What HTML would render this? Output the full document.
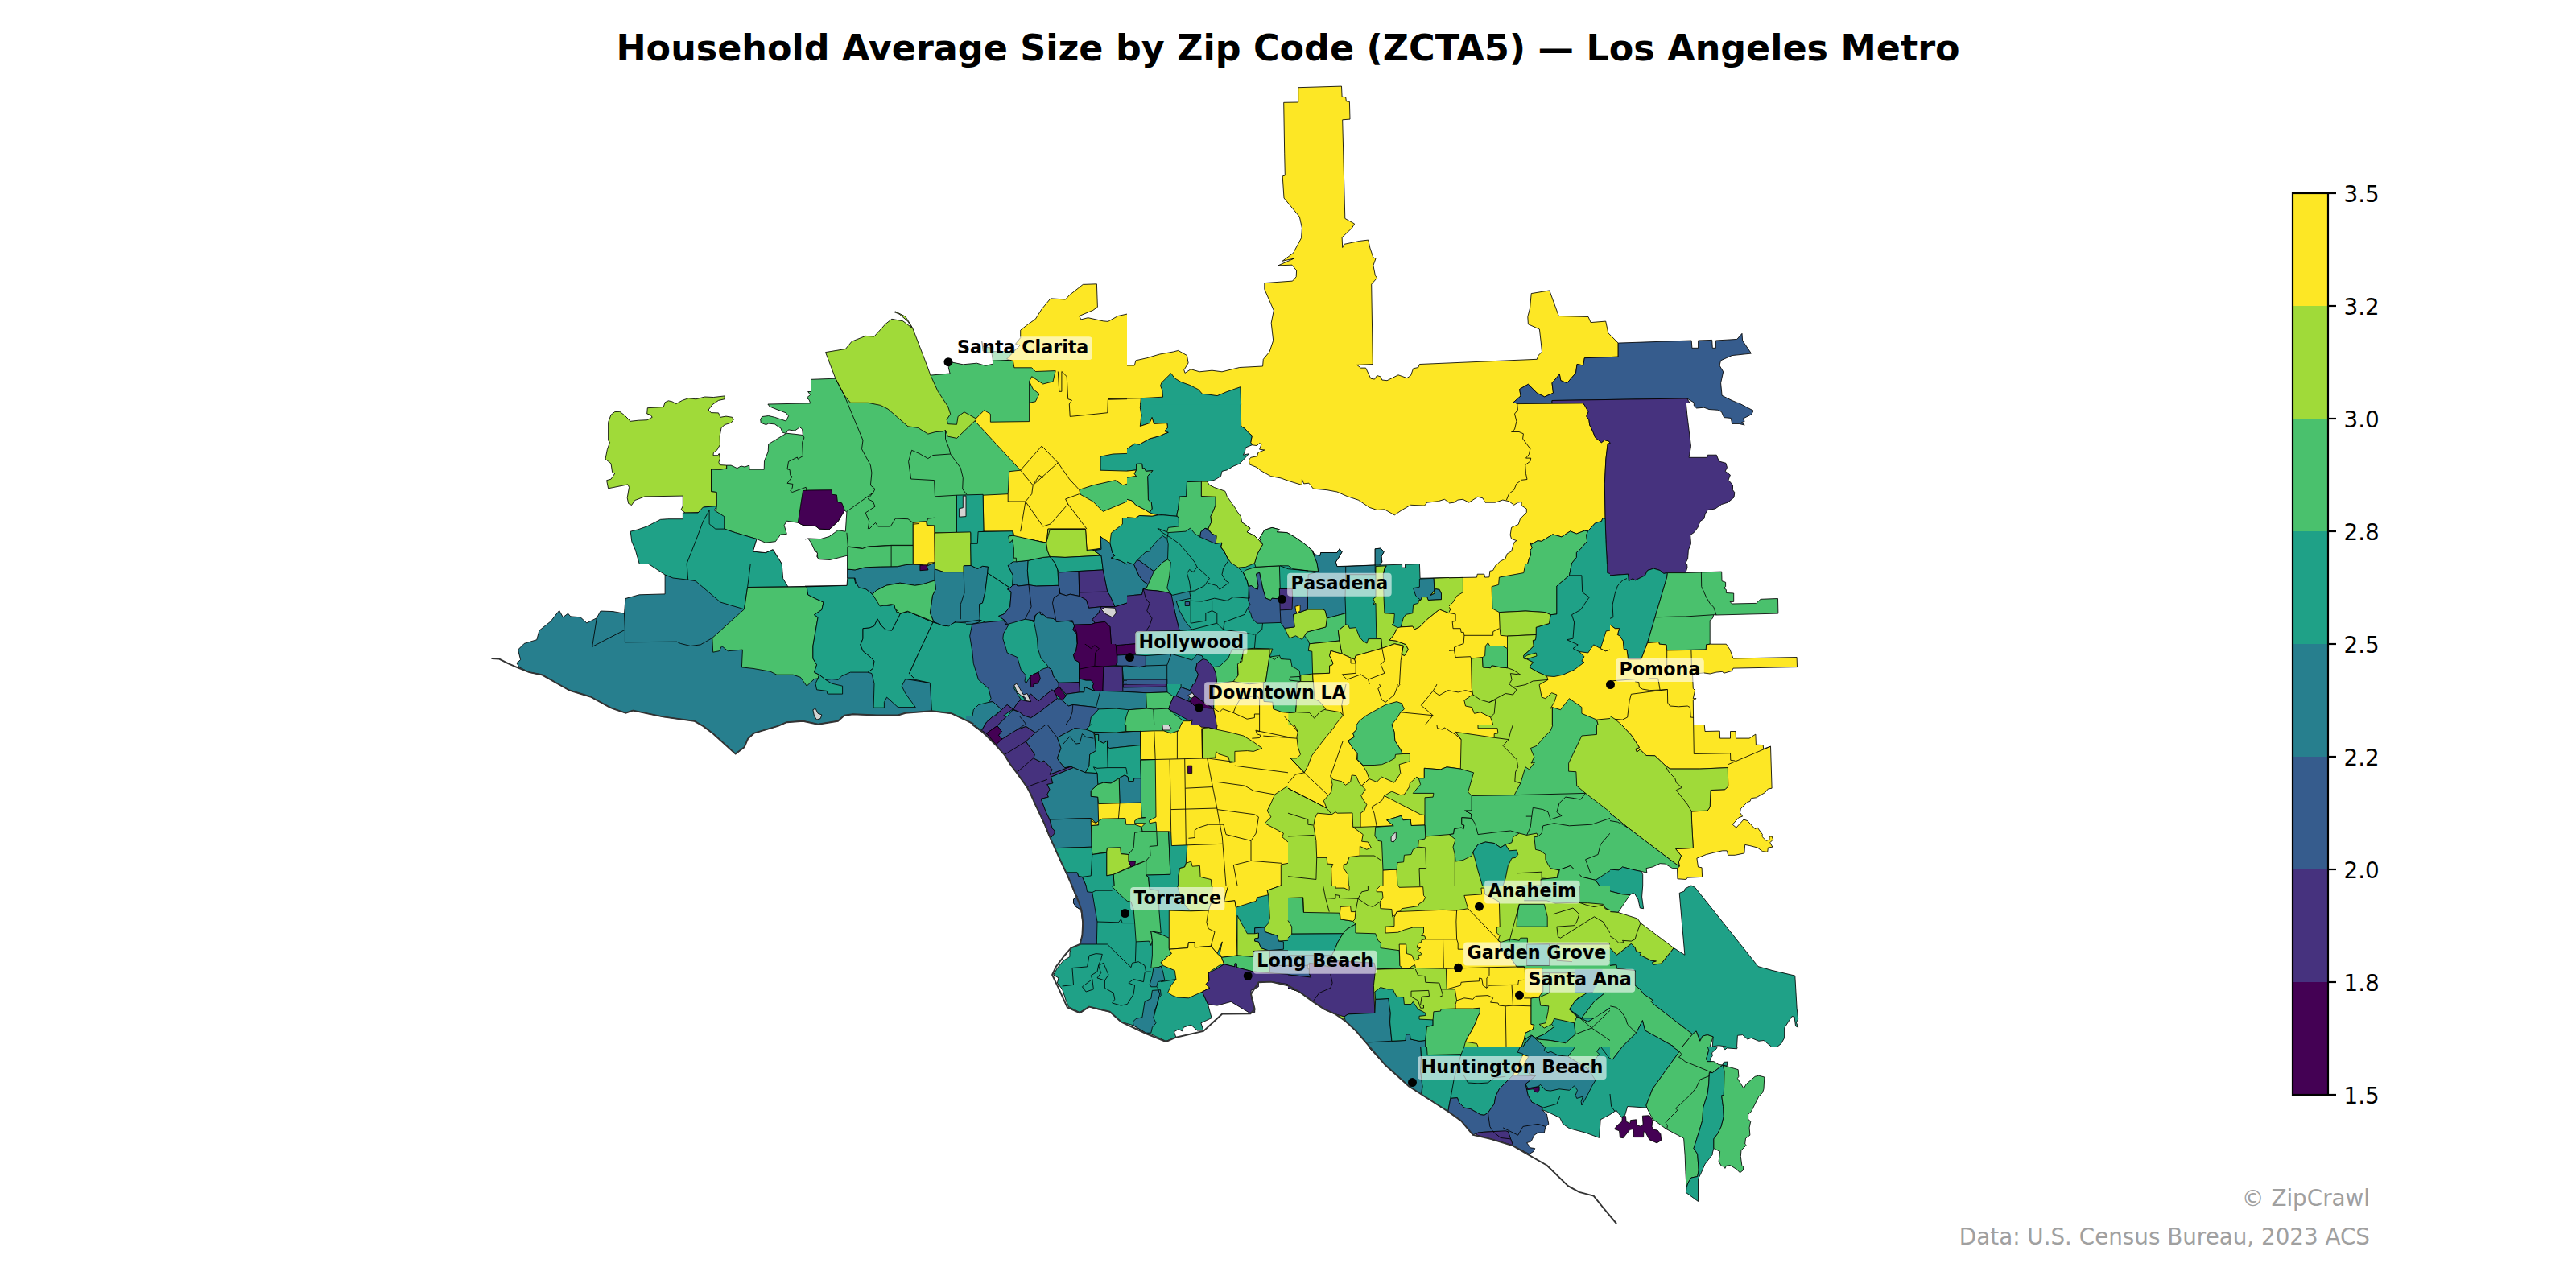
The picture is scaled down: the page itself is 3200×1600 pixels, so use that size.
<!DOCTYPE html>
<html lang="en">
<head>
<meta charset="utf-8">
<title>Household Average Size by Zip Code (ZCTA5) — Los Angeles Metro</title>
<style>
html,body{margin:0;padding:0;background:#fff;}
body{width:3200px;height:1600px;overflow:hidden;position:relative;font-family:"DejaVu Sans","Liberation Sans",sans-serif;}
svg{position:absolute;left:0;top:0;display:block;}
#map path{stroke:#000;stroke-width:0.85;stroke-linejoin:round;}
#map path.f{stroke:none;}
#map path.k{stroke:#333;stroke-width:1.95;stroke-linecap:round;}
.title{font-weight:bold;font-size:44.44px;fill:#000;}
.tick{font-size:27.78px;fill:#000;}
.foot{font-size:27.78px;fill:#a0a0a0;}
.city{font-weight:bold;font-size:22.22px;fill:#000;}
.lbox{fill:#fff;fill-opacity:0.6;}
</style>
</head>
<body>
<svg xmlns="http://www.w3.org/2000/svg" width="3200" height="1600" viewBox="0 0 3200 1600">
<rect x="0" y="0" width="3200" height="1600" fill="#ffffff"/>
<g id="map">
<path class="f" d="M1612.7,108.7L1666.5,107.1L1667.1,120.2L1671.7,120.8L1672.4,125.8L1676.4,126.4L1677.0,148.1L1667.7,148.8L1669.6,224.2L1670.8,271.4L1682.6,278.0L1679.5,283.2L1667.1,295.0L1667.7,307.5L1669.6,303.4L1688.8,299.4L1699.7,298.1L1701.9,308.1L1705.9,319.9L1709.0,321.1L1705.9,329.8L1708.4,342.2L1710.6,345.3L1703.7,353.1L1705.3,452.5L1685.7,453.4L1690.4,457.1L1696.6,457.1L1702.8,470.2L1707.5,471.1L1710.6,466.5L1715.2,468.0L1716.8,472.0L1723.0,472.7L1737.0,465.8L1747.8,469.6L1752.5,466.5L1755.6,457.8L1761.8,456.5L1763.4,452.5L1909.3,446.3L1910.9,441.6L1915.5,437.0L1914.0,423.0L1912.4,409.0L1898.4,402.8L1897.8,393.5L1900.6,382.6L1902.2,364.6L1924.8,360.9L1936.3,392.5L1973.0,393.5L1976.1,400.6L1994.7,399.1L1997.8,413.7L2010.2,426.1L2010.2,443.2L1968.3,444.7L1966.8,454.0L1959.0,452.5L1957.5,463.4L1946.6,475.8L1938.8,472.7L1937.3,464.9L1928.0,475.8L1929.5,488.2L1918.6,492.9L1909.3,488.2L1898.4,477.3L1887.6,483.5L1889.1,491.9L1879.8,500.0L1879.8,534.8L1400.0,534.8L1400.0,454.0L1409.3,454.0L1410.9,447.8L1424.8,444.7L1440.4,440.1L1457.5,437.0L1463.7,435.4L1474.5,441.6L1476.1,450.9L1470.8,459.6L1472.0,463.4L1479.2,458.7L1490.1,461.8L1505.6,460.2L1518.0,461.8L1539.8,456.5L1568.6,455.0L1569.3,446.3L1577.0,437.0L1581.7,423.0L1579.2,401.2L1582.3,385.7L1570.8,359.3L1570.8,351.6L1605.6,349.1L1610.2,343.8L1610.6,336.0L1605.0,329.2L1587.9,329.8L1607.5,321.1L1593.2,324.2L1606.5,314.3L1616.5,295.7L1617.4,283.2L1614.3,269.3L1595.0,246.0L1593.2,218.9L1596.3,218.0L1595.7,190.1L1594.7,127.3L1612.7,127.0Z" fill="#fde725"/>
<path d="M1612.7,108.7L1666.5,107.1L1667.1,120.2L1671.7,120.8L1672.4,125.8L1676.4,126.4L1677.0,148.1L1667.7,148.8L1669.6,224.2L1670.8,271.4L1682.6,278.0L1679.5,283.2L1667.1,295.0L1667.7,307.5L1669.6,303.4L1688.8,299.4L1699.7,298.1L1701.9,308.1L1705.9,319.9L1709.0,321.1L1705.9,329.8L1708.4,342.2L1710.6,345.3L1703.7,353.1L1705.3,452.5L1685.7,453.4L1690.4,457.1L1696.6,457.1L1702.8,470.2L1707.5,471.1L1710.6,466.5L1715.2,468.0L1716.8,472.0L1723.0,472.7L1737.0,465.8L1747.8,469.6L1752.5,466.5L1755.6,457.8L1761.8,456.5L1763.4,452.5L1909.3,446.3L1910.9,441.6L1915.5,437.0L1914.0,423.0L1912.4,409.0L1898.4,402.8L1897.8,393.5L1900.6,382.6L1902.2,364.6L1924.8,360.9L1936.3,392.5L1973.0,393.5L1976.1,400.6L1994.7,399.1L1997.8,413.7L2010.2,426.1L2010.2,443.2L1968.3,444.7L1966.8,454.0L1959.0,452.5L1957.5,463.4L1946.6,475.8L1938.8,472.7L1937.3,464.9L1928.0,475.8L1929.5,488.2L1918.6,492.9L1909.3,488.2L1898.4,477.3L1887.6,483.5L1889.1,491.9L1879.8,500.0M1400.0,454.0L1409.3,454.0L1410.9,447.8L1424.8,444.7L1440.4,440.1L1457.5,437.0L1463.7,435.4L1474.5,441.6L1476.1,450.9L1470.8,459.6L1472.0,463.4L1479.2,458.7L1490.1,461.8L1505.6,460.2L1518.0,461.8L1539.8,456.5L1568.6,455.0L1569.3,446.3L1577.0,437.0L1581.7,423.0L1579.2,401.2L1582.3,385.7L1570.8,359.3L1570.8,351.6L1605.6,349.1L1610.2,343.8L1610.6,336.0L1605.0,329.2L1587.9,329.8L1607.5,321.1L1593.2,324.2L1606.5,314.3L1616.5,295.7L1617.4,283.2L1614.3,269.3L1595.0,246.0L1593.2,218.9L1596.3,218.0L1595.7,190.1L1594.7,127.3L1612.7,127.0L1612.7,108.7" fill="none"/>
<path class="f" d="M2010.2,426.1L2101.2,423.0L2101.9,432.3L2109.6,432.3L2109.6,423.0L2126.7,422.4L2127.3,432.3L2131.4,432.3L2131.4,423.0L2157.8,421.4L2164.0,414.3L2164.6,423.0L2175.5,439.1L2151.6,441.6L2137.6,447.8L2136.0,454.0L2140.7,461.8L2137.6,475.8L2139.1,491.3L2151.6,497.5L2157.8,500.0L2104.3,500.0L2095.7,495.0L1928.0,497.5L1928.0,500.0L1879.8,500.0L1889.1,491.9L1887.6,483.5L1898.4,477.3L1909.3,488.2L1918.6,492.9L1929.5,488.2L1928.0,475.8L1937.3,464.9L1938.8,472.7L1946.6,475.8L1957.5,463.4L1959.0,452.5L1966.8,454.0L1968.3,444.7L2010.2,443.2Z" fill="#365c8d"/>
<path d="M2010.2,426.1L2101.2,423.0L2101.9,432.3L2109.6,432.3L2109.6,423.0L2126.7,422.4L2127.3,432.3L2131.4,432.3L2131.4,423.0L2157.8,421.4L2164.0,414.3L2164.6,423.0L2175.5,439.1L2151.6,441.6L2137.6,447.8L2136.0,454.0L2140.7,461.8L2137.6,475.8L2139.1,491.3L2151.6,497.5L2157.8,500.0M2104.3,500.0L2095.7,495.0L1928.0,497.5L1928.0,500.0M1879.8,500.0L1889.1,491.9L1887.6,483.5L1898.4,477.3L1909.3,488.2L1918.6,492.9L1929.5,488.2L1928.0,475.8L1937.3,464.9L1938.8,472.7L1946.6,475.8L1957.5,463.4L1959.0,452.5L1966.8,454.0L1968.3,444.7L2010.2,443.2L2010.2,426.1" fill="none"/>
<path class="f" d="M1928.0,500.0L1928.0,497.5L2095.7,495.0L2098.8,500.0Z" fill="#46327e"/>
<path d="M1928.0,500.0L1928.0,497.5L2095.7,495.0L2098.8,500.0" fill="none"/>
<path class="f" d="M883.5,582.8L894.1,583.2L902.6,582.0L902.6,578.1L908.1,578.1L915.8,581.7L920.5,578.9L925.2,580.1L930.6,578.1L931.1,583.2L949.2,583.2L949.5,572.7L954.2,561.0L954.7,551.7L976.4,538.5L971.7,537.0L970.2,532.3L962.4,526.9L954.7,526.1L951.6,527.6L945.3,525.3L944.6,520.7L946.9,517.5L954.7,516.5L962.4,518.3L976.4,523.0L979.5,516.8L976.4,512.9L964.0,508.2L956.2,505.1L953.9,502.0L1006.7,500.9L1005.1,496.6L1002.0,494.3L1006.7,490.4L1003.6,486.5L1007.5,486.5L1007.5,471.3L1038.5,470.2L1096.9,473.9L1155.9,466.1L1180.1,464.0L1178.3,456.8L1180.7,449.7L1196.3,452.8L1213.4,451.2L1224.2,454.3L1233.5,452.2L1233.5,447.5L1259.9,447.5L1314.3,455.3L1400.0,548.4L1400.0,700.0L971.1,700.0L960.2,682.6L950.9,686.6L935.4,685.1L940.1,669.6L913.7,661.8L899.7,657.1L888.8,641.6L890.2,628.6L890.2,611.5L883.5,610.7Z" fill="#4ac16d"/>
<path d="M883.5,582.8L894.1,583.2L902.6,582.0L902.6,578.1L908.1,578.1L915.8,581.7L920.5,578.9L925.2,580.1L930.6,578.1L931.1,583.2L949.2,583.2L949.5,572.7L954.2,561.0L954.7,551.7L976.4,538.5L971.7,537.0L970.2,532.3L962.4,526.9L954.7,526.1L951.6,527.6L945.3,525.3L944.6,520.7L946.9,517.5L954.7,516.5L962.4,518.3L976.4,523.0L979.5,516.8L976.4,512.9L964.0,508.2L956.2,505.1L953.9,502.0L1006.7,500.9L1005.1,496.6L1002.0,494.3L1006.7,490.4L1003.6,486.5L1007.5,486.5L1007.5,471.3L1038.5,470.2L1096.9,473.9L1155.9,466.1L1180.1,464.0L1178.3,456.8L1180.7,449.7L1196.3,452.8L1213.4,451.2L1224.2,454.3L1233.5,452.2L1233.5,447.5L1259.9,447.5L1314.3,455.3L1400.0,548.4M971.1,700.0L960.2,682.6L950.9,686.6L935.4,685.1L940.1,669.6L913.7,661.8L899.7,657.1L888.8,641.6L890.2,628.6L890.2,611.5L883.5,610.7L883.5,582.8" fill="none"/>
<path d="M1219.6,423.6L1221.1,436.0L1232.0,438.8L1233.5,448.4L1252.2,447.5L1267.1,434.5L1263.0,432.9L1258.4,436.6L1233.5,436.6L1230.4,432.0L1221.1,430.4Z" fill="#4ac16d"/>
<path class="f" d="M1400.0,390.1L1388.8,392.5L1376.4,399.4L1370.2,398.8L1351.6,394.7L1342.9,396.9L1340.7,392.5L1357.8,385.4L1363.4,381.4L1362.4,352.8L1345.3,353.4L1328.3,366.8L1323.6,372.0L1305.0,370.8L1294.1,383.9L1286.3,396.3L1275.5,404.0L1267.7,410.2L1267.7,419.6L1261.5,427.3L1267.1,428.9L1250.6,446.0L1258.4,448.4L1259.9,456.8L1281.7,456.8L1286.3,461.5L1311.2,460.6L1308.1,473.9L1295.7,477.0L1281.7,467.7L1278.6,473.9L1283.2,483.2L1291.0,489.4L1286.3,498.8L1278.6,500.3L1278.6,523.6L1230.4,524.2L1230.4,514.3L1222.7,509.6L1210.2,522.0L1267.7,584.2L1253.7,585.7L1252.2,613.7L1221.1,615.2L1222.0,660.2L1258.4,660.2L1259.9,666.5L1300.3,674.2L1301.9,657.1L1348.4,657.1L1350.0,683.5L1367.1,681.4L1367.1,666.5L1379.5,677.3L1400.0,657.1Z" fill="#fde725"/>
<path d="M1400.0,390.1L1388.8,392.5L1376.4,399.4L1370.2,398.8L1351.6,394.7L1342.9,396.9L1340.7,392.5L1357.8,385.4L1363.4,381.4L1362.4,352.8L1345.3,353.4L1328.3,366.8L1323.6,372.0L1305.0,370.8L1294.1,383.9L1286.3,396.3L1275.5,404.0L1267.7,410.2L1267.7,419.6L1261.5,427.3L1267.1,428.9L1250.6,446.0L1258.4,448.4L1259.9,456.8L1281.7,456.8L1286.3,461.5L1311.2,460.6L1308.1,473.9L1295.7,477.0L1281.7,467.7L1278.6,473.9L1283.2,483.2L1291.0,489.4L1286.3,498.8L1278.6,500.3L1278.6,523.6L1230.4,524.2L1230.4,514.3L1222.7,509.6L1210.2,522.0L1267.7,584.2L1253.7,585.7L1252.2,613.7L1221.1,615.2L1222.0,660.2L1258.4,660.2L1259.9,666.5L1300.3,674.2L1301.9,657.1L1348.4,657.1L1350.0,683.5L1367.1,681.4L1367.1,666.5L1379.5,677.3L1400.0,657.1" fill="none"/>
<path d="M1025.5,437.6L1050.3,433.5L1058.1,424.2L1075.2,417.4L1086.0,418.0L1100.0,402.5L1107.8,396.3L1121.7,398.8L1132.6,407.1L1128.0,399.4L1117.1,390.1L1110.9,387.6L1112.4,387.0L1124.8,393.2L1133.5,407.1L1149.7,449.1L1155.9,466.1L1165.2,486.3L1177.6,505.0L1180.7,514.3L1176.1,521.1L1177.6,526.7L1188.5,527.3L1190.1,517.4L1197.8,511.8L1213.4,520.5L1188.5,544.4L1177.6,542.2L1174.5,534.5L1171.4,536.0L1162.1,536.6L1152.8,539.1L1140.4,531.4L1128.0,529.8L1115.5,518.9L1103.1,508.1L1093.8,503.4L1078.3,500.3L1056.5,500.3L1048.8,491.0L1037.9,470.2Z" fill="#a0da39"/>
<path d="M755.6,524.5L759.0,515.2L763.7,511.6L769.9,511.3L776.1,516.0L783.1,523.3L793.2,522.2L804.0,521.7L810.2,518.3L807.9,515.2L803.7,514.0L804.3,506.7L824.2,505.6L826.1,499.7L830.4,497.8L835.1,498.9L839.8,501.6L847.5,497.4L855.3,494.7L864.6,495.8L875.5,493.0L886.3,493.5L900.3,491.9L900.0,495.8L892.5,497.4L884.8,502.8L880.1,509.0L883.2,512.6L892.5,512.9L894.9,518.3L901.9,517.1L909.6,518.3L911.2,521.7L908.1,525.3L900.3,527.6L896.0,531.5L894.1,541.6L894.4,552.5L891.0,558.7L886.3,562.6L886.0,565.7L891.8,565.7L893.3,563.4L894.4,569.6L892.9,574.2L894.1,577.6L902.6,578.1L902.6,582.0L894.1,583.2L883.5,582.8L883.5,610.7L890.2,611.5L890.2,628.6L875.2,629.8L873.9,636.3L851.4,637.1L846.0,633.2L848.3,628.6L848.3,616.1L800.9,616.9L788.5,621.6L784.6,627.5L780.7,625.5L779.2,618.5L781.5,605.3L780.0,601.9L755.6,606.8L753.6,596.7L759.0,595.2L763.7,588.2L760.6,586.6L759.0,575.8L752.0,570.3L754.3,558.7L757.5,549.4L755.6,547.0Z" fill="#a0da39"/>
<path class="f" d="M783.2,660.2L792.5,657.8L803.4,654.0L820.5,645.3L829.8,644.7L848.4,644.7L848.4,637.0L867.1,637.0L873.3,630.1L890.4,628.6L887.3,633.9L899.7,641.6L899.7,657.1L913.7,661.8L940.1,669.6L935.4,685.1L950.9,686.6L960.2,682.6L971.1,700.0L794.1,700.0L789.4,683.5L784.8,672.7Z" fill="#1fa187"/>
<path d="M783.2,660.2L792.5,657.8L803.4,654.0L820.5,645.3L829.8,644.7L848.4,644.7L848.4,637.0L867.1,637.0L873.3,630.1L890.4,628.6L887.3,633.9L899.7,641.6L899.7,657.1L913.7,661.8L940.1,669.6L935.4,685.1L950.9,686.6L960.2,682.6L971.1,700.0M794.1,700.0L789.4,683.5L784.8,672.7L783.2,660.2" fill="none"/>
<path d="M881.1,633.9L873.3,647.8L864.0,672.7L853.1,700.0" fill="none"/>
<path d="M881.1,633.9L881.1,650.9L888.8,657.1L899.7,657.1" fill="none"/>
<path class="f" d="M977.3,647.2L991.9,649.4L997.5,652.5L1013.0,653.4L1017.7,657.1L1030.1,657.8L1041.0,647.8L1048.8,633.9L1051.9,636.0L1050.3,660.2L1041.0,658.7L1030.1,666.5L1019.3,669.6L1003.7,668.9L1009.9,682.0L1014.6,685.1L1016.1,694.4L1019.3,700.0L971.1,700.0L960.2,682.6L950.9,686.6L935.4,685.1L940.1,669.6L950.9,674.2L963.4,672.7L969.6,664.0L977.3,663.4L974.2,652.5Z" fill="#ffffff"/>
<path d="M977.3,647.2L991.9,649.4L997.5,652.5L1013.0,653.4L1017.7,657.1L1030.1,657.8L1041.0,647.8L1048.8,633.9L1051.9,636.0L1050.3,660.2L1041.0,658.7L1030.1,666.5L1019.3,669.6L1003.7,668.9L1009.9,682.0L1014.6,685.1L1016.1,694.4L1019.3,700.0M971.1,700.0L960.2,682.6L950.9,686.6L935.4,685.1L940.1,669.6L950.9,674.2L963.4,672.7L969.6,664.0L977.3,663.4L974.2,652.5L977.3,647.2" fill="none"/>
<path d="M976.4,538.2L979.5,533.9L987.3,535.1L993.5,530.7L996.6,533.1L997.4,540.5L987.3,539.3Z" fill="#ffffff"/>
<path d="M997.5,609.6L1003.7,609.0L1033.2,608.7L1033.5,614.3L1039.4,614.9L1040.4,623.6L1045.7,624.8L1049.4,633.9L1041.0,647.8L1030.1,657.8L1017.7,657.1L1013.0,653.4L997.5,652.5L991.3,649.4L994.4,629.2Z" fill="#440154"/>
<path class="f" d="M1188.5,615.2L1221.1,614.3L1222.0,660.2L1258.4,660.2L1259.9,683.5L1256.8,700.0L1205.6,700.0L1205.6,661.8L1188.5,661.8Z" fill="#1fa187"/>
<path d="M1188.5,615.2L1221.1,614.3L1222.0,660.2L1258.4,660.2L1259.9,683.5L1256.8,700.0M1205.6,700.0L1205.6,661.8L1188.5,661.8L1188.5,615.2" fill="none"/>
<path d="M1196.3,616.1L1200.0,616.1L1200.0,641.6L1191.6,642.2L1191.6,631.7L1196.3,630.7Z" fill="#d3d3d3"/>
<path d="M1205.6,661.8L1205.6,675.2L1216.5,674.2L1216.5,660.9L1222.0,660.2" fill="none"/>
<path class="f" d="M1134.2,649.4L1151.2,647.8L1152.2,652.5L1160.6,653.4L1161.5,700.0L1134.2,700.0Z" fill="#fde725"/>
<path d="M1134.2,649.4L1151.2,647.8L1152.2,652.5L1160.6,653.4L1161.5,700.0M1134.2,700.0L1134.2,649.4" fill="none"/>
<path class="f" d="M1161.5,661.8L1205.6,661.8L1205.6,700.0L1161.5,700.0Z" fill="#a0da39"/>
<path d="M1161.5,661.8L1205.6,661.8L1205.6,700.0M1161.5,700.0L1161.5,661.8" fill="none"/>
<path class="f" d="M1252.2,666.5L1259.9,666.5L1300.3,674.2L1301.9,683.5L1308.1,700.0L1256.8,700.0L1259.9,683.5L1258.4,668.0Z" fill="#4ac16d"/>
<path d="M1252.2,666.5L1259.9,666.5L1300.3,674.2L1301.9,683.5L1308.1,700.0M1256.8,700.0L1259.9,683.5L1258.4,668.0L1252.2,666.5" fill="none"/>
<path class="f" d="M1301.9,657.1L1348.4,657.1L1350.0,683.5L1357.8,691.3L1345.3,691.3L1314.3,689.8L1308.1,700.0L1301.9,683.5L1300.3,674.2Z" fill="#a0da39"/>
<path d="M1301.9,657.1L1348.4,657.1L1350.0,683.5L1357.8,691.3L1345.3,691.3L1314.3,689.8L1308.1,700.0L1301.9,683.5L1300.3,674.2L1301.9,657.1" fill="none"/>
<path class="f" d="M1367.1,666.5L1379.5,677.3L1385.7,672.7L1400.0,700.0L1359.3,700.0L1357.8,691.3L1357.8,683.5L1367.1,681.4Z" fill="#277f8e"/>
<path d="M1367.1,666.5L1379.5,677.3L1385.7,672.7L1400.0,700.0M1359.3,700.0L1357.8,691.3L1357.8,683.5L1367.1,681.4L1367.1,666.5" fill="none"/>
<path class="f" d="M1400.0,657.1L1379.5,677.3L1385.7,672.7L1400.0,700.0Z" fill="#1fa187"/>
<path d="M1400.0,657.1L1379.5,677.3L1385.7,672.7L1400.0,700.0" fill="none"/>
<path class="f" d="M1367.1,567.1L1382.6,564.0L1400.0,563.4L1400.0,585.1L1367.1,584.2Z" fill="#1fa187"/>
<path d="M1367.1,567.1L1382.6,564.0L1400.0,563.4M1400.0,585.1L1367.1,584.2L1367.1,567.1" fill="none"/>
<path class="f" d="M1340.7,608.4L1357.8,602.8L1385.7,596.6L1395.0,602.8L1400.0,601.2L1400.0,623.0L1370.2,635.4L1357.8,623.0L1342.2,614.3Z" fill="#4ac16d"/>
<path d="M1340.7,608.4L1357.8,602.8L1385.7,596.6L1395.0,602.8L1400.0,601.2M1400.0,623.0L1370.2,635.4L1357.8,623.0L1342.2,614.3L1340.7,608.4" fill="none"/>
<path d="M1037.9,470.2L1048.8,491.0L1072.0,546.9L1070.5,557.8L1081.4,578.0L1082.9,587.3L1081.4,602.8L1087.0,607.5L1084.5,612.1L1051.9,635.4" fill="none"/>
<path d="M1174.5,534.5L1174.5,545.3L1179.2,557.8L1180.7,564.0L1193.2,581.1L1196.3,593.5L1195.7,607.5L1200.9,614.3" fill="none"/>
<path d="M1180.7,564.0L1159.0,565.5L1152.8,569.6L1141.9,563.4L1132.6,559.3L1128.6,573.3L1131.7,595.0L1160.6,596.6L1161.5,616.8L1188.5,615.2" fill="none"/>
<path d="M1161.5,616.8L1161.5,643.2L1152.8,644.1L1151.2,647.8" fill="none"/>
<path d="M1078.3,657.1L1079.8,647.8L1075.2,637.0L1087.0,629.2L1084.5,623.0L1078.3,619.9L1084.5,612.1" fill="none"/>
<path d="M1051.9,661.8L1053.4,678.9L1072.0,681.4L1079.8,678.9L1107.8,677.3L1134.2,677.3" fill="none"/>
<path d="M1079.8,657.1L1087.6,649.4L1090.7,654.0L1106.2,654.0L1112.4,644.1L1128.0,644.7L1134.2,649.4" fill="none"/>
<path d="M1107.8,677.3L1107.8,700.0" fill="none"/>
<path d="M997.4,540.1L998.9,543.9L996.6,549.4L997.4,566.5L991.1,570.3L990.4,568.0L979.5,573.4L978.0,582.8L981.1,583.5L981.8,590.5L984.2,592.1L978.0,600.3L984.9,601.4L984.2,606.1L981.8,609.9L984.2,611.5L1001.2,605.3L1002.0,609.9" fill="none"/>
<path d="M1267.7,584.2L1294.1,554.0L1314.3,574.8L1328.3,595.0L1340.7,608.4" fill="none"/>
<path d="M1314.3,574.8L1283.2,602.8L1267.7,584.2" fill="none"/>
<path d="M1283.2,602.8L1281.7,613.7L1273.9,623.0L1252.2,623.0L1252.2,613.7" fill="none"/>
<path d="M1273.9,623.0L1267.7,660.2" fill="none"/>
<path d="M1283.2,602.8L1291.0,590.4L1295.7,593.5" fill="none"/>
<path d="M1273.9,623.0L1295.7,654.0L1305.0,650.9L1326.7,626.1L1323.6,619.9L1340.7,613.7" fill="none"/>
<path d="M1326.7,626.1L1350.0,657.1" fill="none"/>
<path d="M1278.6,500.3L1278.6,473.9" fill="none"/>
<path d="M1314.3,461.5L1315.8,486.3L1318.9,486.3L1318.9,461.5L1325.2,467.7L1326.7,495.7L1331.4,497.2L1328.3,501.9L1329.2,517.4L1360.9,514.3L1375.8,512.7L1376.4,496.3L1400.0,495.7" fill="none"/>
<path class="f" d="M826.1,714.0L826.1,737.9L794.1,738.8L777.0,743.5L775.5,762.1L761.5,759.6L746.0,759.0L741.3,767.7L728.9,773.9L721.1,766.8L708.7,765.8L705.6,762.1L699.4,766.8L694.7,758.4L683.9,772.0L669.9,783.2L666.8,794.7L651.2,799.4L643.5,807.1L646.6,819.6L641.9,823.6L645.0,828.9L657.5,835.1L673.0,838.2L707.1,857.5L733.5,865.5L758.4,879.2L777.0,885.7L786.3,882.6L823.6,890.4L862.4,895.7L873.3,901.9L885.7,911.2L913.7,936.6L924.5,928.3L929.2,917.4L937.0,910.6L966.5,901.9L977.3,897.2L997.5,895.7L1016.1,899.7L1041.0,895.7L1048.8,888.8L1059.6,887.3L1089.1,888.5L1115.5,888.5L1124.8,885.7L1157.5,883.2L1182.3,886.3L1208.7,898.8L1227.3,898.8L1227.3,700.0L1051.9,700.0L1051.9,727.3L978.9,728.9L910.6,731.1L848.4,715.5Z" fill="#277f8e"/>
<path d="M826.1,714.0L826.1,737.9L794.1,738.8L777.0,743.5L775.5,762.1L761.5,759.6L746.0,759.0L741.3,767.7L728.9,773.9L721.1,766.8L708.7,765.8L705.6,762.1L699.4,766.8L694.7,758.4L683.9,772.0L669.9,783.2L666.8,794.7L651.2,799.4L643.5,807.1L646.6,819.6L641.9,823.6L645.0,828.9L657.5,835.1L673.0,838.2L707.1,857.5L733.5,865.5L758.4,879.2L777.0,885.7L786.3,882.6L823.6,890.4L862.4,895.7L873.3,901.9L885.7,911.2L913.7,936.6L924.5,928.3L929.2,917.4L937.0,910.6L966.5,901.9L977.3,897.2L997.5,895.7L1016.1,899.7L1041.0,895.7L1048.8,888.8L1059.6,887.3L1089.1,888.5L1115.5,888.5L1124.8,885.7L1157.5,883.2L1182.3,886.3L1208.7,898.8L1227.3,898.8L1227.3,700.0M1051.9,700.0L1051.9,727.3L978.9,728.9L910.6,731.1L848.4,715.5L826.1,714.0" fill="none"/>
<path class="f" d="M805.0,700.0L814.3,706.2L826.1,714.0L836.0,718.0L854.7,720.2L864.0,721.7L895.0,748.1L924.5,756.8L928.6,729.5L978.9,728.9L972.7,718.6L971.1,700.0Z" fill="#1fa187"/>
<path d="M805.0,700.0L814.3,706.2L826.1,714.0L836.0,718.0L854.7,720.2L864.0,721.7L895.0,748.1L924.5,756.8L928.6,729.5L978.9,728.9L972.7,718.6L971.1,700.0" fill="none"/>
<path d="M853.1,700.0L854.7,720.2" fill="none"/>
<path d="M932.3,700.0L928.6,729.5" fill="none"/>
<path d="M928.6,729.5L1002.2,728.9L1003.7,738.8L1013.0,743.5L1023.0,748.1L1020.8,757.5L1011.5,763.7L1016.1,766.8L1009.9,802.5L1009.9,818.0L1014.6,825.8L1011.5,835.1L1017.7,838.2L1016.1,842.9L1011.5,843.5L1002.2,852.2L994.4,841.3L985.1,838.2L964.9,838.2L957.1,834.2L935.4,830.4L921.4,828.9L922.4,807.1L904.3,808.7L896.6,802.5L893.5,808.7L885.7,810.2L884.8,792.5L924.5,756.8Z" fill="#4ac16d"/>
<path d="M1002.2,728.9L1051.9,727.3L1052.8,717.7L1061.2,717.7L1062.7,724.8L1068.9,729.5L1075.2,731.1L1084.5,738.8L1093.8,751.2L1103.1,752.2L1110.9,751.2L1114.0,760.6L1118.6,762.1L1112.4,774.5L1107.8,783.2L1100.0,782.3L1093.8,776.1L1090.1,768.9L1086.0,777.6L1079.8,780.1L1072.0,780.7L1072.0,793.2L1068.9,800.9L1072.0,808.7L1079.8,814.9L1086.0,821.1L1084.5,830.4L1078.3,835.1L1056.5,835.1L1045.7,839.8L1041.0,844.4L1033.2,843.5L1025.5,844.4L1017.7,838.2L1011.5,835.1L1014.6,825.8L1009.9,818.0L1009.9,802.5L1016.1,766.8L1011.5,763.7L1020.8,757.5L1023.0,748.1L1013.0,743.5L1003.7,738.8Z" fill="#1fa187"/>
<path d="M1017.7,838.2L1025.5,844.4L1033.2,849.1L1046.6,852.2L1046.6,862.1L1028.0,862.1L1027.0,858.4L1014.6,856.8L1013.0,849.1L1016.1,842.9Z" fill="#1fa187"/>
<path d="M1072.0,780.7L1079.8,780.1L1086.0,777.6L1090.1,768.9L1093.8,776.1L1100.0,782.3L1107.8,783.2L1112.4,774.5L1118.6,762.1L1128.0,759.6L1159.0,773.0L1129.5,836.6L1137.3,844.4L1124.8,843.5L1120.2,852.2L1124.8,861.5L1137.3,878.6L1115.5,878.6L1101.6,866.1L1098.4,872.4L1098.4,879.2L1085.1,879.2L1086.0,849.1L1082.9,836.6L1078.3,835.1L1084.5,830.4L1086.0,821.1L1079.8,814.9L1072.0,808.7L1068.9,800.9L1072.0,793.2Z" fill="#1fa187"/>
<path d="M1084.5,738.8L1096.9,731.1L1115.5,725.5L1134.2,727.3L1161.5,720.2L1160.6,755.9L1155.9,759.0L1159.0,773.0L1128.0,759.6L1118.6,762.1L1114.0,760.6L1110.9,751.2L1103.1,752.2L1093.8,751.2Z" fill="#4ac16d"/>
<path d="M1159.0,773.0L1174.5,777.6L1187.0,773.0L1208.7,774.5L1204.0,790.1L1207.1,818.0L1216.5,844.4L1227.3,861.5L1235.1,872.4L1219.6,883.2L1214.9,877.0L1210.2,883.2L1208.7,898.8L1182.3,886.3L1157.5,883.2L1155.3,848.4L1137.3,844.4L1129.5,836.6Z" fill="#1fa187"/>
<path d="M1009.9,881.7L1013.0,880.1L1016.1,886.3L1020.8,887.9L1019.3,892.5L1014.6,894.1L1011.5,889.4Z" fill="#d3d3d3"/>
<path d="M735.7,803.4L741.3,767.7" fill="none"/>
<path d="M735.7,803.4L776.4,782.3L776.4,797.8L840.7,797.2L845.3,799.4L857.8,802.5L870.2,800.9L884.8,792.5" fill="none"/>
<path d="M775.5,762.1L776.4,782.3" fill="none"/>
<path d="M1155.3,848.4L1124.8,843.5" fill="none"/>
<path class="f" d="M1200.0,700.0L1600.0,700.0L1600.0,900.0L1200.0,900.0Z" fill="#1fa187"/>
<path class="f" d="M1200.0,700.0L1227.2,700.0L1228.0,706.2L1225.6,711.6L1224.8,737.3L1221.0,751.2L1217.1,753.6L1216.3,773.0L1207.8,775.3L1200.0,775.3Z" fill="#277f8e"/>
<path d="M1227.2,700.0L1228.0,706.2L1225.6,711.6L1224.8,737.3L1221.0,751.2L1217.1,753.6L1216.3,773.0L1207.8,775.3L1200.0,775.3" fill="none"/>
<path class="f" d="M1252.8,700.0L1277.6,700.0L1276.9,727.2L1263.7,726.4L1259.8,728.7L1257.5,715.5L1253.6,706.2Z" fill="#277f8e"/>
<path d="M1277.6,700.0L1276.9,727.2L1263.7,726.4L1259.8,728.7L1257.5,715.5L1253.6,706.2L1252.8,700.0" fill="none"/>
<path d="M1314.9,711.6L1340.5,710.1L1340.5,745.0L1350.6,745.8L1351.4,755.1L1369.3,754.3L1367.7,759.0L1363.0,762.1L1364.6,766.0L1361.5,769.1L1356.8,765.2L1355.3,768.3L1358.4,771.4L1356.1,776.1L1346.0,775.3L1335.1,776.9L1332.8,773.0L1324.2,770.7L1313.4,772.2L1308.7,768.3L1302.5,766.8L1299.4,763.7L1293.2,763.7L1290.1,759.8L1286.2,765.2L1284.6,773.0L1274.5,767.5L1262.1,769.9L1254.3,773.8L1249.7,776.1L1246.6,769.9L1240.4,764.4L1251.2,746.6L1254.3,735.7L1252.8,731.1L1257.5,728.7L1263.7,726.4L1276.9,727.2L1280.7,728.7L1288.5,727.2L1299.4,728.0L1314.9,727.2L1317.2,735.7L1315.7,720.2Z" fill="#365c8d"/>
<path d="M1204.7,790.1L1207.8,775.3L1223.3,773.0L1246.6,769.9L1249.7,776.1L1254.3,773.8L1246.6,787.0L1245.8,793.2L1249.7,805.6L1251.2,811.0L1263.7,816.5L1268.3,832.0L1274.5,839.0L1273.0,846.0L1274.5,849.1L1280.0,839.8L1284.6,837.4L1290.1,835.1L1293.2,832.0L1297.0,830.4L1302.5,828.9L1306.4,832.0L1308.7,839.8L1314.9,848.3L1315.7,853.0L1308.7,858.4L1307.1,856.8L1299.4,863.0L1290.1,870.8L1280.7,862.3L1277.6,864.6L1280.7,871.6L1274.5,870.8L1269.9,864.6L1265.2,855.3L1260.6,850.6L1259.8,855.3L1268.3,869.3L1264.4,872.4L1259.0,880.9L1251.2,875.5L1244.3,881.7L1233.4,871.6L1228.0,872.4L1231.1,867.7L1228.0,855.3L1215.5,844.4L1209.3,824.2L1207.8,808.7Z" fill="#365c8d"/>
<path class="f" d="M1228.0,872.4L1233.4,871.6L1244.3,881.7L1231.1,892.5L1218.6,900.0L1200.0,900.0L1200.0,894.1L1207.8,891.0L1209.3,881.7L1215.5,875.5Z" fill="#277f8e"/>
<path d="M1228.0,872.4L1233.4,871.6L1244.3,881.7L1231.1,892.5L1218.6,900.0M1200.0,894.1L1207.8,891.0L1209.3,881.7L1215.5,875.5L1228.0,872.4" fill="none"/>
<path d="M1286.2,765.2L1290.1,759.8L1293.2,763.7L1299.4,763.7L1302.5,766.8L1308.7,768.3L1313.4,772.2L1324.2,770.7L1332.8,773.0L1335.1,776.9L1332.8,782.3L1337.4,787.0L1338.2,799.4L1336.6,808.7L1333.5,813.4L1335.1,819.6L1340.5,822.7L1340.5,847.5L1330.4,848.3L1315.7,848.3L1314.9,848.3L1308.7,839.8L1306.4,832.0L1302.5,828.9L1299.4,824.2L1293.2,818.0L1289.3,805.6L1288.5,793.2L1286.2,780.7L1284.6,773.0Z" fill="#277f8e"/>
<path d="M1332.8,782.3L1335.1,776.9L1346.0,775.3L1356.1,776.1L1358.4,771.4L1369.3,774.5L1378.6,777.6L1380.1,787.0L1386.3,800.9L1387.9,822.7L1386.3,826.6L1370.8,828.1L1370.0,858.4L1359.9,858.4L1356.8,853.7L1358.4,849.1L1355.3,845.2L1349.1,845.2L1340.5,842.9L1340.5,822.7L1335.1,819.6L1333.5,813.4L1336.6,808.7L1338.2,799.4L1337.4,787.0Z" fill="#440154"/>
<path d="M1386.3,801.7L1410.4,799.4L1410.4,812.6L1387.9,814.1Z" fill="#440154"/>
<path d="M1340.5,799.4L1346.0,798.6L1355.3,805.6L1359.9,801.7L1365.4,805.6L1360.7,811.0L1359.9,827.3" fill="none"/>
<path d="M1340.5,831.2L1359.9,827.3L1370.8,828.1" fill="none"/>
<path d="M1340.5,710.1L1370.0,709.3L1373.1,726.4L1377.0,734.9L1380.1,745.0L1385.6,753.6L1369.3,754.3L1351.4,755.1L1350.6,745.8L1340.5,745.0Z" fill="#46327e"/>
<path d="M1340.5,735.7L1377.0,734.9" fill="none"/>
<path d="M1361.5,769.1L1364.6,766.0L1363.0,762.1L1367.7,759.0L1370.8,762.1L1381.7,767.5L1387.1,761.3L1385.6,753.6L1401.9,745.0L1408.1,739.6L1417.4,738.0L1420.5,737.3L1419.7,731.1L1423.6,731.1L1432.9,735.7L1448.4,736.0L1454.7,739.6L1456.2,751.2L1460.9,768.3L1465.5,783.9L1454.7,784.6L1411.2,784.6L1410.4,799.4L1386.3,801.7L1380.1,787.0L1378.6,777.6L1369.3,774.5L1358.4,771.4Z" fill="#46327e"/>
<path d="M1420.5,737.3L1425.2,746.6L1423.6,754.3L1428.3,762.1L1425.9,773.0L1431.4,777.6L1423.6,784.6" fill="none"/>
<path d="M1368.5,757.5L1370.8,754.0L1385.6,754.3L1387.1,761.3L1381.7,767.5L1370.8,762.1Z" fill="#d3d3d3"/>
<path class="f" d="M1370.0,700.0L1442.2,700.0L1432.9,715.5L1434.5,717.1L1425.2,726.4L1420.5,731.1L1419.7,731.1L1420.5,737.3L1408.1,739.6L1401.9,745.0L1385.6,753.6L1380.1,745.0L1377.0,734.9L1373.1,726.4L1370.0,709.3Z" fill="#277f8e"/>
<path d="M1442.2,700.0L1432.9,715.5L1434.5,717.1L1425.2,726.4L1420.5,731.1L1419.7,731.1L1420.5,737.3L1408.1,739.6L1401.9,745.0L1385.6,753.6L1380.1,745.0L1377.0,734.9L1373.1,726.4L1370.0,709.3L1370.0,700.0" fill="none"/>
<path d="M1391.8,700.0L1395.7,715.5L1403.4,731.1L1408.1,739.6" fill="none"/>
<path class="f" d="M1409.6,700.0L1417.4,700.0L1432.9,715.5L1434.5,717.1L1425.2,726.4L1416.6,715.5L1412.7,706.2Z" fill="#365c8d"/>
<path d="M1417.4,700.0L1432.9,715.5L1434.5,717.1L1425.2,726.4L1416.6,715.5L1412.7,706.2L1409.6,700.0" fill="none"/>
<path class="f" d="M1442.2,700.0L1454.7,700.0L1452.3,720.2L1449.2,729.5L1456.2,738.0L1454.7,739.6L1448.4,736.0L1432.9,735.7L1423.6,731.1L1420.5,731.1L1425.2,726.4L1434.5,717.1L1432.9,715.5Z" fill="#4ac16d"/>
<path d="M1454.7,700.0L1452.3,720.2L1449.2,729.5L1456.2,738.0L1454.7,739.6L1448.4,736.0L1432.9,735.7L1423.6,731.1L1420.5,731.1L1425.2,726.4L1434.5,717.1L1432.9,715.5L1442.2,700.0" fill="none"/>
<path d="M1456.2,738.0L1478.0,732.6L1479.5,745.8L1461.6,746.6L1467.1,762.1L1473.3,773.0L1481.1,780.7L1478.0,783.9L1465.5,783.9L1460.9,768.3L1456.2,751.2L1454.7,739.6Z" fill="#277f8e"/>
<path d="M1472.5,747.4L1478.0,747.4L1478.0,752.0L1472.5,752.0Z" fill="#365c8d"/>
<path d="M1543.9,712.4L1549.4,709.3L1563.4,706.2L1572.7,707.0L1589.8,707.8L1589.8,731.8L1589.8,745.0L1578.9,745.8L1571.9,743.5L1568.0,731.1L1564.1,711.6L1560.2,714.0L1563.4,733.4L1555.6,728.0L1550.2,728.7L1547.8,720.2Z" fill="#4ac16d"/>
<path class="f" d="M1550.2,728.7L1555.6,728.0L1563.4,733.4L1560.2,714.0L1564.1,711.6L1568.0,731.1L1571.9,743.5L1578.9,745.8L1589.8,745.0L1589.8,757.5L1600.0,758.2L1600.0,780.7L1594.4,777.6L1589.8,773.0L1572.7,773.0L1568.0,771.4L1561.8,774.5L1557.1,768.3L1552.5,763.7L1550.2,754.3L1552.5,748.1L1550.2,738.8Z" fill="#365c8d"/>
<path d="M1550.2,728.7L1555.6,728.0L1563.4,733.4L1560.2,714.0L1564.1,711.6L1568.0,731.1L1571.9,743.5L1578.9,745.8L1589.8,745.0L1589.8,757.5L1600.0,758.2M1600.0,780.7L1594.4,777.6L1589.8,773.0L1572.7,773.0L1568.0,771.4L1561.8,774.5L1557.1,768.3L1552.5,763.7L1550.2,754.3L1552.5,748.1L1550.2,738.8L1550.2,728.7" fill="none"/>
<path class="f" d="M1589.8,731.8L1600.0,731.1L1600.0,758.2L1589.8,757.5Z" fill="#46327e"/>
<path d="M1589.8,731.8L1600.0,731.1M1600.0,758.2L1589.8,757.5L1589.8,731.8" fill="none"/>
<path class="f" d="M1530.7,700.0L1560.2,700.0L1557.1,703.1L1546.3,704.7L1538.5,703.9Z" fill="#a0da39"/>
<path d="M1560.2,700.0L1557.1,703.1L1546.3,704.7L1538.5,703.9L1530.7,700.0" fill="none"/>
<path d="M1387.9,814.1L1410.4,812.6L1423.6,813.4L1423.6,826.6L1394.1,827.3L1386.3,826.6L1387.9,822.7Z" fill="#365c8d"/>
<path d="M1423.6,813.4L1456.2,812.6L1454.7,818.0L1450.0,826.6L1449.2,844.4L1395.7,845.2L1394.1,827.3L1423.6,826.6Z" fill="#277f8e"/>
<path d="M1395.7,845.2L1449.2,844.4L1450.0,859.9L1423.6,860.7L1394.1,859.2L1394.9,851.4Z" fill="#365c8d"/>
<path d="M1395.3,850.3L1448.4,849.4L1448.4,853.0L1395.3,854.0Z" fill="#46327e"/>
<path d="M1370.8,828.1L1394.1,827.3L1394.9,859.2L1370.0,858.4Z" fill="#46327e"/>
<path d="M1340.5,842.9L1349.1,845.2L1355.3,845.2L1358.4,849.1L1356.8,853.7L1359.9,858.4L1347.5,853.7L1346.7,859.9L1341.3,859.9Z" fill="#277f8e"/>
<path d="M1315.7,848.3L1340.5,847.5L1341.3,859.9L1324.2,862.3L1318.0,855.3L1314.9,853.0Z" fill="#46327e"/>
<path d="M1308.7,858.4L1315.7,853.0L1324.2,864.6L1319.6,870.0L1311.8,863.0Z" fill="#440154"/>
<path d="M1280.0,839.8L1284.6,837.4L1290.1,835.1L1292.4,842.9L1289.3,849.1L1283.9,849.8L1283.9,853.0L1280.7,853.7Z" fill="#440154"/>
<path d="M1259.8,851.4L1262.9,849.1L1266.8,855.3L1271.4,863.0L1276.1,861.5L1280.7,871.6L1275.3,870.8L1273.0,866.1L1269.1,864.6L1263.7,859.9Z" fill="#d3d3d3"/>
<path d="M1324.2,862.3L1341.3,859.9L1346.7,859.9L1347.5,853.7L1359.9,858.4L1370.0,858.4L1394.9,859.2L1423.6,860.7L1424.4,880.1L1401.9,881.7L1386.3,880.1L1364.6,880.9L1361.5,878.6L1332.8,875.5L1327.3,877.0L1319.6,870.0L1324.2,864.6Z" fill="#277f8e"/>
<path d="M1366.9,858.4L1361.5,878.6" fill="none"/>
<path d="M1259.0,880.9L1264.4,872.4L1268.3,869.3L1274.5,870.8L1280.7,871.6L1277.6,864.6L1280.7,862.3L1290.1,870.8L1299.4,863.0L1307.1,856.8L1308.7,858.4L1311.8,863.0L1313.4,867.7L1293.2,883.2L1280.7,891.8L1271.4,888.7L1266.8,884.8L1258.2,880.9Z" fill="#46327e"/>
<path class="f" d="M1251.2,875.5L1258.2,880.9L1231.1,900.0L1224.8,900.0L1244.3,881.7Z" fill="#46327e"/>
<path d="M1251.2,875.5L1258.2,880.9L1231.1,900.0M1224.8,900.0L1244.3,881.7L1251.2,875.5" fill="none"/>
<path class="f" d="M1313.4,867.7L1319.6,870.0L1327.3,877.0L1332.8,875.5L1361.5,878.6L1364.6,880.9L1361.5,884.8L1355.3,891.0L1353.7,900.0L1243.5,900.0L1258.2,881.7L1266.8,884.8L1271.4,888.7L1280.7,891.8L1293.2,883.2Z" fill="#365c8d"/>
<path d="M1313.4,867.7L1319.6,870.0L1327.3,877.0L1332.8,875.5L1361.5,878.6L1364.6,880.9L1361.5,884.8L1355.3,891.0L1353.7,900.0M1243.5,900.0L1258.2,881.7L1266.8,884.8L1271.4,888.7L1280.7,891.8L1293.2,883.2L1313.4,867.7" fill="none"/>
<path d="M1332.8,875.5L1332.0,884.8L1328.9,893.3L1324.2,900.0" fill="none"/>
<path class="f" d="M1401.9,881.7L1424.4,880.1L1423.6,860.7L1450.0,859.9L1457.8,865.4L1454.7,872.4L1451.6,880.9L1464.0,891.0L1470.2,895.7L1467.1,900.0L1397.2,900.0L1398.8,891.0Z" fill="#4ac16d"/>
<path d="M1401.9,881.7L1424.4,880.1L1423.6,860.7L1450.0,859.9L1457.8,865.4L1454.7,872.4L1451.6,880.9L1464.0,891.0L1470.2,895.7L1467.1,900.0M1397.2,900.0L1398.8,891.0L1401.9,881.7" fill="none"/>
<path d="M1424.4,880.1L1432.9,880.9L1451.6,880.1" fill="none"/>
<path d="M1432.9,880.9L1433.7,900.0" fill="none"/>
<path d="M1456.2,812.6L1479.5,819.6L1484.2,814.9L1494.3,813.4L1491.9,821.1L1487.3,824.2L1485.7,828.9L1488.8,836.6L1485.7,842.9L1482.6,849.1L1479.5,855.3L1478.0,857.6L1467.1,853.7L1467.1,849.1L1454.7,842.9L1449.2,840.5L1450.0,826.6L1454.7,818.0Z" fill="#277f8e"/>
<path d="M1467.1,853.7L1478.0,857.6L1484.2,861.5L1476.4,867.7L1479.5,872.4L1460.9,864.6L1464.0,858.4Z" fill="#365c8d"/>
<path class="f" d="M1460.9,864.6L1479.5,872.4L1485.7,878.6L1507.5,880.1L1512.1,900.0L1479.5,900.0L1481.1,894.1L1478.0,895.7L1451.6,880.9L1454.7,872.4L1457.8,865.4Z" fill="#46327e"/>
<path d="M1460.9,864.6L1479.5,872.4L1485.7,878.6L1507.5,880.1L1512.1,900.0M1479.5,900.0L1481.1,894.1L1478.0,895.7L1451.6,880.9L1454.7,872.4L1457.8,865.4L1460.9,864.6" fill="none"/>
<path d="M1494.3,813.4L1504.3,822.7L1509.0,828.9L1511.3,839.8L1509.0,849.1L1508.2,855.3L1507.5,880.1L1495.8,872.4L1484.2,864.6L1481.1,860.7L1478.0,857.6L1479.5,855.3L1485.7,842.9L1488.8,836.6L1485.7,828.9L1487.3,824.2L1491.9,821.1Z" fill="#46327e"/>
<path d="M1479.5,867.7L1484.2,864.6L1495.0,872.4L1507.5,880.1L1485.7,878.6L1478.0,870.8Z" fill="#440154"/>
<path d="M1475.6,863.8L1481.1,860.7L1484.2,864.6L1479.5,867.7Z" fill="#d3d3d3"/>
<path class="f" d="M1507.5,880.1L1526.1,881.7L1541.6,878.6L1564.9,875.5L1569.6,869.3L1582.0,880.1L1600.0,886.3L1600.0,900.0L1512.1,900.0Z" fill="#fde725"/>
<path d="M1507.5,880.1L1526.1,881.7L1541.6,878.6L1564.9,875.5L1569.6,869.3L1582.0,880.1L1600.0,886.3M1512.1,900.0L1507.5,880.1" fill="none"/>
<path class="f" d="M1467.1,900.0L1470.2,895.7L1478.0,895.7L1481.1,894.1L1479.5,900.0Z" fill="#fde725"/>
<path d="M1467.1,900.0L1470.2,895.7L1478.0,895.7L1481.1,894.1L1479.5,900.0" fill="none"/>
<path d="M1494.3,813.4L1507.5,814.9L1510.6,827.3L1523.0,821.1L1538.5,822.7L1541.6,830.4L1535.4,842.9L1535.4,847.5L1509.0,849.1L1511.3,839.8L1509.0,828.9L1504.3,822.7Z" fill="#4ac16d"/>
<path d="M1557.1,807.1L1581.2,805.6L1577.3,814.9L1575.8,836.6L1572.7,847.5L1535.4,847.5L1535.4,842.9L1541.6,830.4L1538.5,822.7L1546.3,814.9Z" fill="#a0da39"/>
<path class="f" d="M1581.2,805.6L1600.0,807.1L1600.0,886.3L1582.0,880.1L1569.6,869.3L1564.9,875.5L1541.6,878.6L1526.1,881.7L1507.5,880.1L1508.2,855.3L1509.0,849.1L1535.4,847.5L1572.7,847.5L1575.8,836.6L1577.3,814.9Z" fill="#4ac16d"/>
<path d="M1581.2,805.6L1600.0,807.1M1600.0,886.3L1582.0,880.1L1569.6,869.3L1564.9,875.5L1541.6,878.6L1526.1,881.7L1507.5,880.1L1508.2,855.3L1509.0,849.1L1535.4,847.5L1572.7,847.5L1575.8,836.6L1577.3,814.9L1581.2,805.6" fill="none"/>
<path class="f" d="M1200.0,893.3L1209.3,900.0L1200.0,900.0Z" fill="#ffffff"/>
<path class="f" d="M1207.8,900.0L1218.9,908.1L1225.2,913.7L1237.3,925.9L1247.7,937.6L1255.4,950.0L1263.7,960.9L1271.4,971.7L1276.1,978.4L1280.7,987.0L1285.6,998.4L1291.9,1011.6L1297.8,1024.2L1302.8,1036.6L1304.3,1040.1L1311.8,1056.8L1318.9,1072.4L1325.5,1086.3L1327.2,1090.1L1331.5,1100.0L1600.0,1100.0L1600.0,900.0Z" fill="#fde725"/>
<path d="M1207.8,900.0L1218.9,908.1L1225.2,913.7L1237.3,925.9L1247.7,937.6L1255.4,950.0L1263.7,960.9L1271.4,971.7L1276.1,978.4L1280.7,987.0L1285.6,998.4L1291.9,1011.6L1297.8,1024.2L1302.8,1036.6L1304.3,1040.1L1311.8,1056.8L1318.9,1072.4L1325.5,1086.3L1327.2,1090.1L1331.5,1100.0" fill="none"/>
<path class="f" d="M1207.8,900.0L1223.3,900.0L1219.4,907.0L1225.2,913.7L1218.9,908.1Z" fill="#277f8e"/>
<path d="M1223.3,900.0L1219.4,907.0L1225.2,913.7L1218.9,908.1L1207.8,900.0" fill="none"/>
<path class="f" d="M1223.3,900.0L1240.4,900.0L1237.3,902.3L1241.9,903.1L1245.0,917.1L1262.1,907.0L1274.5,902.3L1286.2,910.1L1274.5,921.0L1285.4,937.3L1283.9,941.9L1293.2,946.6L1297.0,945.0L1307.1,955.9L1304.0,962.1L1330.4,952.0L1333.5,953.6L1305.6,965.2L1307.9,973.0L1300.9,974.5L1304.0,980.7L1300.9,987.0L1302.5,990.1L1293.2,992.4L1299.4,1008.7L1304.0,1018.0L1307.1,1028.9L1310.2,1032.0L1310.2,1035.1L1305.6,1040.5L1304.3,1040.1L1302.8,1036.6L1297.8,1024.2L1291.9,1011.6L1285.6,998.4L1280.7,987.0L1276.1,978.4L1271.4,971.7L1263.7,960.9L1255.4,950.0L1247.7,937.6L1237.3,925.9L1225.2,913.7L1219.4,907.0Z" fill="#46327e"/>
<path d="M1240.4,900.0L1237.3,902.3L1241.9,903.1L1245.0,917.1L1262.1,907.0L1274.5,902.3L1286.2,910.1L1274.5,921.0L1285.4,937.3L1283.9,941.9L1293.2,946.6L1297.0,945.0L1307.1,955.9L1304.0,962.1L1330.4,952.0L1333.5,953.6L1305.6,965.2L1307.9,973.0L1300.9,974.5L1304.0,980.7L1300.9,987.0L1302.5,990.1L1293.2,992.4L1299.4,1008.7L1304.0,1018.0L1307.1,1028.9L1310.2,1032.0L1310.2,1035.1L1305.6,1040.5L1304.3,1040.1L1302.8,1036.6L1297.8,1024.2L1291.9,1011.6L1285.6,998.4L1280.7,987.0L1276.1,978.4L1271.4,971.7L1263.7,960.9L1255.4,950.0L1247.7,937.6L1237.3,925.9L1225.2,913.7L1219.4,907.0L1223.3,900.0" fill="none"/>
<path d="M1225.6,910.9L1237.3,902.3L1241.9,903.1L1245.0,917.1L1237.3,924.8Z" fill="#440154"/>
<path d="M1247.7,937.6L1274.5,921.0" fill="none"/>
<path d="M1262.9,959.8L1285.4,940.4" fill="none"/>
<path d="M1275.6,977.6L1300.9,968.3" fill="none"/>
<path class="f" d="M1240.4,900.0L1355.3,900.0L1349.1,906.2L1335.1,904.7L1313.4,916.3L1318.0,929.5L1313.4,941.9L1316.5,946.6L1322.7,953.6L1330.4,952.0L1304.0,962.1L1307.1,955.9L1297.0,945.0L1293.2,946.6L1283.9,941.9L1285.4,937.3L1274.5,921.0L1286.2,910.1L1274.5,902.3L1262.1,907.0L1245.0,917.1L1241.9,903.1L1237.3,902.3Z" fill="#365c8d"/>
<path d="M1355.3,900.0L1349.1,906.2L1335.1,904.7L1313.4,916.3L1318.0,929.5L1313.4,941.9L1316.5,946.6L1322.7,953.6L1330.4,952.0L1304.0,962.1L1307.1,955.9L1297.0,945.0L1293.2,946.6L1283.9,941.9L1285.4,937.3L1274.5,921.0L1286.2,910.1L1274.5,902.3L1262.1,907.0L1245.0,917.1L1241.9,903.1L1237.3,902.3L1240.4,900.0" fill="none"/>
<path d="M1300.9,900.0L1313.4,916.3" fill="none"/>
<path d="M1286.2,910.1L1299.4,900.0" fill="none"/>
<path d="M1313.4,916.3L1335.1,904.7L1349.1,906.2L1358.4,909.3L1359.9,915.5L1361.5,932.6L1353.7,937.3L1353.0,951.2L1348.3,959.8L1333.5,953.6L1330.4,952.0L1322.7,953.6L1316.5,946.6L1313.4,941.9L1318.0,929.5Z" fill="#277f8e"/>
<path d="M1319.6,925.6L1328.9,914.8L1336.6,924.1L1341.3,923.3L1344.4,911.6L1349.1,915.5L1358.4,917.1" fill="none"/>
<path d="M1358.4,909.3L1386.3,910.1L1416.6,907.8L1416.6,925.6L1378.6,929.5L1375.5,928.0L1375.5,920.2L1370.8,923.3L1364.6,920.2L1364.6,912.4L1359.9,912.4Z" fill="#277f8e"/>
<path class="f" d="M1349.1,906.2L1355.3,900.0L1398.8,900.0L1398.8,908.5L1386.3,910.1L1358.4,909.3Z" fill="#1fa187"/>
<path d="M1349.1,906.2L1355.3,900.0M1398.8,900.0L1398.8,908.5L1386.3,910.1L1358.4,909.3L1349.1,906.2" fill="none"/>
<path d="M1359.9,912.4L1364.6,912.4L1364.6,920.2L1370.8,923.3L1375.5,920.2L1375.5,928.0L1378.6,929.5L1416.6,925.6L1417.4,966.8L1408.9,966.8L1408.1,970.7L1401.9,970.7L1401.1,965.2L1397.2,962.9L1390.2,966.8L1380.1,973.0L1370.8,972.2L1363.8,974.5L1363.0,960.6L1348.3,959.8L1353.0,951.2L1353.7,937.3L1361.5,932.6Z" fill="#1fa187"/>
<path d="M1375.5,928.0L1376.2,953.6L1363.0,954.3L1358.4,952.8L1363.0,960.6" fill="none"/>
<path d="M1376.2,953.6L1398.8,953.6L1400.3,962.1" fill="none"/>
<path d="M1305.6,965.2L1333.5,953.6L1348.3,959.8L1363.0,960.6L1363.8,974.5L1355.3,982.3L1355.3,989.3L1363.8,990.1L1364.6,1019.6L1361.5,1022.7L1355.3,1016.5L1304.0,1018.0L1299.4,1008.7L1293.2,992.4L1302.5,990.1L1300.9,987.0L1304.0,980.7L1300.9,974.5L1307.9,973.0Z" fill="#277f8e"/>
<path d="M1304.0,1018.0L1355.3,1016.5L1356.1,1052.2L1310.6,1053.7L1304.3,1040.1L1305.6,1040.5L1310.2,1035.1L1310.2,1032.0L1307.1,1028.9Z" fill="#277f8e"/>
<path d="M1390.2,966.8L1397.2,962.9L1401.1,965.2L1401.9,970.7L1408.1,970.7L1408.9,966.8L1417.4,966.8L1417.4,997.0L1391.0,997.8Z" fill="#277f8e"/>
<path d="M1363.8,974.5L1370.8,972.2L1380.1,973.0L1390.2,966.8L1391.0,997.8L1364.6,998.6L1363.8,990.1L1355.3,989.3L1355.3,982.3Z" fill="#4ac16d"/>
<path d="M1416.6,944.3L1435.2,943.5L1436.0,1014.9L1427.5,1019.6L1428.3,1022.7L1436.0,1021.1L1436.8,1032.8L1418.9,1032.8L1418.2,1027.3L1422.8,1022.7L1409.6,1022.7L1409.6,1019.6L1414.3,1016.5L1422.8,1015.7L1418.2,1015.7L1417.4,997.0L1417.4,966.8Z" fill="#4ac16d"/>
<path d="M1391.0,997.8L1389.4,1017.2" fill="none"/>
<path d="M1355.3,1019.6L1361.5,1022.7L1364.6,1025.0L1355.3,1025.5Z" fill="#fde725"/>
<path d="M1356.1,1025.5L1364.6,1025.0L1364.6,1019.6L1369.3,1017.2L1398.0,1016.5L1398.8,1024.2L1409.6,1024.2L1418.2,1027.3L1418.9,1032.8L1436.8,1032.8L1451.6,1032.8L1453.9,1086.3L1423.6,1087.1L1423.6,1069.3L1401.9,1077.0L1401.9,1061.5L1392.5,1060.7L1391.8,1053.0L1375.5,1053.4L1374.7,1059.2L1366.1,1059.9L1356.8,1061.5L1356.1,1052.2Z" fill="#4ac16d"/>
<path d="M1418.9,1032.8L1409.6,1034.3L1408.1,1053.7L1401.9,1061.5" fill="none"/>
<path d="M1436.8,1032.8L1437.6,1050.6L1428.3,1051.4L1429.0,1063.0L1423.6,1069.3" fill="none"/>
<path d="M1374.7,1059.2L1375.5,1053.4L1391.8,1053.0L1392.5,1060.7L1401.9,1061.5L1401.9,1069.3L1405.0,1076.2L1383.2,1086.3L1374.7,1087.9Z" fill="#a0da39"/>
<path d="M1401.9,1070.0L1410.4,1070.0L1409.6,1075.5L1405.0,1076.7Z" fill="#440154"/>
<path class="f" d="M1383.2,1086.3L1423.6,1069.3L1423.6,1087.1L1426.7,1089.4L1427.5,1100.0L1384.0,1100.0Z" fill="#4ac16d"/>
<path d="M1383.2,1086.3L1423.6,1069.3L1423.6,1087.1L1426.7,1089.4L1427.5,1100.0M1384.0,1100.0L1383.2,1086.3" fill="none"/>
<path class="f" d="M1310.6,1053.7L1356.1,1052.2L1356.8,1061.5L1374.7,1059.2L1374.7,1087.9L1383.2,1086.3L1384.0,1100.0L1349.1,1100.0L1344.4,1089.4L1339.8,1088.7L1338.2,1084.0L1324.5,1084.0L1318.9,1072.4L1311.8,1056.8Z" fill="#1fa187"/>
<path d="M1310.6,1053.7L1356.1,1052.2L1356.8,1061.5L1374.7,1059.2L1374.7,1087.9L1383.2,1086.3L1384.0,1100.0M1349.1,1100.0L1344.4,1089.4L1339.8,1088.7L1338.2,1084.0L1324.5,1084.0L1318.9,1072.4L1311.8,1056.8L1310.6,1053.7" fill="none"/>
<path d="M1356.8,1061.5L1355.3,1087.9L1344.4,1089.4" fill="none"/>
<path class="f" d="M1451.6,1032.8L1454.7,1033.5L1455.4,1050.6L1474.8,1049.8L1473.3,1072.4L1471.7,1077.0L1465.5,1078.6L1464.0,1087.9L1464.0,1100.0L1427.5,1100.0L1426.7,1089.4L1423.6,1087.1L1453.9,1086.3Z" fill="#1fa187"/>
<path d="M1451.6,1032.8L1454.7,1033.5L1455.4,1050.6L1474.8,1049.8L1473.3,1072.4L1471.7,1077.0L1465.5,1078.6L1464.0,1087.9L1464.0,1100.0M1427.5,1100.0L1426.7,1089.4L1423.6,1087.1L1453.9,1086.3L1451.6,1032.8" fill="none"/>
<path class="f" d="M1324.5,1084.0L1338.2,1084.0L1339.8,1088.7L1344.4,1089.4L1349.1,1100.0L1331.5,1100.0L1327.2,1090.1L1325.5,1086.3Z" fill="#365c8d"/>
<path d="M1324.5,1084.0L1338.2,1084.0L1339.8,1088.7L1344.4,1089.4L1349.1,1100.0M1331.5,1100.0L1327.2,1090.1L1325.5,1086.3L1324.5,1084.0" fill="none"/>
<path class="f" d="M1464.0,1100.0L1464.0,1087.9L1465.5,1078.6L1471.7,1077.0L1473.3,1072.4L1479.5,1070.0L1481.1,1076.2L1490.4,1075.5L1491.1,1089.4L1504.3,1092.5L1505.1,1100.0Z" fill="#a0da39"/>
<path d="M1464.0,1100.0L1464.0,1087.9L1465.5,1078.6L1471.7,1077.0L1473.3,1072.4L1479.5,1070.0L1481.1,1076.2L1490.4,1075.5L1491.1,1089.4L1504.3,1092.5L1505.1,1100.0" fill="none"/>
<path class="f" d="M1398.8,900.0L1467.1,900.0L1464.0,907.8L1454.7,910.9L1445.3,907.8L1434.5,907.8L1417.4,908.5L1398.8,908.5Z" fill="#4ac16d"/>
<path d="M1467.1,900.0L1464.0,907.8L1454.7,910.9L1445.3,907.8L1434.5,907.8L1417.4,908.5L1398.8,908.5L1398.8,900.0" fill="none"/>
<path class="f" d="M1443.8,900.0L1451.6,900.0L1454.7,904.7L1453.1,907.0L1444.6,907.0Z" fill="#d3d3d3"/>
<path d="M1451.6,900.0L1454.7,904.7L1453.1,907.0L1444.6,907.0L1443.8,900.0" fill="none"/>
<path class="f" d="M1488.8,900.0L1512.1,900.0L1511.3,906.2L1501.2,903.9L1491.9,903.1Z" fill="#46327e"/>
<path d="M1512.1,900.0L1511.3,906.2L1501.2,903.9L1491.9,903.1L1488.8,900.0" fill="none"/>
<path d="M1493.5,904.7L1501.2,903.9L1511.3,906.2L1526.1,909.3L1544.7,914.0L1557.1,921.7L1568.0,929.5L1557.1,933.4L1549.4,932.6L1533.9,933.4L1533.9,946.6L1527.6,947.4L1526.1,940.4L1513.7,936.5L1510.6,933.4L1509.8,941.1L1493.5,941.9Z" fill="#a0da39"/>
<path class="f" d="M1600.0,976.1L1583.5,987.0L1578.9,997.8L1574.2,1007.1L1578.9,1014.9L1571.1,1022.7L1594.4,1035.1L1592.9,1039.8L1600.0,1046.0Z" fill="#a0da39"/>
<path d="M1600.0,976.1L1583.5,987.0L1578.9,997.8L1574.2,1007.1L1578.9,1014.9L1571.1,1022.7L1594.4,1035.1L1592.9,1039.8L1600.0,1046.0" fill="none"/>
<path class="f" d="M1591.3,1073.9L1600.0,1072.4L1600.0,1100.0L1591.3,1100.0Z" fill="#a0da39"/>
<path d="M1591.3,1073.9L1600.0,1072.4M1591.3,1100.0L1591.3,1073.9" fill="none"/>
<path d="M1475.6,951.2L1480.7,951.2L1480.7,960.6L1475.6,960.6Z" fill="#440154"/>
<path d="M1417.4,943.5L1435.2,943.5L1499.7,941.9L1533.9,946.6" fill="none"/>
<path d="M1416.6,907.8L1417.4,943.5" fill="none"/>
<path d="M1433.7,907.8L1435.2,943.5" fill="none"/>
<path d="M1462.4,907.8L1462.4,942.7" fill="none"/>
<path d="M1492.7,904.7L1493.5,941.9" fill="none"/>
<path d="M1453.1,943.5L1454.7,1033.5" fill="none"/>
<path d="M1471.7,942.7L1473.3,1049.8" fill="none"/>
<path d="M1499.7,941.9L1505.9,974.5L1512.1,1005.6L1518.3,1039.8L1523.0,1100.0" fill="none"/>
<path d="M1454.7,1005.6L1512.1,1004.0" fill="none"/>
<path d="M1472.5,979.2L1505.1,977.6" fill="none"/>
<path d="M1512.1,1005.6L1558.7,1011.8L1563.4,1014.9L1560.2,1035.1L1554.0,1044.4" fill="none"/>
<path d="M1474.8,1049.8L1518.3,1048.3" fill="none"/>
<path d="M1476.4,1041.3L1484.2,1040.5L1484.2,1031.2L1488.8,1028.1L1501.2,1024.2L1519.9,1024.2L1523.0,1036.6L1554.0,1044.4L1554.0,1069.3L1592.9,1072.4" fill="none"/>
<path d="M1512.1,971.4L1546.3,976.1L1557.1,982.3L1583.5,987.0" fill="none"/>
<path d="M1533.9,951.2L1600.0,959.8" fill="none"/>
<path d="M1561.8,907.8L1600.0,915.5" fill="none"/>
<path d="M1554.0,1069.3L1532.3,1074.7L1537.0,1100.0" fill="none"/>
<path class="f" d="M1331.5,1100.0L1335.1,1109.3L1338.2,1114.0L1333.5,1117.1L1333.5,1121.7L1336.6,1126.4L1342.9,1130.3L1345.2,1146.6L1344.4,1162.1L1341.6,1173.0L1330.4,1177.6L1328.9,1183.9L1328.9,1188.5L1321.1,1193.2L1313.4,1202.5L1308.7,1211.0L1314.9,1214.9L1313.4,1221.1L1319.6,1228.9L1324.2,1242.9L1327.3,1250.6L1341.3,1257.6L1353.0,1250.6L1363.0,1253.7L1378.6,1256.8L1392.5,1269.3L1408.1,1273.9L1423.6,1283.2L1429.8,1284.8L1448.4,1293.3L1460.9,1288.7L1458.5,1281.7L1464.0,1278.6L1468.6,1280.9L1470.2,1276.2L1479.5,1273.1L1487.3,1280.1L1495.0,1280.1L1491.9,1270.8L1505.1,1264.6L1500.5,1247.5L1493.5,1232.0L1600.0,1208.7L1600.0,1100.0Z" fill="#1fa187"/>
<path d="M1331.5,1100.0L1335.1,1109.3L1338.2,1114.0L1333.5,1117.1L1333.5,1121.7L1336.6,1126.4L1342.9,1130.3L1345.2,1146.6L1344.4,1162.1L1341.6,1173.0L1330.4,1177.6L1328.9,1183.9L1328.9,1188.5L1321.1,1193.2L1313.4,1202.5L1308.7,1211.0L1314.9,1214.9L1313.4,1221.1L1319.6,1228.9L1324.2,1242.9L1327.3,1250.6L1341.3,1257.6L1353.0,1250.6L1363.0,1253.7L1378.6,1256.8L1392.5,1269.3L1408.1,1273.9L1423.6,1283.2L1429.8,1284.8L1448.4,1293.3L1460.9,1288.7L1458.5,1281.7L1464.0,1278.6L1468.6,1280.9L1470.2,1276.2L1479.5,1273.1L1487.3,1280.1L1495.0,1280.1L1491.9,1270.8L1505.1,1264.6L1500.5,1247.5L1493.5,1232.0L1600.0,1208.7" fill="none"/>
<path class="f" d="M1331.5,1100.0L1349.1,1100.0L1350.6,1107.8L1356.8,1108.5L1363.0,1145.0L1362.3,1173.0L1341.6,1173.0L1344.4,1162.1L1345.2,1146.6L1342.9,1130.3L1336.6,1126.4L1333.5,1121.7L1333.5,1117.1L1338.2,1114.0L1335.1,1109.3Z" fill="#365c8d"/>
<path d="M1349.1,1100.0L1350.6,1107.8L1356.8,1108.5L1363.0,1145.0L1362.3,1173.0L1341.6,1173.0L1344.4,1162.1L1345.2,1146.6L1342.9,1130.3L1336.6,1126.4L1333.5,1121.7L1333.5,1117.1L1338.2,1114.0L1335.1,1109.3L1331.5,1100.0" fill="none"/>
<path class="f" d="M1381.7,1101.6L1384.0,1100.0L1427.5,1100.0L1428.3,1104.7L1439.1,1106.2L1439.9,1131.1L1442.2,1159.0L1429.8,1156.7L1431.4,1168.3L1429.8,1174.5L1427.5,1169.1L1411.2,1169.9L1409.6,1146.6L1408.1,1129.5L1405.0,1120.2L1400.3,1119.4L1391.0,1110.9Z" fill="#4ac16d"/>
<path d="M1381.7,1101.6L1384.0,1100.0M1427.5,1100.0L1428.3,1104.7L1439.1,1106.2L1439.9,1131.1L1442.2,1159.0L1429.8,1156.7L1431.4,1168.3L1429.8,1174.5L1427.5,1169.1L1411.2,1169.9L1409.6,1146.6L1408.1,1129.5L1405.0,1120.2L1400.3,1119.4L1391.0,1110.9L1381.7,1101.6" fill="none"/>
<path d="M1429.8,1156.7L1442.2,1160.6L1452.3,1165.2L1452.3,1177.6L1455.4,1184.6L1450.0,1188.5L1442.2,1195.5L1444.6,1199.4L1439.1,1201.7L1429.8,1202.5L1431.4,1187.0L1431.4,1168.3Z" fill="#4ac16d"/>
<path class="f" d="M1462.4,1100.0L1505.9,1100.0L1505.1,1120.2L1501.2,1131.1L1479.5,1131.8L1473.3,1126.4L1467.1,1115.5Z" fill="#a0da39"/>
<path d="M1505.9,1100.0L1505.1,1120.2L1501.2,1131.1L1479.5,1131.8L1473.3,1126.4L1467.1,1115.5L1462.4,1100.0" fill="none"/>
<path class="f" d="M1452.3,1131.1L1479.5,1131.8L1501.2,1131.1L1505.1,1120.2L1505.9,1100.0L1526.1,1100.0L1523.0,1109.3L1520.7,1120.2L1533.9,1118.6L1535.4,1127.2L1537.0,1187.0L1517.5,1189.3L1515.2,1184.6L1518.3,1169.9L1512.1,1184.6L1504.3,1175.3L1484.2,1176.9L1484.2,1170.7L1476.4,1170.7L1475.6,1177.6L1452.3,1179.2L1452.3,1165.2Z" fill="#fde725"/>
<path d="M1452.3,1131.1L1479.5,1131.8L1501.2,1131.1L1505.1,1120.2L1505.9,1100.0M1526.1,1100.0L1523.0,1109.3L1520.7,1120.2L1533.9,1118.6L1535.4,1127.2L1537.0,1187.0L1517.5,1189.3L1515.2,1184.6L1518.3,1169.9L1512.1,1184.6L1504.3,1175.3L1484.2,1176.9L1484.2,1170.7L1476.4,1170.7L1475.6,1177.6L1452.3,1179.2L1452.3,1165.2L1452.3,1131.1" fill="none"/>
<path d="M1452.3,1179.2L1475.6,1177.6L1476.4,1170.7L1484.2,1170.7L1484.2,1176.9L1504.3,1175.3L1512.1,1184.6L1517.5,1189.3L1520.7,1197.8L1510.6,1204.0L1501.2,1208.7L1502.0,1218.0L1498.1,1222.7L1502.8,1227.3L1493.5,1232.0L1476.4,1239.8L1462.4,1239.0L1456.2,1236.6L1450.8,1232.8L1454.7,1224.2L1460.9,1216.5L1459.3,1205.6L1444.6,1199.4L1442.2,1195.5L1450.0,1188.5L1455.4,1184.6Z" fill="#fde725"/>
<path class="f" d="M1526.1,1100.0L1591.3,1100.0L1574.2,1106.2L1575.8,1111.6L1561.8,1114.8L1560.2,1119.4L1535.4,1127.2L1533.9,1118.6L1520.7,1120.2L1523.0,1109.3Z" fill="#fde725"/>
<path d="M1591.3,1100.0L1574.2,1106.2L1575.8,1111.6L1561.8,1114.8L1560.2,1119.4L1535.4,1127.2L1533.9,1118.6L1520.7,1120.2L1523.0,1109.3L1526.1,1100.0" fill="none"/>
<path d="M1501.2,1131.1L1498.9,1145.8L1501.2,1153.6L1509.0,1157.5L1504.3,1175.3" fill="none"/>
<path class="f" d="M1575.8,1111.6L1574.2,1106.2L1591.3,1100.0L1600.0,1100.0L1600.0,1134.2L1600.0,1168.3L1588.2,1169.1L1586.6,1162.1L1580.4,1160.6L1571.1,1157.5L1571.1,1152.0L1575.8,1146.6L1577.3,1140.4Z" fill="#a0da39"/>
<path d="M1575.8,1111.6L1574.2,1106.2L1591.3,1100.0M1600.0,1168.3L1588.2,1169.1L1586.6,1162.1L1580.4,1160.6L1571.1,1157.5L1571.1,1152.0L1575.8,1146.6L1577.3,1140.4L1575.8,1111.6" fill="none"/>
<path d="M1537.0,1137.3L1549.4,1159.8L1558.7,1159.8L1558.7,1152.8L1571.1,1152.0L1571.1,1157.5L1563.4,1159.0L1563.4,1165.2L1558.7,1166.0L1558.7,1169.1L1563.4,1169.9L1566.5,1177.6L1575.8,1180.7L1557.1,1181.5L1557.1,1188.5L1537.0,1187.0Z" fill="#a0da39"/>
<path d="M1558.7,1152.8L1571.1,1152.0L1571.1,1157.5L1580.4,1160.6L1586.6,1162.1L1588.2,1169.1L1594.4,1169.9L1594.4,1179.2L1575.8,1180.7L1566.5,1177.6L1563.4,1169.9L1558.7,1169.1L1558.7,1166.0L1563.4,1165.2L1563.4,1159.0L1558.7,1159.8Z" fill="#277f8e"/>
<path d="M1517.5,1189.3L1537.0,1187.0L1557.1,1188.5L1557.1,1181.5L1577.3,1180.7L1577.3,1208.7L1557.1,1207.1L1536.2,1201.7L1536.2,1197.0L1533.9,1197.0L1533.9,1200.9L1520.7,1197.8Z" fill="#4ac16d"/>
<path d="M1501.2,1208.7L1505.1,1205.6L1516.8,1197.8L1520.7,1197.8L1515.2,1200.9L1505.1,1208.7L1502.0,1218.0Z" fill="#4ac16d"/>
<path class="f" d="M1577.3,1180.7L1600.0,1180.7L1600.0,1199.4L1577.3,1199.4Z" fill="#277f8e"/>
<path d="M1577.3,1180.7L1600.0,1180.7M1600.0,1199.4L1577.3,1199.4L1577.3,1180.7" fill="none"/>
<path class="f" d="M1577.3,1199.4L1600.0,1199.4L1600.0,1211.8L1577.3,1208.7Z" fill="#365c8d"/>
<path d="M1577.3,1199.4L1600.0,1199.4M1600.0,1211.8L1577.3,1208.7L1577.3,1199.4" fill="none"/>
<path class="f" d="M1493.5,1232.0L1502.8,1227.3L1498.1,1222.7L1502.0,1218.0L1501.2,1208.7L1510.6,1204.0L1520.7,1197.8L1533.9,1200.9L1533.9,1197.0L1536.2,1197.0L1536.2,1201.7L1557.1,1207.1L1577.3,1208.7L1600.0,1210.2L1600.0,1222.7L1578.9,1219.6L1563.4,1220.3L1563.4,1225.8L1554.0,1230.4L1554.8,1239.8L1558.7,1253.7L1558.7,1257.6L1552.5,1258.4L1529.2,1244.4L1512.1,1249.1L1500.5,1247.5Z" fill="#46327e"/>
<path d="M1493.5,1232.0L1502.8,1227.3L1498.1,1222.7L1502.0,1218.0L1501.2,1208.7L1510.6,1204.0L1520.7,1197.8L1533.9,1200.9L1533.9,1197.0L1536.2,1197.0L1536.2,1201.7L1557.1,1207.1L1577.3,1208.7L1600.0,1210.2M1600.0,1222.7L1578.9,1219.6L1563.4,1220.3L1563.4,1225.8L1554.0,1230.4L1554.8,1239.8L1558.7,1253.7L1558.7,1257.6L1552.5,1258.4L1529.2,1244.4L1512.1,1249.1L1500.5,1247.5L1493.5,1232.0" fill="none"/>
<path d="M1432.9,1202.5L1439.1,1201.7L1442.2,1200.2L1444.6,1207.1L1446.9,1218.0L1438.4,1219.6L1436.8,1225.8L1429.8,1225.8L1428.3,1222.7L1431.4,1211.8Z" fill="#277f8e"/>
<path d="M1431.4,1230.4L1441.5,1229.7L1442.2,1236.6L1439.1,1239.8L1437.6,1247.5L1434.5,1255.3L1432.9,1264.6L1436.0,1270.8L1431.4,1276.2L1429.8,1283.2L1423.6,1283.2L1408.1,1273.9L1407.3,1269.3L1411.2,1265.4L1418.9,1263.8L1422.0,1244.4L1429.8,1240.5Z" fill="#277f8e"/>
<path d="M1356.8,1108.5L1361.5,1106.2L1381.7,1106.2" fill="none"/>
<path d="M1363.0,1145.0L1389.4,1145.8L1392.5,1141.9L1394.1,1146.6L1409.6,1146.6" fill="none"/>
<path d="M1362.3,1173.0L1375.5,1173.0L1405.0,1201.7L1406.5,1196.3L1414.3,1194.7L1422.0,1199.4L1423.6,1207.1L1429.8,1207.1" fill="none"/>
<path d="M1411.2,1169.9L1410.4,1194.7" fill="none"/>
<path d="M1319.6,1225.0L1333.5,1223.4L1332.0,1202.5L1350.6,1200.9L1353.0,1187.0L1361.5,1184.6L1369.3,1185.4L1367.7,1191.6L1364.6,1199.4L1363.0,1207.1L1355.3,1211.8L1356.8,1216.5L1344.4,1225.8L1349.1,1232.0L1358.4,1228.9L1356.8,1216.5" fill="none"/>
<path d="M1364.6,1199.4L1370.8,1196.3L1377.0,1211.0L1372.4,1218.0L1363.0,1214.9L1367.7,1208.7L1364.6,1199.4" fill="none"/>
<path d="M1372.4,1218.0L1372.4,1227.3L1383.2,1233.5L1384.8,1241.3L1381.7,1246.0L1392.5,1249.1L1400.3,1247.5L1408.1,1235.1L1409.6,1224.2L1401.9,1221.1L1408.1,1216.5L1420.5,1219.6L1422.0,1208.7L1423.6,1207.1" fill="none"/>
<path d="M1437.6,1225.8L1440.7,1235.1L1432.9,1264.6" fill="none"/>
<path d="M1460.9,1216.5L1442.2,1219.6" fill="none"/>
<path class="f" d="M1600.0,700.0L2000.0,700.0L2000.0,900.0L1600.0,900.0Z" fill="#fde725"/>
<path class="f" d="M1659.0,700.0L1660.6,703.1L1708.7,702.3L1714.9,702.3L1714.9,700.0Z" fill="#ffffff"/>
<path d="M1659.0,700.0L1660.6,703.1L1708.7,702.3L1714.9,702.3L1714.9,700.0" fill="none"/>
<path class="f" d="M1763.0,700.0L1763.8,718.6L1817.4,717.4L1834.5,717.1L1835.2,713.2L1843.8,713.2L1844.6,717.1L1850.0,716.8L1850.8,709.3L1854.7,708.5L1857.8,702.3L1860.9,700.0Z" fill="#ffffff"/>
<path d="M1763.0,700.0L1763.8,718.6L1817.4,717.4L1834.5,717.1L1835.2,713.2L1843.8,713.2L1844.6,717.1L1850.0,716.8L1850.8,709.3L1854.7,708.5L1857.8,702.3L1860.9,700.0" fill="none"/>
<path class="f" d="M1600.0,706.2L1624.8,706.2L1638.8,710.9L1624.8,714.0L1624.1,741.9L1600.0,741.1Z" fill="#1fa187"/>
<path d="M1600.0,706.2L1624.8,706.2L1638.8,710.9L1624.8,714.0L1624.1,741.9L1600.0,741.1" fill="none"/>
<path class="f" d="M1600.0,700.0L1637.3,700.0L1638.0,709.3L1624.8,706.2L1606.2,707.0L1600.0,706.2Z" fill="#4ac16d"/>
<path d="M1637.3,700.0L1638.0,709.3L1624.8,706.2L1606.2,707.0L1600.0,706.2" fill="none"/>
<path class="f" d="M1637.3,700.0L1659.0,700.0L1660.6,703.1L1708.7,702.3L1709.5,714.0L1671.4,714.0L1670.7,746.6L1671.4,762.1L1648.1,768.3L1645.0,757.5L1624.8,759.0L1624.1,741.9L1624.8,714.0L1638.8,710.9L1638.0,709.3Z" fill="#277f8e"/>
<path d="M1659.0,700.0L1660.6,703.1L1708.7,702.3L1709.5,714.0L1671.4,714.0L1670.7,746.6L1671.4,762.1L1648.1,768.3L1645.0,757.5L1624.8,759.0L1624.1,741.9L1624.8,714.0L1638.8,710.9L1638.0,709.3L1637.3,700.0" fill="none"/>
<path d="M1671.4,714.0L1708.7,714.0L1708.7,741.9L1705.6,744.3L1707.9,746.6L1705.6,751.2L1708.7,752.0L1709.5,793.2L1699.4,794.7L1697.8,799.4L1694.7,798.6L1693.2,794.7L1688.5,795.5L1684.6,787.0L1680.7,780.0L1676.1,780.7L1674.5,776.1L1671.4,777.6L1670.7,746.6Z" fill="#1fa187"/>
<path class="f" d="M1714.9,702.3L1722.7,702.3L1741.3,701.6L1742.1,706.2L1745.2,706.2L1745.2,700.8L1763.0,700.0L1763.8,718.6L1763.0,729.5L1756.8,728.7L1755.3,731.1L1758.4,740.4L1765.4,741.1L1764.6,745.8L1761.5,746.6L1761.5,750.5L1755.3,752.0L1755.3,762.1L1744.4,763.7L1739.8,780.7L1736.6,782.3L1737.4,779.2L1733.5,778.4L1728.9,776.1L1732.0,775.3L1732.8,763.7L1719.6,762.1L1719.6,741.1L1718.8,713.2L1719.6,707.8L1722.7,706.2L1721.1,703.1Z" fill="#1fa187"/>
<path d="M1714.9,702.3L1722.7,702.3L1741.3,701.6L1742.1,706.2L1745.2,706.2L1745.2,700.8L1763.0,700.0L1763.8,718.6L1763.0,729.5L1756.8,728.7L1755.3,731.1L1758.4,740.4L1765.4,741.1L1764.6,745.8L1761.5,746.6L1761.5,750.5L1755.3,752.0L1755.3,762.1L1744.4,763.7L1739.8,780.7L1736.6,782.3L1737.4,779.2L1733.5,778.4L1728.9,776.1L1732.0,775.3L1732.8,763.7L1719.6,762.1L1719.6,741.1L1718.8,713.2L1719.6,707.8L1722.7,706.2L1721.1,703.1L1714.9,702.3" fill="none"/>
<path d="M1708.7,709.3L1710.2,704.7L1718.0,703.1L1722.7,704.7L1722.7,706.2L1719.6,707.8L1718.8,713.2L1719.6,741.1L1719.6,762.1L1732.8,763.7L1732.0,775.3L1728.9,776.1L1733.5,778.4L1737.4,779.2L1736.6,782.3L1733.5,787.0L1725.8,794.7L1733.5,794.7L1746.0,800.9L1749.1,806.4L1742.9,814.9L1740.5,814.9L1743.6,803.3L1735.1,800.2L1721.1,804.0L1715.7,805.6L1716.5,794.7L1709.5,793.2L1708.7,752.0L1705.6,751.2L1707.9,746.6L1705.6,744.3L1708.7,741.9Z" fill="#a0da39"/>
<path d="M1725.8,794.7L1733.5,787.0L1736.6,782.3L1735.1,790.1L1728.9,795.5Z" fill="#1fa187"/>
<path d="M1755.3,731.1L1756.8,728.7L1763.0,729.5L1763.8,718.6L1781.7,718.3L1781.7,732.6L1777.0,738.8L1778.6,739.6L1784.0,732.6L1787.9,731.8L1788.7,736.5L1791.0,736.5L1790.7,745.0L1773.9,745.8L1773.1,741.1L1765.4,741.1L1758.4,740.4Z" fill="#277f8e"/>
<path d="M1781.7,718.3L1817.4,717.4L1817.4,735.7L1809.6,740.4L1805.0,748.1L1799.5,753.6L1801.9,756.7L1799.5,761.3L1785.6,757.5L1781.7,762.1L1773.9,771.4L1763.0,780.7L1756.1,782.3L1755.3,778.4L1744.4,777.6L1739.8,780.7L1744.4,763.7L1755.3,762.1L1755.3,752.0L1761.5,750.5L1761.5,746.6L1764.6,745.8L1773.9,745.8L1790.7,745.0L1791.0,736.5L1788.7,736.5L1787.9,731.8L1784.0,732.6L1778.6,739.6L1777.0,738.8L1781.7,732.6Z" fill="#a0da39"/>
<path class="f" d="M1895.0,700.0L1952.5,700.0L1949.4,714.8L1933.9,728.0L1933.9,762.9L1926.1,763.7L1919.9,760.6L1895.0,759.0L1879.5,759.8L1862.4,760.6L1853.9,755.9L1853.1,728.7L1861.6,726.4L1862.4,717.1L1892.7,711.6Z" fill="#4ac16d"/>
<path d="M1952.5,700.0L1949.4,714.8L1933.9,728.0L1933.9,762.9L1926.1,763.7L1919.9,760.6L1895.0,759.0L1879.5,759.8L1862.4,760.6L1853.9,755.9L1853.1,728.7L1861.6,726.4L1862.4,717.1L1892.7,711.6L1895.0,700.0" fill="none"/>
<path class="f" d="M1952.5,700.0L2000.0,700.0L2000.0,807.1L1994.4,808.7L1988.2,805.6L1979.7,800.9L1972.7,811.0L1961.8,809.5L1968.0,815.7L1964.9,821.1L1968.0,822.7L1955.6,832.0L1941.6,838.2L1930.7,840.5L1921.4,839.8L1910.6,835.1L1899.7,828.9L1904.3,822.7L1896.6,818.8L1892.7,818.0L1892.7,814.1L1900.5,807.1L1905.1,802.5L1904.3,795.5L1907.5,794.7L1908.2,779.2L1924.5,774.5L1926.1,763.7L1933.9,762.9L1933.9,728.0L1949.4,714.8Z" fill="#1fa187"/>
<path d="M2000.0,807.1L1994.4,808.7L1988.2,805.6L1979.7,800.9L1972.7,811.0L1961.8,809.5L1968.0,815.7L1964.9,821.1L1968.0,822.7L1955.6,832.0L1941.6,838.2L1930.7,840.5L1921.4,839.8L1910.6,835.1L1899.7,828.9L1904.3,822.7L1896.6,818.8L1892.7,818.0L1892.7,814.1L1900.5,807.1L1905.1,802.5L1904.3,795.5L1907.5,794.7L1908.2,779.2L1924.5,774.5L1926.1,763.7L1933.9,762.9L1933.9,728.0L1949.4,714.8L1952.5,700.0" fill="none"/>
<path d="M1964.9,714.8L1965.7,735.7L1974.2,741.9L1963.4,757.5L1952.5,763.7L1955.6,773.0L1954.0,793.2L1946.3,794.7L1960.2,800.9L1954.0,805.6L1961.8,809.5" fill="none"/>
<path d="M1949.4,714.8L1964.9,714.8" fill="none"/>
<path class="f" d="M1996.7,700.0L2000.0,700.0L2000.0,712.4L1996.7,711.6Z" fill="#46327e"/>
<path d="M2000.0,712.4L1996.7,711.6L1996.7,700.0" fill="none"/>
<path class="f" d="M1995.2,783.9L2000.0,783.1L2000.0,807.1L1994.4,808.7L1988.2,805.6Z" fill="#fde725"/>
<path d="M1995.2,783.9L2000.0,783.1M2000.0,807.1L1994.4,808.7L1988.2,805.6L1995.2,783.9" fill="none"/>
<path d="M1892.7,818.0L1896.6,814.1L1908.2,811.0L1909.0,814.9L1896.6,818.8Z" fill="#a0da39"/>
<path d="M1862.4,760.6L1879.5,759.8L1895.0,759.0L1919.9,760.6L1926.1,763.7L1924.5,774.5L1908.2,779.2L1908.2,788.5L1872.5,790.1L1864.0,789.3L1863.2,780.7Z" fill="#a0da39"/>
<path class="f" d="M1872.5,790.1L1908.2,788.5L1907.5,794.7L1904.3,795.5L1905.1,802.5L1900.5,807.1L1892.7,814.1L1892.7,818.0L1896.6,818.8L1904.3,822.7L1899.7,828.9L1910.6,835.1L1921.4,839.8L1923.0,844.4L1912.1,850.6L1915.2,866.1L1919.9,867.7L1927.6,860.7L1933.9,863.0L1930.7,872.4L1926.1,880.1L1928.4,878.6L1928.4,900.0L1854.7,900.0L1851.6,891.0L1839.1,884.8L1831.4,886.3L1828.3,878.6L1820.5,877.0L1818.9,870.0L1826.7,864.6L1829.8,863.0L1828.3,855.3L1827.5,818.0L1841.5,816.5L1842.2,828.9L1851.6,829.7L1853.1,826.6L1864.0,828.9L1872.5,829.7L1872.5,805.6Z" fill="#a0da39"/>
<path d="M1872.5,790.1L1908.2,788.5L1907.5,794.7L1904.3,795.5L1905.1,802.5L1900.5,807.1L1892.7,814.1L1892.7,818.0L1896.6,818.8L1904.3,822.7L1899.7,828.9L1910.6,835.1L1921.4,839.8L1923.0,844.4L1912.1,850.6L1915.2,866.1L1919.9,867.7L1927.6,860.7L1933.9,863.0L1930.7,872.4L1926.1,880.1L1928.4,878.6L1928.4,900.0M1854.7,900.0L1851.6,891.0L1839.1,884.8L1831.4,886.3L1828.3,878.6L1820.5,877.0L1818.9,870.0L1826.7,864.6L1829.8,863.0L1828.3,855.3L1827.5,818.0L1841.5,816.5L1842.2,828.9L1851.6,829.7L1853.1,826.6L1864.0,828.9L1872.5,829.7L1872.5,805.6L1872.5,790.1" fill="none"/>
<path d="M1872.5,829.7L1879.5,832.0L1888.8,838.2L1876.4,836.6L1878.0,844.4L1874.8,849.8L1879.5,853.7L1895.0,850.6L1904.3,846.0L1923.0,844.4" fill="none"/>
<path d="M1879.5,853.7L1884.2,856.8L1879.5,863.0L1870.2,861.5L1850.0,872.4L1839.1,869.3L1829.8,863.0" fill="none"/>
<path d="M1850.0,872.4L1857.8,869.3L1856.2,886.3L1851.6,891.0" fill="none"/>
<path d="M1845.3,802.5L1848.4,798.6L1850.8,802.5L1867.1,802.5L1872.5,805.6L1872.5,829.7L1864.0,828.9L1853.1,826.6L1851.6,829.7L1842.2,828.9L1841.5,816.5L1844.6,814.9Z" fill="#4ac16d"/>
<path class="f" d="M1928.4,878.6L1938.5,881.7L1949.4,867.7L1964.9,878.6L1964.9,886.3L1983.5,894.1L1985.1,900.0L1928.4,900.0Z" fill="#4ac16d"/>
<path d="M1928.4,878.6L1938.5,881.7L1949.4,867.7L1964.9,878.6L1964.9,886.3L1983.5,894.1L1985.1,900.0M1928.4,900.0L1928.4,878.6" fill="none"/>
<path class="f" d="M1983.5,894.1L2000.0,892.5L2000.0,900.0L1985.1,900.0Z" fill="#a0da39"/>
<path d="M1983.5,894.1L2000.0,892.5M1985.1,900.0L1983.5,894.1" fill="none"/>
<path class="f" d="M1600.0,741.1L1605.4,741.1L1604.7,757.5L1600.0,758.2Z" fill="#46327e"/>
<path d="M1600.0,741.1L1605.4,741.1L1604.7,757.5L1600.0,758.2" fill="none"/>
<path class="f" d="M1605.4,741.1L1624.1,741.9L1624.8,759.0L1606.2,766.8L1608.5,777.6L1600.0,780.0L1600.0,758.2L1604.7,757.5Z" fill="#365c8d"/>
<path d="M1605.4,741.1L1624.1,741.9L1624.8,759.0L1606.2,766.8L1608.5,777.6L1600.0,780.0M1600.0,758.2L1604.7,757.5L1605.4,741.1" fill="none"/>
<path d="M1609.3,753.6L1615.5,752.0L1614.8,759.8L1610.1,762.1Z" fill="#fde725"/>
<path class="f" d="M1606.2,766.8L1624.8,759.0L1643.5,756.7L1647.4,768.3L1646.6,779.2L1628.0,784.6L1618.6,791.6L1617.1,794.7L1610.9,790.1L1600.0,793.2L1600.0,780.0L1608.5,777.6Z" fill="#a0da39"/>
<path d="M1606.2,766.8L1624.8,759.0L1643.5,756.7L1647.4,768.3L1646.6,779.2L1628.0,784.6L1618.6,791.6L1617.1,794.7L1610.9,790.1L1600.0,793.2M1600.0,780.0L1608.5,777.6L1606.2,766.8" fill="none"/>
<path d="M1647.4,768.3L1671.4,762.1L1671.4,777.6L1674.5,776.1L1668.3,783.9L1662.1,784.6L1662.9,796.3L1651.2,797.8L1633.4,798.6L1625.6,799.4L1623.3,793.2L1618.6,791.6L1628.0,784.6L1646.6,779.2Z" fill="#4ac16d"/>
<path class="f" d="M1600.0,793.2L1610.9,790.1L1617.1,794.7L1623.3,793.2L1625.6,799.4L1624.8,807.1L1630.3,808.7L1630.3,837.4L1620.2,839.8L1615.5,838.2L1614.0,828.9L1604.7,828.1L1603.1,819.6L1600.0,818.0Z" fill="#1fa187"/>
<path d="M1600.0,793.2L1610.9,790.1L1617.1,794.7L1623.3,793.2L1625.6,799.4L1624.8,807.1L1630.3,808.7L1630.3,837.4L1620.2,839.8L1615.5,838.2L1614.0,828.9L1604.7,828.1L1603.1,819.6L1600.0,818.0" fill="none"/>
<path d="M1625.6,799.4L1633.4,798.6L1651.2,797.8L1662.9,796.3L1666.8,807.1L1666.0,812.6L1652.8,808.7L1652.0,819.6L1655.9,825.8L1652.8,827.3L1652.0,836.6L1631.1,837.4L1630.3,808.7L1624.8,807.1Z" fill="#a0da39"/>
<path d="M1662.1,784.6L1668.3,783.9L1674.5,776.1L1676.1,780.7L1680.7,780.0L1684.6,787.0L1688.5,795.5L1693.2,794.7L1694.7,798.6L1697.8,799.4L1699.4,794.7L1709.5,793.2L1716.5,794.7L1715.7,805.6L1708.7,807.9L1684.6,814.9L1683.9,819.6L1677.6,818.0L1666.0,812.6L1666.8,807.1L1662.9,796.3Z" fill="#a0da39"/>
<path class="f" d="M1600.0,818.0L1603.1,819.6L1604.7,828.1L1614.0,828.9L1615.5,838.2L1620.2,839.8L1615.5,841.3L1603.1,841.3L1602.3,847.5L1610.9,875.5L1609.3,884.8L1600.0,885.6Z" fill="#4ac16d"/>
<path d="M1600.0,818.0L1603.1,819.6L1604.7,828.1L1614.0,828.9L1615.5,838.2L1620.2,839.8L1615.5,841.3L1603.1,841.3L1602.3,847.5L1610.9,875.5L1609.3,884.8L1600.0,885.6" fill="none"/>
<path d="M1615.5,838.2L1631.1,837.4L1631.8,847.5L1615.5,847.5Z" fill="#a0da39"/>
<path class="f" d="M1609.3,884.8L1610.9,875.5L1635.7,875.5L1646.6,881.7L1665.2,884.8L1668.3,888.7L1659.0,900.0L1600.0,900.0L1600.0,885.6Z" fill="#a0da39"/>
<path d="M1609.3,884.8L1610.9,875.5L1635.7,875.5L1646.6,881.7L1665.2,884.8L1668.3,888.7L1659.0,900.0M1600.0,885.6L1609.3,884.8" fill="none"/>
<path class="f" d="M1688.5,895.7L1696.3,889.4L1721.1,875.5L1735.1,871.6L1741.3,873.9L1744.4,880.9L1739.8,884.8L1735.1,892.5L1728.9,900.0L1685.4,900.0Z" fill="#4ac16d"/>
<path d="M1688.5,895.7L1696.3,889.4L1721.1,875.5L1735.1,871.6L1741.3,873.9L1744.4,880.9L1739.8,884.8L1735.1,892.5L1728.9,900.0M1685.4,900.0L1688.5,895.7" fill="none"/>
<path d="M1799.5,761.3L1808.1,762.9L1808.1,771.4L1804.2,772.2L1805.0,780.7L1814.3,780.7L1815.1,785.4L1818.2,785.4L1818.9,789.3L1854.7,789.3L1854.7,784.6L1862.4,780.7" fill="none"/>
<path d="M1818.9,789.3L1818.2,799.4L1806.5,804.0L1806.5,807.9L1794.9,808.7L1794.9,811.0L1798.8,811.8L1798.8,819.6L1784.8,833.5L1777.0,842.9L1773.9,842.1L1740.5,848.3L1735.1,855.3" fill="none"/>
<path d="M1777.0,842.9L1784.8,850.6L1780.1,858.4L1787.9,863.8L1798.8,857.6L1811.2,859.9L1820.5,857.6L1828.3,859.9" fill="none"/>
<path d="M1780.1,858.4L1765.4,876.2L1780.1,888.7L1770.8,900.0" fill="none"/>
<path d="M1739.8,884.8L1780.1,888.7" fill="none"/>
<path d="M1743.6,803.3L1740.5,814.9L1739.0,835.1L1735.1,855.3L1732.0,863.0L1721.1,872.4" fill="none"/>
<path d="M1721.1,804.0L1716.5,821.1L1719.6,827.3L1721.9,836.6L1712.6,840.5L1711.8,846.0L1714.9,853.0L1711.8,855.3L1716.5,869.3L1721.1,872.4" fill="none"/>
<path d="M1684.6,814.9L1684.6,835.1L1667.5,836.6L1673.0,845.2L1690.1,837.4L1699.4,841.3L1700.9,846.0L1711.8,846.0" fill="none"/>
<path d="M1652.8,808.7L1677.6,818.0L1677.6,824.2L1683.9,822.7" fill="none"/>
<path d="M1631.1,837.4L1652.0,836.6" fill="none"/>
<path d="M1673.0,845.2L1666.8,875.5L1668.3,888.7" fill="none"/>
<path d="M1806.5,807.9L1808.1,816.5L1826.7,815.7L1827.5,818.0" fill="none"/>
<path class="f" d="M1600.0,900.0L2000.0,900.0L2000.0,1100.0L1600.0,1100.0Z" fill="#a0da39"/>
<path class="f" d="M1600.0,900.0L1607.8,900.0L1612.4,909.3L1610.9,915.5L1612.4,928.0L1615.5,937.3L1610.9,941.9L1603.1,941.9L1620.2,959.8L1624.8,951.2L1629.5,938.8L1643.5,920.2L1657.5,903.1L1659.0,900.0L1684.6,900.0L1685.4,906.2L1680.7,910.9L1682.3,915.5L1674.5,920.2L1680.7,929.5L1686.2,935.7L1685.4,943.5L1693.2,951.2L1697.8,959.0L1700.9,967.5L1691.6,976.1L1688.5,973.0L1684.6,963.7L1679.2,962.9L1677.6,971.4L1671.4,975.3L1666.8,970.7L1655.9,968.3L1652.8,963.7L1655.1,974.5L1653.6,983.9L1644.3,994.7L1648.1,1004.0L1600.0,979.2Z" fill="#fde725"/>
<path d="M1607.8,900.0L1612.4,909.3L1610.9,915.5L1612.4,928.0L1615.5,937.3L1610.9,941.9L1603.1,941.9L1620.2,959.8L1624.8,951.2L1629.5,938.8L1643.5,920.2L1657.5,903.1L1659.0,900.0M1684.6,900.0L1685.4,906.2L1680.7,910.9L1682.3,915.5L1674.5,920.2L1680.7,929.5L1686.2,935.7L1685.4,943.5L1693.2,951.2L1697.8,959.0L1700.9,967.5L1691.6,976.1L1688.5,973.0L1684.6,963.7L1679.2,962.9L1677.6,971.4L1671.4,975.3L1666.8,970.7L1655.9,968.3L1652.8,963.7L1655.1,974.5L1653.6,983.9L1644.3,994.7L1648.1,1004.0L1600.0,979.2" fill="none"/>
<path class="f" d="M1636.5,1010.2L1654.3,1011.8L1659.0,1008.7L1661.3,1010.2L1680.0,1009.9L1680.7,1027.3L1693.2,1036.6L1691.6,1045.2L1699.4,1046.0L1703.3,1053.0L1697.8,1055.3L1689.3,1051.4L1689.3,1063.0L1676.1,1064.6L1673.0,1073.1L1669.1,1073.9L1669.1,1078.6L1674.5,1086.3L1675.3,1100.0L1654.3,1100.0L1653.6,1078.6L1655.9,1073.6L1648.9,1073.1L1648.1,1065.4L1635.7,1065.4L1634.9,1044.4L1631.8,1025.8L1633.4,1016.5Z" fill="#fde725"/>
<path d="M1636.5,1010.2L1654.3,1011.8L1659.0,1008.7L1661.3,1010.2L1680.0,1009.9L1680.7,1027.3L1693.2,1036.6L1691.6,1045.2L1699.4,1046.0L1703.3,1053.0L1697.8,1055.3L1689.3,1051.4L1689.3,1063.0L1676.1,1064.6L1673.0,1073.1L1669.1,1073.9L1669.1,1078.6L1674.5,1086.3L1675.3,1100.0M1654.3,1100.0L1653.6,1078.6L1655.9,1073.6L1648.9,1073.1L1648.1,1065.4L1635.7,1065.4L1634.9,1044.4L1631.8,1025.8L1633.4,1016.5L1636.5,1010.2" fill="none"/>
<path class="f" d="M1691.6,976.1L1700.9,967.5L1710.2,971.4L1716.5,965.2L1732.0,972.2L1739.8,960.6L1738.2,949.7L1751.4,945.8L1751.4,936.5L1742.1,936.5L1739.8,931.1L1732.8,920.2L1732.0,909.3L1728.9,900.0L1784.8,900.0L1836.0,900.0L1836.0,904.7L1860.1,904.7L1860.9,910.9L1856.2,911.6L1856.2,916.3L1808.1,909.3L1815.1,918.6L1814.3,955.1L1797.2,952.8L1789.4,955.9L1769.3,954.3L1769.3,966.8L1762.3,966.8L1759.9,965.2L1751.4,973.0L1750.6,977.6L1744.4,987.0L1739.8,987.7L1728.9,983.1L1719.6,988.5L1764.6,1011.8L1770.0,1012.6L1770.0,1025.0L1753.0,1025.5L1752.2,1018.0L1742.9,1018.8L1740.5,1013.4L1722.7,1018.8L1731.2,1025.8L1710.2,1026.6L1690.1,1027.3L1690.1,1010.2L1694.7,1007.1L1697.8,999.4L1693.2,993.2L1690.8,988.5L1696.3,980.7Z" fill="#fde725"/>
<path d="M1691.6,976.1L1700.9,967.5L1710.2,971.4L1716.5,965.2L1732.0,972.2L1739.8,960.6L1738.2,949.7L1751.4,945.8L1751.4,936.5L1742.1,936.5L1739.8,931.1L1732.8,920.2L1732.0,909.3L1728.9,900.0M1836.0,900.0L1836.0,904.7L1860.1,904.7L1860.9,910.9L1856.2,911.6L1856.2,916.3L1808.1,909.3L1815.1,918.6L1814.3,955.1L1797.2,952.8L1789.4,955.9L1769.3,954.3L1769.3,966.8L1762.3,966.8L1759.9,965.2L1751.4,973.0L1750.6,977.6L1744.4,987.0L1739.8,987.7L1728.9,983.1L1719.6,988.5L1764.6,1011.8L1770.0,1012.6L1770.0,1025.0L1753.0,1025.5L1752.2,1018.0L1742.9,1018.8L1740.5,1013.4L1722.7,1018.8L1731.2,1025.8L1710.2,1026.6L1690.1,1027.3L1690.1,1010.2L1694.7,1007.1L1697.8,999.4L1693.2,993.2L1690.8,988.5L1696.3,980.7L1691.6,976.1" fill="none"/>
<path d="M1704.0,1002.5L1716.5,994.7L1719.6,988.5" fill="none"/>
<path d="M1704.0,1002.5L1707.1,1010.2L1710.2,1026.6" fill="none"/>
<path d="M1784.8,900.0L1785.6,904.7L1792.5,906.2L1794.1,903.9L1800.3,907.8L1808.1,912.4L1815.1,918.6" fill="none"/>
<path class="f" d="M1718.0,1080.9L1735.1,1080.1L1735.9,1100.0L1718.0,1100.0Z" fill="#fde725"/>
<path d="M1718.0,1080.9L1735.1,1080.1L1735.9,1100.0M1718.0,1100.0L1718.0,1080.9" fill="none"/>
<path class="f" d="M1684.6,900.0L1728.9,900.0L1732.0,909.3L1732.8,920.2L1739.8,931.1L1742.1,936.5L1733.5,937.3L1732.8,941.9L1724.2,946.6L1716.5,949.7L1707.1,950.5L1693.2,950.5L1686.2,943.5L1686.2,935.7L1680.7,929.5L1674.5,920.2L1682.3,915.5L1680.7,910.9L1685.4,906.2Z" fill="#4ac16d"/>
<path d="M1728.9,900.0L1732.0,909.3L1732.8,920.2L1739.8,931.1L1742.1,936.5L1733.5,937.3L1732.8,941.9L1724.2,946.6L1716.5,949.7L1707.1,950.5L1693.2,950.5L1686.2,943.5L1686.2,935.7L1680.7,929.5L1674.5,920.2L1682.3,915.5L1680.7,910.9L1685.4,906.2L1684.6,900.0" fill="none"/>
<path d="M1769.3,954.3L1789.4,955.9L1797.2,952.8L1814.3,955.1L1830.6,959.8L1823.6,983.9L1828.3,988.5L1828.3,1007.1L1819.7,1007.1L1827.5,1011.0L1828.3,1016.5L1815.8,1015.7L1815.8,1024.2L1818.9,1025.0L1818.2,1029.7L1815.1,1028.1L1806.5,1029.7L1805.7,1035.9L1800.3,1036.6L1770.8,1039.0L1770.0,1025.0L1770.0,990.8L1780.1,990.1L1780.9,985.4L1755.3,985.4L1764.6,974.5L1762.3,966.8L1769.3,966.8Z" fill="#4ac16d"/>
<path d="M1708.7,1027.3L1731.2,1025.8L1722.7,1018.8L1740.5,1013.4L1742.9,1018.8L1752.2,1018.0L1753.0,1025.5L1770.0,1025.0L1770.8,1039.0L1770.0,1042.1L1762.3,1043.6L1761.5,1052.2L1755.3,1055.3L1753.0,1061.5L1744.4,1062.3L1743.6,1070.8L1735.9,1071.6L1735.1,1080.1L1718.0,1080.9L1716.5,1045.2L1711.8,1044.4L1707.9,1038.2Z" fill="#4ac16d"/>
<path d="M1728.1,1039.8L1732.0,1035.1L1734.3,1033.5L1734.3,1041.3L1731.2,1046.0L1728.1,1045.2Z" fill="#d3d3d3"/>
<path class="f" d="M1828.3,988.5L1881.1,987.7L1888.8,973.0L1895.0,952.8L1899.7,955.9L1906.7,946.6L1902.0,948.1L1905.9,940.4L1901.2,929.5L1909.0,926.4L1918.3,915.5L1926.1,907.8L1929.2,900.0L1983.5,900.0L1983.5,912.4L1964.9,914.0L1948.6,948.1L1948.6,958.2L1957.9,958.7L1958.7,976.1L1969.6,985.4L2000.0,1008.7L2000.0,1086.3L1982.0,1093.3L1964.9,1089.4L1950.9,1075.5L1936.2,1080.9L1926.1,1078.6L1923.0,1073.9L1919.9,1067.7L1919.9,1061.5L1913.7,1056.8L1907.5,1055.3L1905.9,1039.8L1910.6,1039.0L1909.0,1035.1L1896.6,1037.4L1887.3,1035.1L1879.5,1039.8L1878.0,1046.7L1870.2,1049.1L1864.0,1053.0L1856.2,1047.5L1845.3,1046.0L1836.0,1049.1L1829.8,1058.4L1828.3,1063.0L1817.4,1068.5L1808.1,1070.0L1807.3,1061.5L1805.0,1052.2L1808.1,1042.9L1800.3,1036.6L1805.7,1035.9L1806.5,1029.7L1815.1,1028.1L1818.2,1029.7L1818.9,1025.0L1815.8,1024.2L1815.8,1015.7L1828.3,1016.5L1827.5,1011.0L1819.7,1007.1L1828.3,1007.1Z" fill="#4ac16d"/>
<path d="M1828.3,988.5L1881.1,987.7L1888.8,973.0L1895.0,952.8L1899.7,955.9L1906.7,946.6L1902.0,948.1L1905.9,940.4L1901.2,929.5L1909.0,926.4L1918.3,915.5L1926.1,907.8L1929.2,900.0M1983.5,900.0L1983.5,912.4L1964.9,914.0L1948.6,948.1L1948.6,958.2L1957.9,958.7L1958.7,976.1L1969.6,985.4L2000.0,1008.7M2000.0,1086.3L1982.0,1093.3L1964.9,1089.4L1950.9,1075.5L1936.2,1080.9L1926.1,1078.6L1923.0,1073.9L1919.9,1067.7L1919.9,1061.5L1913.7,1056.8L1907.5,1055.3L1905.9,1039.8L1910.6,1039.0L1909.0,1035.1L1896.6,1037.4L1887.3,1035.1L1879.5,1039.8L1878.0,1046.7L1870.2,1049.1L1864.0,1053.0L1856.2,1047.5L1845.3,1046.0L1836.0,1049.1L1829.8,1058.4L1828.3,1063.0L1817.4,1068.5L1808.1,1070.0L1807.3,1061.5L1805.0,1052.2L1808.1,1042.9L1800.3,1036.6L1805.7,1035.9L1806.5,1029.7L1815.1,1028.1L1818.2,1029.7L1818.9,1025.0L1815.8,1024.2L1815.8,1015.7L1828.3,1016.5L1827.5,1011.0L1819.7,1007.1L1828.3,1007.1L1828.3,988.5" fill="none"/>
<path class="f" d="M1829.8,1058.4L1836.0,1049.1L1845.3,1046.0L1856.2,1047.5L1864.0,1053.0L1870.2,1049.1L1874.8,1056.8L1884.2,1056.1L1885.7,1061.5L1882.6,1065.4L1878.0,1066.1L1873.3,1075.5L1870.2,1091.0L1867.1,1100.0L1841.5,1100.0L1836.0,1081.7L1832.9,1069.3Z" fill="#1fa187"/>
<path d="M1829.8,1058.4L1836.0,1049.1L1845.3,1046.0L1856.2,1047.5L1864.0,1053.0L1870.2,1049.1L1874.8,1056.8L1884.2,1056.1L1885.7,1061.5L1882.6,1065.4L1878.0,1066.1L1873.3,1075.5L1870.2,1091.0L1867.1,1100.0M1841.5,1100.0L1836.0,1081.7L1832.9,1069.3L1829.8,1058.4" fill="none"/>
<path class="f" d="M1982.0,1093.3L2000.0,1081.7L2000.0,1100.0L1986.6,1100.0Z" fill="#1fa187"/>
<path d="M1982.0,1093.3L2000.0,1081.7M1986.6,1100.0L1982.0,1093.3" fill="none"/>
<path d="M1881.1,987.7L1969.6,985.4" fill="none"/>
<path d="M1969.6,985.4L1963.4,993.2L1955.6,991.6L1944.7,990.1L1937.0,997.8L1933.9,1008.7L1940.1,1013.4L1926.1,1018.0L1923.0,1008.7L1916.8,1005.6L1904.3,1003.3L1902.8,1014.1L1895.8,1014.1" fill="none"/>
<path d="M1902.8,1014.1L1901.2,1027.3L1896.6,1037.4" fill="none"/>
<path d="M1916.8,1025.8L1930.7,1022.7L1949.4,1025.8L1977.3,1024.2L2000.0,1016.5" fill="none"/>
<path d="M1916.8,1025.8L1915.2,1035.1L1910.6,1039.0" fill="none"/>
<path d="M2000.0,1035.1L1988.2,1049.1L1985.1,1061.5L1969.6,1067.7L1975.8,1084.8" fill="none"/>
<path d="M1828.3,1016.5L1832.9,1024.2L1836.0,1036.6L1860.9,1033.5L1876.4,1032.0L1887.3,1035.1" fill="none"/>
<path d="M1603.1,941.9L1620.2,959.8L1648.1,986.2" fill="none"/>
<path d="M1600.0,979.2L1648.1,1004.0L1654.3,1011.8" fill="none"/>
<path d="M1620.2,959.8L1609.3,962.1L1600.0,973.0" fill="none"/>
<path d="M1600.0,1010.2L1624.8,1018.0L1624.8,1024.2L1631.1,1025.0" fill="none"/>
<path d="M1600.0,1039.0L1632.6,1037.4" fill="none"/>
<path d="M1635.7,1065.4L1634.9,1092.5L1600.0,1088.7" fill="none"/>
<path d="M1689.3,1063.0L1707.1,1063.0L1716.5,1069.3" fill="none"/>
<path d="M1761.5,1052.2L1770.8,1053.0L1771.6,1078.6L1763.0,1078.6L1763.8,1100.0" fill="none"/>
<path d="M1807.3,1061.5L1807.3,1100.0" fill="none"/>
<path d="M1874.1,918.6L1867.1,926.4L1878.0,937.3L1884.2,943.5L1885.7,952.8L1882.6,959.0L1881.8,970.7L1888.8,973.0" fill="none"/>
<path d="M1856.2,916.3L1874.1,918.6L1876.4,909.3L1879.5,900.0" fill="none"/>
<path d="M1668.3,920.2L1652.8,963.7" fill="none"/>
<path d="M1680.7,1027.3L1690.1,1027.3" fill="none"/>
<path d="M1884.2,1084.8L1915.2,1083.2L1915.2,1091.0" fill="none"/>
<path class="f" d="M1936.2,1080.9L1950.9,1075.5L1964.9,1089.4L1982.0,1093.3L1986.6,1100.0L1915.2,1100.0L1915.2,1091.0L1926.1,1091.8L1933.9,1091.0Z" fill="#4ac16d"/>
<path d="M1936.2,1080.9L1950.9,1075.5L1964.9,1089.4L1982.0,1093.3L1986.6,1100.0M1915.2,1100.0L1915.2,1091.0L1926.1,1091.8L1933.9,1091.0L1936.2,1080.9" fill="none"/>
<path class="f" d="M1600.0,1100.0L2000.0,1100.0L2000.0,1300.0L1600.0,1300.0Z" fill="#a0da39"/>
<path class="f" d="M1600.0,1227.3L1614.0,1232.0L1631.1,1244.4L1645.0,1253.7L1659.0,1259.9L1671.4,1268.5L1683.9,1280.1L1694.7,1292.5L1700.9,1300.0L1600.0,1300.0Z" fill="#ffffff"/>
<path d="M1600.0,1227.3L1614.0,1232.0L1631.1,1244.4L1645.0,1253.7L1659.0,1259.9L1671.4,1268.5L1683.9,1280.1L1694.7,1292.5L1700.9,1300.0" fill="none"/>
<path class="f" d="M1600.0,1115.5L1618.6,1114.8L1619.4,1133.4L1663.7,1134.2L1665.2,1141.9L1680.7,1144.3L1683.9,1148.1L1673.0,1154.3L1668.3,1159.8L1604.7,1160.2L1604.7,1151.2L1600.0,1143.5Z" fill="#4ac16d"/>
<path d="M1600.0,1115.5L1618.6,1114.8L1619.4,1133.4L1663.7,1134.2L1665.2,1141.9L1680.7,1144.3L1683.9,1148.1L1673.0,1154.3L1668.3,1159.8L1604.7,1160.2L1604.7,1151.2L1600.0,1143.5" fill="none"/>
<path class="f" d="M1600.0,1165.2L1604.7,1160.2L1668.3,1159.8L1662.1,1169.9L1657.5,1180.7L1654.3,1187.0L1600.0,1187.0Z" fill="#1fa187"/>
<path d="M1600.0,1165.2L1604.7,1160.2L1668.3,1159.8L1662.1,1169.9L1657.5,1180.7L1654.3,1187.0L1600.0,1187.0" fill="none"/>
<path d="M1668.3,1159.8L1673.0,1154.3L1683.9,1148.1L1683.9,1159.0L1708.7,1159.8L1711.8,1168.3L1715.7,1171.4L1714.9,1177.6L1738.2,1180.7L1739.0,1199.4L1742.1,1202.5L1708.7,1204.0L1707.1,1196.3L1677.6,1194.7L1654.3,1193.2L1654.3,1187.0L1657.5,1180.7L1662.1,1169.9Z" fill="#4ac16d"/>
<path class="f" d="M1600.0,1187.0L1654.3,1187.0L1654.3,1193.2L1651.2,1200.9L1626.4,1196.3L1626.4,1199.4L1600.0,1199.4Z" fill="#277f8e"/>
<path d="M1600.0,1187.0L1654.3,1187.0L1654.3,1193.2L1651.2,1200.9L1626.4,1196.3L1626.4,1199.4L1600.0,1199.4" fill="none"/>
<path class="f" d="M1600.0,1199.4L1626.4,1199.4L1626.4,1209.5L1628.7,1214.1L1623.3,1213.4L1600.0,1211.0Z" fill="#365c8d"/>
<path d="M1600.0,1199.4L1626.4,1199.4L1626.4,1209.5L1628.7,1214.1L1623.3,1213.4L1600.0,1211.0" fill="none"/>
<path d="M1624.8,1198.1L1630.3,1198.1L1630.3,1203.7L1624.8,1203.7Z" fill="#d3d3d3"/>
<path class="f" d="M1626.4,1196.3L1651.2,1200.9L1654.3,1193.2L1677.6,1194.7L1707.1,1196.3L1708.7,1204.0L1706.4,1224.2L1707.9,1258.4L1674.5,1259.9L1669.9,1263.0L1659.0,1259.9L1645.0,1253.7L1631.1,1244.4L1614.0,1232.0L1600.0,1227.3L1600.0,1211.0L1623.3,1213.4L1628.7,1214.1L1626.4,1209.5Z" fill="#46327e"/>
<path d="M1626.4,1196.3L1651.2,1200.9L1654.3,1193.2L1677.6,1194.7L1707.1,1196.3L1708.7,1204.0L1706.4,1224.2L1707.9,1258.4L1674.5,1259.9L1669.9,1263.0L1659.0,1259.9L1645.0,1253.7L1631.1,1244.4L1614.0,1232.0L1600.0,1227.3M1600.0,1211.0L1623.3,1213.4L1628.7,1214.1L1626.4,1209.5L1626.4,1196.3" fill="none"/>
<path d="M1631.8,1242.9L1638.8,1233.5L1652.8,1227.3L1655.1,1221.1L1652.8,1210.2" fill="none"/>
<path class="f" d="M1669.9,1263.0L1674.5,1259.9L1707.9,1258.4L1708.7,1241.3L1725.0,1240.5L1725.8,1249.1L1727.3,1258.4L1726.6,1269.3L1728.9,1293.3L1746.0,1292.5L1746.7,1284.8L1751.4,1284.8L1752.2,1291.0L1763.0,1293.3L1770.8,1292.5L1770.8,1300.0L1700.9,1300.0L1694.7,1292.5L1683.9,1280.1L1671.4,1268.5Z" fill="#277f8e"/>
<path d="M1669.9,1263.0L1674.5,1259.9L1707.9,1258.4L1708.7,1241.3L1725.0,1240.5L1725.8,1249.1L1727.3,1258.4L1726.6,1269.3L1728.9,1293.3L1746.0,1292.5L1746.7,1284.8L1751.4,1284.8L1752.2,1291.0L1763.0,1293.3L1770.8,1292.5L1770.8,1300.0M1700.9,1300.0L1694.7,1292.5L1683.9,1280.1L1671.4,1268.5L1669.9,1263.0" fill="none"/>
<path d="M1699.4,1294.9L1728.9,1293.3" fill="none"/>
<path d="M1707.9,1232.0L1714.9,1226.6L1724.2,1228.9L1730.4,1228.9L1732.0,1232.8L1735.1,1238.2L1743.6,1239.0L1744.4,1247.5L1753.0,1247.5L1755.3,1244.4L1758.4,1249.1L1761.5,1253.7L1770.8,1258.4L1770.8,1261.5L1763.0,1262.3L1763.0,1266.1L1780.1,1266.9L1780.1,1273.9L1772.4,1275.5L1770.8,1292.5L1763.0,1293.3L1752.2,1291.0L1751.4,1284.8L1746.7,1284.8L1746.0,1292.5L1728.9,1293.3L1726.6,1269.3L1727.3,1258.4L1725.8,1249.1L1725.0,1240.5L1708.7,1241.3Z" fill="#1fa187"/>
<path class="f" d="M1780.1,1266.9L1780.9,1256.8L1789.4,1256.1L1790.2,1253.7L1808.1,1253.0L1829.8,1253.0L1838.4,1252.2L1838.4,1258.4L1836.0,1262.3L1832.9,1270.8L1828.3,1280.1L1823.6,1287.9L1820.5,1294.1L1818.9,1300.0L1770.8,1300.0L1770.8,1292.5L1772.4,1275.5L1780.1,1273.9Z" fill="#4ac16d"/>
<path d="M1780.1,1266.9L1780.9,1256.8L1789.4,1256.1L1790.2,1253.7L1808.1,1253.0L1829.8,1253.0L1838.4,1252.2L1838.4,1258.4L1836.0,1262.3L1832.9,1270.8L1828.3,1280.1L1823.6,1287.9L1820.5,1294.1L1818.9,1300.0M1770.8,1300.0L1770.8,1292.5L1772.4,1275.5L1780.1,1273.9L1780.1,1266.9" fill="none"/>
<path class="f" d="M1710.2,1104.7L1714.9,1100.0L1736.6,1100.0L1738.2,1102.3L1767.7,1101.6L1768.5,1112.4L1770.8,1114.8L1767.7,1120.2L1763.0,1122.5L1761.5,1125.6L1741.3,1128.7L1739.8,1131.8L1735.1,1132.6L1733.5,1136.5L1729.7,1138.8L1728.9,1129.5L1714.9,1128.7L1714.1,1120.2L1718.0,1115.5L1717.2,1107.8L1710.2,1107.8Z" fill="#fde725"/>
<path d="M1710.2,1104.7L1714.9,1100.0M1736.6,1100.0L1738.2,1102.3L1767.7,1101.6L1768.5,1112.4L1770.8,1114.8L1767.7,1120.2L1763.0,1122.5L1761.5,1125.6L1741.3,1128.7L1739.8,1131.8L1735.1,1132.6L1733.5,1136.5L1729.7,1138.8L1728.9,1129.5L1714.9,1128.7L1714.1,1120.2L1718.0,1115.5L1717.2,1107.8L1710.2,1107.8L1710.2,1104.7" fill="none"/>
<path class="f" d="M1732.0,1139.6L1733.5,1136.5L1735.1,1132.6L1770.8,1131.1L1792.5,1130.3L1808.1,1131.1L1818.9,1129.5L1823.6,1128.7L1818.9,1112.4L1840.7,1110.9L1839.9,1103.1L1843.8,1103.1L1844.6,1110.9L1862.4,1120.2L1863.2,1151.2L1859.3,1152.0L1859.3,1159.0L1863.2,1162.1L1860.9,1168.3L1864.0,1170.7L1864.0,1177.6L1874.8,1187.0L1884.2,1200.9L1893.5,1200.9L1894.3,1208.7L1895.0,1232.0L1910.6,1232.0L1912.1,1239.0L1902.0,1239.8L1902.0,1272.4L1905.9,1273.1L1904.3,1278.6L1895.0,1283.2L1893.5,1291.0L1890.4,1300.0L1836.0,1300.0L1834.5,1296.4L1820.5,1294.1L1823.6,1287.9L1828.3,1280.1L1832.9,1270.8L1836.0,1262.3L1838.4,1258.4L1838.4,1252.2L1829.8,1253.0L1808.1,1253.0L1808.1,1247.5L1809.6,1242.9L1807.3,1228.9L1797.2,1228.9L1796.4,1203.3L1758.4,1202.5L1757.6,1198.6L1753.0,1200.9L1751.4,1203.3L1742.1,1202.5L1739.0,1199.4L1738.2,1173.0L1746.7,1173.0L1747.5,1184.6L1753.7,1186.2L1756.8,1193.2L1763.0,1190.8L1761.5,1187.0L1766.9,1185.4L1760.7,1180.7L1764.6,1177.6L1759.9,1176.9L1762.3,1171.4L1765.4,1170.7L1766.1,1167.5L1770.8,1166.8L1770.0,1162.9L1765.4,1162.1L1768.5,1159.0L1768.5,1152.0L1755.3,1152.0L1744.4,1155.1L1736.6,1158.2L1721.1,1159.0L1721.1,1151.2L1732.0,1150.5Z" fill="#fde725"/>
<path d="M1732.0,1139.6L1733.5,1136.5L1735.1,1132.6L1770.8,1131.1L1792.5,1130.3L1808.1,1131.1L1818.9,1129.5L1823.6,1128.7L1818.9,1112.4L1840.7,1110.9L1839.9,1103.1L1843.8,1103.1L1844.6,1110.9L1862.4,1120.2L1863.2,1151.2L1859.3,1152.0L1859.3,1159.0L1863.2,1162.1L1860.9,1168.3L1864.0,1170.7L1864.0,1177.6L1874.8,1187.0L1884.2,1200.9L1893.5,1200.9L1894.3,1208.7L1895.0,1232.0L1910.6,1232.0L1912.1,1239.0L1902.0,1239.8L1902.0,1272.4L1905.9,1273.1L1904.3,1278.6L1895.0,1283.2L1893.5,1291.0L1890.4,1300.0M1836.0,1300.0L1834.5,1296.4L1820.5,1294.1L1823.6,1287.9L1828.3,1280.1L1832.9,1270.8L1836.0,1262.3L1838.4,1258.4L1838.4,1252.2L1829.8,1253.0L1808.1,1253.0L1808.1,1247.5L1809.6,1242.9L1807.3,1228.9L1797.2,1228.9L1796.4,1203.3L1758.4,1202.5L1757.6,1198.6L1753.0,1200.9L1751.4,1203.3L1742.1,1202.5L1739.0,1199.4L1738.2,1173.0L1746.7,1173.0L1747.5,1184.6L1753.7,1186.2L1756.8,1193.2L1763.0,1190.8L1761.5,1187.0L1766.9,1185.4L1760.7,1180.7L1764.6,1177.6L1759.9,1176.9L1762.3,1171.4L1765.4,1170.7L1766.1,1167.5L1770.8,1166.8L1770.0,1162.9L1765.4,1162.1L1768.5,1159.0L1768.5,1152.0L1755.3,1152.0L1744.4,1155.1L1736.6,1158.2L1721.1,1159.0L1721.1,1151.2L1732.0,1150.5L1732.0,1139.6" fill="none"/>
<path d="M1665.2,1126.4L1677.6,1125.6L1678.4,1132.6L1683.9,1132.6L1683.1,1141.9L1680.7,1144.3L1665.2,1141.9L1664.4,1134.2Z" fill="#fde725"/>
<path class="f" d="M1659.0,1100.0L1676.1,1100.0L1676.1,1106.2L1669.9,1103.1L1659.0,1103.1Z" fill="#fde725"/>
<path d="M1676.1,1100.0L1676.1,1106.2L1669.9,1103.1L1659.0,1103.1L1659.0,1100.0" fill="none"/>
<path d="M1887.3,1123.3L1918.3,1123.3L1922.2,1138.8L1922.2,1151.2L1884.2,1151.2L1884.2,1146.6L1885.7,1131.1Z" fill="#4ac16d"/>
<path class="f" d="M1961.8,1100.0L2000.0,1100.0L2000.0,1131.1L1994.4,1128.0L1991.3,1123.3L1972.7,1121.7L1961.8,1121.7Z" fill="#4ac16d"/>
<path d="M2000.0,1131.1L1994.4,1128.0L1991.3,1123.3L1972.7,1121.7L1961.8,1121.7L1961.8,1100.0" fill="none"/>
<path class="f" d="M1864.0,1170.7L1876.4,1166.8L1887.3,1168.3L1888.8,1165.2L1897.4,1165.2L1897.4,1171.4L1933.9,1173.0L2000.0,1173.0L2000.0,1208.7L1924.5,1208.7L1894.3,1208.7L1893.5,1200.9L1884.2,1200.9L1874.8,1187.0L1864.0,1177.6Z" fill="#4ac16d"/>
<path d="M1864.0,1170.7L1876.4,1166.8L1887.3,1168.3L1888.8,1165.2L1897.4,1165.2L1897.4,1171.4L1933.9,1173.0L2000.0,1173.0M2000.0,1208.7L1924.5,1208.7L1894.3,1208.7L1893.5,1200.9L1884.2,1200.9L1874.8,1187.0L1864.0,1177.6L1864.0,1170.7" fill="none"/>
<path d="M1896.6,1173.0L1924.5,1173.0L1924.5,1199.4L1896.6,1199.4Z" fill="#1fa187"/>
<path class="f" d="M1933.9,1173.0L2000.0,1173.0L2000.0,1193.2L1954.0,1194.7L1933.9,1193.2Z" fill="#a0da39"/>
<path d="M1933.9,1173.0L2000.0,1173.0M2000.0,1193.2L1954.0,1194.7L1933.9,1193.2L1933.9,1173.0" fill="none"/>
<path class="f" d="M1972.7,1208.7L2000.0,1208.7L2000.0,1224.2L1972.7,1233.5Z" fill="#1fa187"/>
<path d="M1972.7,1208.7L2000.0,1208.7M2000.0,1224.2L1972.7,1233.5L1972.7,1208.7" fill="none"/>
<path d="M1916.8,1208.7L1924.5,1208.7L1924.5,1233.5L1912.1,1239.0L1910.6,1232.0L1916.8,1232.0Z" fill="#4ac16d"/>
<path class="f" d="M1902.0,1239.8L1912.1,1239.0L1913.7,1249.1L1923.8,1249.8L1923.0,1256.8L1919.9,1270.8L1912.1,1272.4L1918.3,1277.0L1927.6,1272.4L1930.7,1275.5L1918.3,1284.8L1907.5,1289.4L1901.2,1286.3L1895.0,1291.0L1893.5,1300.0L1890.4,1300.0L1893.5,1291.0L1895.0,1283.2L1904.3,1278.6L1905.9,1273.1L1902.0,1272.4Z" fill="#4ac16d"/>
<path d="M1902.0,1239.8L1912.1,1239.0L1913.7,1249.1L1923.8,1249.8L1923.0,1256.8L1919.9,1270.8L1912.1,1272.4L1918.3,1277.0L1927.6,1272.4L1930.7,1275.5L1918.3,1284.8L1907.5,1289.4L1901.2,1286.3L1895.0,1291.0L1893.5,1300.0M1890.4,1300.0L1893.5,1291.0L1895.0,1283.2L1904.3,1278.6L1905.9,1273.1L1902.0,1272.4L1902.0,1239.8" fill="none"/>
<path class="f" d="M1949.4,1253.7L1960.2,1239.8L1972.7,1233.5L2000.0,1224.2L2000.0,1252.2L1972.7,1269.3L1958.7,1263.0Z" fill="#1fa187"/>
<path d="M1949.4,1253.7L1960.2,1239.8L1972.7,1233.5L2000.0,1224.2M2000.0,1252.2L1972.7,1269.3L1958.7,1263.0L1949.4,1253.7" fill="none"/>
<path d="M1930.7,1265.4L1941.6,1267.7L1955.6,1270.8L1957.1,1284.8L1944.7,1295.7L1926.1,1292.5L1910.6,1291.0L1907.5,1289.4L1918.3,1284.8L1930.7,1275.5L1927.6,1272.4Z" fill="#1fa187"/>
<path class="f" d="M1955.6,1270.8L1958.7,1263.0L1972.7,1269.3L2000.0,1252.2L2000.0,1300.0L1918.3,1300.0L1902.8,1286.3L1907.5,1289.4L1910.6,1291.0L1926.1,1292.5L1944.7,1295.7L1957.1,1284.8Z" fill="#4ac16d"/>
<path d="M1955.6,1270.8L1958.7,1263.0L1972.7,1269.3L2000.0,1252.2M1918.3,1300.0L1902.8,1286.3L1907.5,1289.4L1910.6,1291.0L1926.1,1292.5L1944.7,1295.7L1957.1,1284.8L1955.6,1270.8" fill="none"/>
<path class="f" d="M1893.5,1300.0L1895.0,1291.0L1901.2,1286.3L1902.8,1286.3L1891.9,1300.0Z" fill="#1fa187"/>
<path d="M1893.5,1300.0L1895.0,1291.0L1901.2,1286.3L1902.8,1286.3L1891.9,1300.0" fill="none"/>
<path class="f" d="M1891.9,1300.0L1902.8,1286.3L1918.3,1300.0Z" fill="#277f8e"/>
<path d="M1891.9,1300.0L1902.8,1286.3L1918.3,1300.0" fill="none"/>
<path d="M1823.6,1128.7L1864.0,1170.7" fill="none"/>
<path d="M1809.6,1130.3L1808.9,1145.0L1809.6,1166.8L1792.5,1166.8L1770.8,1166.8" fill="none"/>
<path d="M1792.5,1166.8L1793.3,1202.5" fill="none"/>
<path d="M1809.6,1166.8L1811.2,1171.4L1811.2,1179.2L1817.4,1179.2" fill="none"/>
<path d="M1797.2,1228.9L1814.3,1224.2L1815.1,1220.3L1822.0,1219.6L1837.6,1218.8L1837.6,1214.9L1840.7,1215.7L1842.2,1224.2L1846.9,1227.3L1846.9,1214.9L1850.0,1211.8L1850.0,1201.7" fill="none"/>
<path d="M1846.9,1227.3L1850.0,1224.2L1878.0,1223.4L1885.7,1223.4L1886.5,1218.0L1894.3,1217.2" fill="none"/>
<path d="M1878.0,1223.4L1879.5,1249.1L1870.2,1249.8L1871.0,1300.0" fill="none"/>
<path d="M1809.6,1242.9L1818.9,1239.8L1829.8,1241.3L1832.9,1237.4L1848.4,1236.6L1854.7,1239.8L1851.6,1245.2L1860.9,1246.0L1862.4,1249.1L1870.2,1249.8" fill="none"/>
<path d="M1879.5,1249.1L1902.0,1249.8" fill="none"/>
<path d="M1619.4,1133.4L1618.6,1114.8" fill="none"/>
<path d="M1643.5,1100.0L1646.6,1115.5L1651.2,1132.6" fill="none"/>
<path d="M1646.6,1115.5L1659.0,1116.3L1659.0,1111.6L1663.7,1112.4L1663.7,1115.5L1687.0,1116.3L1691.6,1107.8L1699.4,1106.2L1699.4,1100.0" fill="none"/>
<path d="M1687.0,1116.3L1683.9,1132.6" fill="none"/>
<path d="M1687.0,1116.3L1699.4,1124.8L1705.6,1126.4L1714.1,1120.2" fill="none"/>
<path d="M1708.7,1204.0L1756.8,1203.3" fill="none"/>
<path d="M1758.4,1204.0L1761.5,1211.8L1770.0,1212.6L1770.8,1220.3L1787.9,1221.1L1790.2,1228.9L1797.2,1228.9" fill="none"/>
<path d="M1753.0,1231.2L1774.7,1230.4L1775.5,1237.4L1766.1,1238.2L1764.6,1248.3L1768.5,1249.1L1768.5,1252.2L1764.6,1252.2L1761.5,1242.9L1753.0,1238.2L1753.0,1231.2" fill="none"/>
<path d="M1790.2,1228.9L1792.5,1236.6L1788.7,1238.2" fill="none"/>
<path d="M1929.2,1135.7L1954.0,1128.0L1961.8,1135.7L1958.7,1145.0L1955.6,1149.7L1933.9,1151.2L1935.4,1163.7L1938.5,1165.2" fill="none"/>
<path d="M1938.5,1165.2L1980.4,1138.8L1991.3,1145.0L2000.0,1159.0" fill="none"/>
<path d="M1874.8,1169.9L1887.3,1123.3" fill="none"/>
<path d="M1949.4,1253.7L1977.3,1277.0L2000.0,1292.5" fill="none"/>
<path d="M1957.1,1284.8L1977.3,1277.0L2000.0,1255.3" fill="none"/>
<path d="M1796.4,1203.3L1850.0,1201.7L1893.5,1200.9" fill="none"/>
<path class="f" d="M1400.0,500.0L1800.0,500.0L1800.0,700.0L1400.0,700.0Z" fill="#ffffff"/>
<path class="f" d="M1541.3,500.0L1541.6,529.5L1546.7,532.6L1550.6,537.3L1555.3,541.1L1553.7,549.7L1555.3,552.8L1561.5,553.6L1564.6,550.5L1566.9,552.0L1564.6,558.2L1570.8,559.0L1563.0,562.1L1561.5,566.8L1553.7,568.3L1551.4,571.4L1552.2,576.9L1561.5,580.7L1566.1,584.6L1578.6,591.6L1591.0,593.9L1601.9,597.8L1617.4,602.5L1617.4,595.5L1619.7,600.9L1625.9,600.2L1631.4,607.1L1648.4,608.7L1660.9,611.0L1673.3,616.5L1687.3,621.1L1701.2,630.4L1710.6,633.5L1719.9,632.8L1732.3,639.8L1741.6,633.5L1752.5,627.3L1769.6,628.1L1772.7,624.2L1786.6,622.7L1794.4,620.3L1800.0,624.2L1800.0,500.0Z" fill="#fde725"/>
<path d="M1541.3,500.0L1541.6,529.5L1546.7,532.6L1550.6,537.3L1555.3,541.1L1553.7,549.7L1555.3,552.8L1561.5,553.6L1564.6,550.5L1566.9,552.0L1564.6,558.2L1570.8,559.0L1563.0,562.1L1561.5,566.8L1553.7,568.3L1551.4,571.4L1552.2,576.9L1561.5,580.7L1566.1,584.6L1578.6,591.6L1591.0,593.9L1601.9,597.8L1617.4,602.5L1617.4,595.5L1619.7,600.9L1625.9,600.2L1631.4,607.1L1648.4,608.7L1660.9,611.0L1673.3,616.5L1687.3,621.1L1701.2,630.4L1710.6,633.5L1719.9,632.8L1732.3,639.8L1741.6,633.5L1752.5,627.3L1769.6,628.1L1772.7,624.2L1786.6,622.7L1794.4,620.3L1800.0,624.2" fill="none"/>
<path class="f" d="M1417.1,500.0L1541.3,500.0L1541.6,529.5L1546.7,532.6L1550.6,537.3L1555.3,541.1L1553.7,549.7L1555.3,552.8L1547.5,555.9L1546.0,562.1L1544.4,565.2L1551.4,563.7L1544.4,571.4L1539.8,576.1L1532.0,579.2L1524.2,583.9L1518.0,585.4L1516.5,591.6L1508.7,596.3L1499.4,598.1L1474.5,598.6L1473.8,616.5L1465.2,617.2L1463.7,632.0L1462.1,638.2L1462.1,641.3L1445.0,639.8L1431.1,638.2L1428.0,636.6L1431.1,632.0L1430.3,624.2L1426.4,621.1L1425.6,591.6L1431.8,584.6L1423.3,585.4L1421.7,581.5L1419.4,582.3L1418.6,576.1L1411.6,576.4L1411.6,583.9L1400.0,585.1L1400.0,557.5L1409.3,551.2L1415.5,552.0L1428.0,545.0L1441.9,541.1L1446.6,538.8L1451.2,537.3L1446.6,535.7L1450.5,531.1L1449.7,525.6L1433.4,526.4L1431.1,518.6L1428.0,525.6L1416.3,529.5L1417.9,515.5L1416.3,506.2Z" fill="#1fa187"/>
<path d="M1541.3,500.0L1541.6,529.5L1546.7,532.6L1550.6,537.3L1555.3,541.1L1553.7,549.7L1555.3,552.8L1547.5,555.9L1546.0,562.1L1544.4,565.2L1551.4,563.7L1544.4,571.4L1539.8,576.1L1532.0,579.2L1524.2,583.9L1518.0,585.4L1516.5,591.6L1508.7,596.3L1499.4,598.1L1474.5,598.6L1473.8,616.5L1465.2,617.2L1463.7,632.0L1462.1,638.2L1462.1,641.3L1445.0,639.8L1431.1,638.2L1428.0,636.6L1431.1,632.0L1430.3,624.2L1426.4,621.1L1425.6,591.6L1431.8,584.6L1423.3,585.4L1421.7,581.5L1419.4,582.3L1418.6,576.1L1411.6,576.4L1411.6,583.9L1400.0,585.1M1400.0,557.5L1409.3,551.2L1415.5,552.0L1428.0,545.0L1441.9,541.1L1446.6,538.8L1451.2,537.3L1446.6,535.7L1450.5,531.1L1449.7,525.6L1433.4,526.4L1431.1,518.6L1428.0,525.6L1416.3,529.5L1417.9,515.5L1416.3,506.2L1417.1,500.0" fill="none"/>
<path class="f" d="M1400.0,500.0L1417.1,500.0L1416.3,506.2L1417.9,515.5L1416.3,529.5L1428.0,525.6L1431.1,518.6L1433.4,526.4L1449.7,525.6L1450.5,531.1L1446.6,535.7L1451.2,537.3L1446.6,538.8L1441.9,541.1L1428.0,545.0L1415.5,552.0L1409.3,551.2L1400.0,557.5Z" fill="#fde725"/>
<path d="M1417.1,500.0L1416.3,506.2L1417.9,515.5L1416.3,529.5L1428.0,525.6L1431.1,518.6L1433.4,526.4L1449.7,525.6L1450.5,531.1L1446.6,535.7L1451.2,537.3L1446.6,538.8L1441.9,541.1L1428.0,545.0L1415.5,552.0L1409.3,551.2L1400.0,557.5" fill="none"/>
<path class="f" d="M1400.0,585.1L1411.6,583.9L1409.3,588.5L1411.6,591.6L1400.0,593.2Z" fill="#fde725"/>
<path d="M1400.0,585.1L1411.6,583.9L1409.3,588.5L1411.6,591.6L1400.0,593.2" fill="none"/>
<path class="f" d="M1400.0,620.3L1406.2,621.9L1410.9,627.3L1420.2,632.0L1428.0,636.6L1431.1,638.2L1438.8,639.8L1431.1,641.3L1415.5,640.5L1410.9,643.6L1400.0,642.9Z" fill="#fde725"/>
<path d="M1400.0,620.3L1406.2,621.9L1410.9,627.3L1420.2,632.0L1428.0,636.6L1431.1,638.2L1438.8,639.8L1431.1,641.3L1415.5,640.5L1410.9,643.6L1400.0,642.9" fill="none"/>
<path class="f" d="M1411.6,576.4L1418.6,576.1L1419.4,582.3L1421.7,581.5L1423.3,585.4L1431.8,584.6L1425.6,591.6L1426.4,621.1L1430.3,624.2L1431.1,632.0L1428.0,636.6L1420.2,632.0L1410.9,627.3L1406.2,621.9L1400.0,620.3L1400.0,593.2L1411.6,591.6L1409.3,588.5L1411.6,583.9Z" fill="#4ac16d"/>
<path d="M1411.6,576.4L1418.6,576.1L1419.4,582.3L1421.7,581.5L1423.3,585.4L1431.8,584.6L1425.6,591.6L1426.4,621.1L1430.3,624.2L1431.1,632.0L1428.0,636.6L1420.2,632.0L1410.9,627.3L1406.2,621.9L1400.0,620.3M1400.0,593.2L1411.6,591.6L1409.3,588.5L1411.6,583.9L1411.6,576.4" fill="none"/>
<path class="f" d="M1400.0,642.9L1410.9,643.6L1415.5,640.5L1431.1,641.3L1438.8,639.8L1445.0,639.8L1462.1,641.3L1464.4,642.9L1464.4,654.5L1452.8,655.3L1449.7,661.5L1473.0,659.9L1478.4,656.1L1483.9,663.0L1490.1,668.5L1493.2,669.3L1507.1,675.5L1517.2,673.9L1515.7,680.1L1522.7,687.9L1525.8,695.7L1530.4,700.0L1400.0,700.0Z" fill="#1fa187"/>
<path d="M1400.0,642.9L1410.9,643.6L1415.5,640.5L1431.1,641.3L1438.8,639.8L1445.0,639.8L1462.1,641.3L1464.4,642.9L1464.4,654.5L1452.8,655.3L1449.7,661.5L1473.0,659.9L1478.4,656.1L1483.9,663.0L1490.1,668.5L1493.2,669.3L1507.1,675.5L1517.2,673.9L1515.7,680.1L1522.7,687.9L1525.8,695.7L1530.4,700.0" fill="none"/>
<path d="M1438.0,655.3L1452.8,655.3" fill="none"/>
<path d="M1438.0,655.3L1441.9,660.7L1449.7,664.6L1462.1,672.4L1473.0,683.2L1479.2,694.1L1483.9,700.0" fill="none"/>
<path d="M1449.7,664.6L1449.7,661.5" fill="none"/>
<path class="f" d="M1412.4,695.7L1423.3,684.8L1428.0,685.6L1429.5,680.1L1437.3,670.8L1444.3,665.4L1449.7,669.3L1451.2,675.5L1450.5,692.5L1452.8,700.0L1415.5,700.0Z" fill="#277f8e"/>
<path d="M1412.4,695.7L1423.3,684.8L1428.0,685.6L1429.5,680.1L1437.3,670.8L1444.3,665.4L1449.7,669.3L1451.2,675.5L1450.5,692.5L1452.8,700.0M1415.5,700.0L1412.4,695.7" fill="none"/>
<path class="f" d="M1441.9,700.0L1451.2,694.1L1455.1,700.0Z" fill="#4ac16d"/>
<path d="M1441.9,700.0L1451.2,694.1L1455.1,700.0" fill="none"/>
<path class="f" d="M1412.4,695.7L1415.5,700.0L1420.2,700.0Z" fill="#365c8d"/>
<path d="M1412.4,695.7L1415.5,700.0M1420.2,700.0L1412.4,695.7" fill="none"/>
<path d="M1474.5,598.6L1492.4,598.1L1492.4,616.5L1510.2,617.2L1510.2,627.3L1507.1,635.1L1504.0,641.3L1504.8,649.1L1502.5,655.3L1500.9,658.4L1497.8,656.1L1492.4,661.5L1491.6,668.5L1483.9,663.0L1478.4,656.1L1473.0,659.9L1449.7,661.5L1452.8,655.3L1464.4,654.5L1464.4,642.9L1462.1,641.3L1462.1,638.2L1463.7,632.0L1465.2,617.2L1473.8,616.5Z" fill="#4ac16d"/>
<path d="M1492.4,661.5L1497.8,656.1L1500.9,658.4L1510.2,665.4L1510.2,676.2L1507.1,675.5L1493.2,669.3L1491.6,668.5Z" fill="#365c8d"/>
<path class="f" d="M1492.4,598.1L1499.4,598.1L1502.5,602.5L1508.7,605.6L1521.9,610.2L1524.2,616.5L1535.1,632.0L1536.6,635.1L1541.3,641.3L1542.9,649.1L1552.2,655.3L1549.1,659.9L1558.4,666.1L1556.8,669.3L1564.6,672.4L1568.5,676.2L1563.0,686.3L1558.4,698.8L1559.2,700.0L1530.4,700.0L1525.8,695.7L1522.7,687.9L1515.7,680.1L1517.2,673.9L1510.2,676.2L1510.2,665.4L1500.9,658.4L1502.5,655.3L1504.8,649.1L1504.0,641.3L1507.1,635.1L1510.2,627.3L1510.2,617.2L1492.4,616.5Z" fill="#a0da39"/>
<path d="M1492.4,598.1L1499.4,598.1L1502.5,602.5L1508.7,605.6L1521.9,610.2L1524.2,616.5L1535.1,632.0L1536.6,635.1L1541.3,641.3L1542.9,649.1L1552.2,655.3L1549.1,659.9L1558.4,666.1L1556.8,669.3L1564.6,672.4L1568.5,676.2L1563.0,686.3L1558.4,698.8L1559.2,700.0M1530.4,700.0L1525.8,695.7L1522.7,687.9L1515.7,680.1L1517.2,673.9L1510.2,676.2L1510.2,665.4L1500.9,658.4L1502.5,655.3L1504.8,649.1L1504.0,641.3L1507.1,635.1L1510.2,627.3L1510.2,617.2L1492.4,616.5L1492.4,598.1" fill="none"/>
<path class="f" d="M1568.5,676.2L1564.6,669.3L1570.8,659.2L1580.1,655.3L1589.4,658.4L1585.6,660.7L1598.8,661.5L1609.6,667.7L1620.5,675.5L1629.8,683.2L1632.9,692.5L1636.0,700.0L1559.2,700.0L1558.4,698.8L1563.0,686.3Z" fill="#4ac16d"/>
<path d="M1568.5,676.2L1564.6,669.3L1570.8,659.2L1580.1,655.3L1589.4,658.4L1585.6,660.7L1598.8,661.5L1609.6,667.7L1620.5,675.5L1629.8,683.2L1632.9,692.5L1636.0,700.0M1559.2,700.0L1558.4,698.8L1563.0,686.3L1568.5,676.2" fill="none"/>
<path class="f" d="M1629.8,686.3L1634.5,690.2L1639.9,691.0L1640.7,686.3L1660.9,686.3L1664.0,681.7L1667.1,685.6L1662.4,692.5L1659.3,700.0L1636.0,700.0L1632.9,692.5Z" fill="#277f8e"/>
<path d="M1629.8,686.3L1634.5,690.2L1639.9,691.0L1640.7,686.3L1660.9,686.3L1664.0,681.7L1667.1,685.6L1662.4,692.5L1659.3,700.0M1636.0,700.0L1632.9,692.5L1629.8,686.3" fill="none"/>
<path class="f" d="M1708.2,681.7L1715.2,680.9L1719.1,685.6L1716.0,691.0L1716.8,697.2L1713.7,700.0L1708.2,700.0Z" fill="#277f8e"/>
<path d="M1708.2,681.7L1715.2,680.9L1719.1,685.6L1716.0,691.0L1716.8,697.2L1713.7,700.0M1708.2,700.0L1708.2,681.7" fill="none"/>
<path class="f" d="M1800.0,500.0L2200.0,500.0L2200.0,700.0L1800.0,700.0Z" fill="#ffffff"/>
<path class="f" d="M1800.0,500.0L1966.1,500.0L1969.3,504.7L1973.1,511.6L1970.8,517.1L1973.9,521.7L1974.7,528.0L1978.6,535.7L1981.7,543.5L1989.4,549.7L1993.3,546.6L1998.8,548.1L2000.3,550.5L1997.2,551.2L1994.9,569.9L1993.3,600.9L1994.1,644.4L1991.0,643.6L1989.4,647.5L1981.7,649.8L1972.4,659.9L1968.5,659.2L1958.4,663.0L1950.6,659.9L1939.8,666.9L1928.9,663.8L1914.9,672.4L1910.2,671.6L1902.5,676.2L1900.9,673.9L1903.3,680.9L1900.9,683.2L1901.7,689.4L1899.4,694.1L1897.8,700.0L1860.6,700.0L1863.7,697.2L1869.9,694.1L1872.2,687.9L1877.6,684.8L1880.7,673.9L1883.9,671.6L1877.6,669.3L1876.1,664.6L1877.6,655.3L1886.2,651.4L1888.5,644.4L1896.3,636.6L1896.3,632.0L1890.1,628.1L1890.1,623.4L1885.4,624.2L1880.7,627.3L1874.5,622.7L1866.8,621.1L1857.5,624.2L1845.0,624.2L1841.9,618.8L1835.7,617.2L1824.8,624.2L1817.1,620.3L1810.9,621.1L1806.2,624.2L1800.0,625.0Z" fill="#fde725"/>
<path d="M1966.1,500.0L1969.3,504.7L1973.1,511.6L1970.8,517.1L1973.9,521.7L1974.7,528.0L1978.6,535.7L1981.7,543.5L1989.4,549.7L1993.3,546.6L1998.8,548.1L2000.3,550.5L1997.2,551.2L1994.9,569.9L1993.3,600.9L1994.1,644.4L1991.0,643.6L1989.4,647.5L1981.7,649.8L1972.4,659.9L1968.5,659.2L1958.4,663.0L1950.6,659.9L1939.8,666.9L1928.9,663.8L1914.9,672.4L1910.2,671.6L1902.5,676.2L1900.9,673.9L1903.3,680.9L1900.9,683.2L1901.7,689.4L1899.4,694.1L1897.8,700.0M1860.6,700.0L1863.7,697.2L1869.9,694.1L1872.2,687.9L1877.6,684.8L1880.7,673.9L1883.9,671.6L1877.6,669.3L1876.1,664.6L1877.6,655.3L1886.2,651.4L1888.5,644.4L1896.3,636.6L1896.3,632.0L1890.1,628.1L1890.1,623.4L1885.4,624.2L1880.7,627.3L1874.5,622.7L1866.8,621.1L1857.5,624.2L1845.0,624.2L1841.9,618.8L1835.7,617.2L1824.8,624.2L1817.1,620.3L1810.9,621.1L1806.2,624.2L1800.0,625.0" fill="none"/>
<path d="M1884.6,500.0L1885.4,509.3L1881.5,514.0L1883.9,523.3L1881.5,533.4L1877.6,536.5L1887.0,536.5L1892.4,538.8L1891.6,545.0L1900.9,557.5L1899.4,564.4L1895.5,569.1L1901.7,569.1L1900.9,573.0L1894.7,577.6L1895.5,588.5L1897.0,595.5L1890.1,596.3L1883.9,600.9L1880.7,608.7L1874.5,613.4L1871.4,621.1" fill="none"/>
<path class="f" d="M1882.3,500.0L1966.9,500.0L1966.1,500.9L1883.9,501.6Z" fill="#365c8d"/>
<path d="M1966.9,500.0L1966.1,500.9L1883.9,501.6L1882.3,500.0" fill="none"/>
<path class="f" d="M1966.1,500.0L2094.3,500.0L2095.8,515.5L2100.5,554.3L2098.1,568.3L2120.7,568.3L2121.4,565.2L2132.3,565.2L2135.4,573.0L2143.9,575.3L2145.5,580.7L2143.2,585.4L2149.4,590.1L2147.0,596.3L2152.5,602.5L2152.5,608.7L2154.8,611.8L2154.0,618.0L2146.3,624.2L2138.5,626.6L2130.7,632.0L2121.4,633.5L2118.3,638.2L2116.8,644.4L2112.1,647.5L2109.0,655.3L2104.3,661.5L2099.7,664.6L2100.5,675.5L2097.4,683.2L2096.6,694.1L2093.5,700.0L1996.4,700.0L1994.9,670.8L1994.1,644.4L1993.3,600.9L1994.9,569.9L1997.2,551.2L2000.3,550.5L1998.8,548.1L1993.3,546.6L1989.4,549.7L1981.7,543.5L1978.6,535.7L1974.7,528.0L1973.9,521.7L1970.8,517.1L1973.1,511.6L1969.3,504.7Z" fill="#46327e"/>
<path d="M2094.3,500.0L2095.8,515.5L2100.5,554.3L2098.1,568.3L2120.7,568.3L2121.4,565.2L2132.3,565.2L2135.4,573.0L2143.9,575.3L2145.5,580.7L2143.2,585.4L2149.4,590.1L2147.0,596.3L2152.5,602.5L2152.5,608.7L2154.8,611.8L2154.0,618.0L2146.3,624.2L2138.5,626.6L2130.7,632.0L2121.4,633.5L2118.3,638.2L2116.8,644.4L2112.1,647.5L2109.0,655.3L2104.3,661.5L2099.7,664.6L2100.5,675.5L2097.4,683.2L2096.6,694.1L2093.5,700.0M1996.4,700.0L1994.9,670.8L1994.1,644.4L1993.3,600.9L1994.9,569.9L1997.2,551.2L2000.3,550.5L1998.8,548.1L1993.3,546.6L1989.4,549.7L1981.7,543.5L1978.6,535.7L1974.7,528.0L1973.9,521.7L1970.8,517.1L1973.1,511.6L1969.3,504.7L1966.1,500.0" fill="none"/>
<path class="f" d="M2104.3,500.0L2158.7,500.0L2178.1,510.1L2175.8,514.8L2164.9,520.2L2167.2,523.3L2163.4,524.8L2167.2,528.0L2160.2,526.4L2151.7,526.4L2150.2,519.4L2141.6,518.6L2138.5,511.6L2133.9,509.3L2123.0,508.5L2116.8,506.2L2107.5,507.0L2104.3,503.9Z" fill="#365c8d"/>
<path d="M2158.7,500.0L2178.1,510.1L2175.8,514.8L2164.9,520.2L2167.2,523.3L2163.4,524.8L2167.2,528.0L2160.2,526.4L2151.7,526.4L2150.2,519.4L2141.6,518.6L2138.5,511.6L2133.9,509.3L2123.0,508.5L2116.8,506.2L2107.5,507.0L2104.3,503.9L2104.3,500.0" fill="none"/>
<path class="f" d="M1900.9,673.9L1902.5,676.2L1910.2,671.6L1914.9,672.4L1928.9,663.8L1939.8,666.9L1950.6,659.9L1958.4,663.0L1968.5,659.2L1972.4,659.9L1970.8,664.6L1971.6,672.4L1967.7,677.0L1963.0,682.5L1958.4,686.3L1958.4,692.5L1952.2,700.0L1897.8,700.0L1899.4,694.1L1901.7,689.4L1900.9,683.2L1903.3,680.9Z" fill="#4ac16d"/>
<path d="M1900.9,673.9L1902.5,676.2L1910.2,671.6L1914.9,672.4L1928.9,663.8L1939.8,666.9L1950.6,659.9L1958.4,663.0L1968.5,659.2L1972.4,659.9L1970.8,664.6L1971.6,672.4L1967.7,677.0L1963.0,682.5L1958.4,686.3L1958.4,692.5L1952.2,700.0M1897.8,700.0L1899.4,694.1L1901.7,689.4L1900.9,683.2L1903.3,680.9L1900.9,673.9" fill="none"/>
<path class="f" d="M1972.4,659.9L1981.7,649.8L1989.4,647.5L1991.0,643.6L1994.1,644.4L1994.9,670.8L1996.4,700.0L1952.2,700.0L1958.4,692.5L1958.4,686.3L1963.0,682.5L1967.7,677.0L1971.6,672.4L1970.8,664.6Z" fill="#1fa187"/>
<path d="M1972.4,659.9L1981.7,649.8L1989.4,647.5L1991.0,643.6L1994.1,644.4L1994.9,670.8L1996.4,700.0M1952.2,700.0L1958.4,692.5L1958.4,686.3L1963.0,682.5L1967.7,677.0L1971.6,672.4L1970.8,664.6L1972.4,659.9" fill="none"/>
<path class="f" d="M2000.0,700.0L2400.0,700.0L2400.0,900.0L2000.0,900.0Z" fill="#ffffff"/>
<path class="f" d="M2000.0,700.0L2095.5,700.0L2096.0,704.7L2093.9,711.6L2071.4,711.6L2066.8,712.4L2062.1,708.5L2054.3,706.2L2046.6,708.5L2043.5,714.8L2038.8,717.1L2031.1,721.0L2028.7,718.6L2023.3,721.7L2022.5,713.2L2000.0,714.8Z" fill="#46327e"/>
<path d="M2095.5,700.0L2096.0,704.7L2093.9,711.6L2071.4,711.6L2066.8,712.4L2062.1,708.5L2054.3,706.2L2046.6,708.5L2043.5,714.8L2038.8,717.1L2031.1,721.0L2028.7,718.6L2023.3,721.7L2022.5,713.2L2000.0,714.8" fill="none"/>
<path class="f" d="M2000.0,714.8L2022.5,713.2L2023.3,721.7L2028.7,718.6L2031.1,721.0L2038.8,717.1L2043.5,714.8L2046.6,708.5L2054.3,706.2L2062.1,708.5L2066.8,712.4L2071.4,711.6L2070.7,717.1L2055.9,766.8L2046.6,797.8L2038.8,818.8L2022.5,818.8L2021.0,807.1L2017.1,806.4L2016.3,796.3L2012.4,790.1L2009.3,788.5L2011.6,780.7L2006.2,780.7L2000.0,776.1Z" fill="#1fa187"/>
<path d="M2000.0,714.8L2022.5,713.2L2023.3,721.7L2028.7,718.6L2031.1,721.0L2038.8,717.1L2043.5,714.8L2046.6,708.5L2054.3,706.2L2062.1,708.5L2066.8,712.4L2071.4,711.6L2070.7,717.1L2055.9,766.8L2046.6,797.8L2038.8,818.8L2022.5,818.8L2021.0,807.1L2017.1,806.4L2016.3,796.3L2012.4,790.1L2009.3,788.5L2011.6,780.7L2006.2,780.7L2000.0,776.1" fill="none"/>
<path d="M2021.0,718.6L2015.5,721.0L2009.3,728.0L2006.2,737.3L2003.1,751.2L2003.9,766.8L2000.0,768.3" fill="none"/>
<path d="M2071.4,711.6L2093.9,711.6L2113.4,710.9L2138.7,710.1L2139.0,721.7L2143.6,723.3L2143.6,728.7L2141.3,730.3L2144.4,732.6L2144.4,736.5L2153.7,737.0L2153.7,747.4L2149.1,747.4L2151.4,750.0L2181.7,749.4L2187.1,744.3L2208.5,743.5L2208.9,762.1L2132.0,764.0L2128.9,763.7L2127.3,768.3L2124.2,770.7L2124.2,800.2L2119.6,800.9L2119.3,807.1L2070.7,807.9L2069.9,800.9L2061.3,800.2L2060.6,797.5L2046.6,798.6L2055.9,766.8L2070.7,717.1Z" fill="#4ac16d"/>
<path d="M2055.9,766.8L2083.9,766.0L2093.2,766.0L2128.9,763.7" fill="none"/>
<path d="M2113.4,710.9L2113.7,728.7L2119.6,741.9L2124.2,749.7L2128.9,754.3L2132.0,764.0" fill="none"/>
<path class="f" d="M2000.0,776.1L2006.2,780.7L2011.6,780.7L2009.3,788.5L2012.4,790.1L2016.3,796.3L2017.1,806.4L2021.0,807.1L2022.5,818.8L2038.8,818.8L2046.6,798.6L2060.6,797.5L2061.3,800.2L2069.9,800.9L2070.7,807.9L2119.3,807.1L2119.6,800.9L2124.2,800.2L2144.4,800.2L2149.1,807.1L2153.0,818.0L2232.1,816.5L2232.5,828.6L2153.0,830.1L2151.4,833.5L2141.3,836.3L2139.8,834.3L2132.0,835.1L2124.2,837.0L2116.5,835.9L2102.5,837.4L2103.3,855.3L2105.6,857.6L2103.3,867.7L2107.1,867.7L2103.3,869.3L2103.7,900.0L2000.0,900.0Z" fill="#fde725"/>
<path d="M2000.0,776.1L2006.2,780.7L2011.6,780.7L2009.3,788.5L2012.4,790.1L2016.3,796.3L2017.1,806.4L2021.0,807.1L2022.5,818.8L2038.8,818.8L2046.6,798.6L2060.6,797.5L2061.3,800.2L2069.9,800.9L2070.7,807.9L2119.3,807.1L2119.6,800.9L2124.2,800.2L2144.4,800.2L2149.1,807.1L2153.0,818.0L2232.1,816.5L2232.5,828.6L2153.0,830.1L2151.4,833.5L2141.3,836.3L2139.8,834.3L2132.0,835.1L2124.2,837.0L2116.5,835.9L2102.5,837.4L2103.3,855.3L2105.6,857.6L2103.3,867.7L2107.1,867.7L2103.3,869.3L2103.7,900.0" fill="none"/>
<path class="f" d="M2000.0,889.4L2006.2,893.3L2014.0,900.0L2000.0,900.0Z" fill="#a0da39"/>
<path d="M2000.0,889.4L2006.2,893.3L2014.0,900.0" fill="none"/>
<path d="M2070.7,807.9L2070.7,839.8" fill="none"/>
<path d="M2100.9,807.9L2101.7,837.4" fill="none"/>
<path d="M2031.1,846.7L2035.7,847.5L2036.5,853.7L2040.4,856.1L2049.7,857.6L2062.1,857.1L2071.4,856.5L2071.7,873.1L2074.5,877.0L2085.4,877.8L2096.3,877.0L2099.4,878.6L2100.2,891.0L2103.7,891.3" fill="none"/>
<path d="M2071.4,856.5L2026.4,862.3L2024.1,870.8L2021.7,891.0L2015.5,894.1L2006.2,893.3" fill="none"/>
<path d="M2048.9,842.9L2059.8,842.9L2062.1,857.1" fill="none"/>
<path d="M2000.0,846.0L2031.1,843.6" fill="none"/>
<path class="f" d="M2000.0,900.0L2400.0,900.0L2400.0,1100.0L2000.0,1100.0Z" fill="#ffffff"/>
<path class="f" d="M2014.0,900.0L2103.7,900.0L2117.2,900.0L2118.0,908.5L2136.3,908.1L2136.6,917.1L2149.5,917.1L2149.5,908.5L2156.1,908.5L2156.5,917.1L2173.1,917.1L2180.9,912.1L2181.4,925.2L2190.2,925.6L2190.7,930.3L2199.5,927.2L2201.1,979.2L2196.4,980.0L2192.5,984.6L2181.7,990.8L2175.5,991.6L2173.9,995.5L2170.8,996.3L2162.3,1004.8L2161.5,1009.5L2164.6,1014.1L2159.9,1015.7L2152.2,1024.2L2156.8,1028.1L2166.1,1018.0L2170.8,1019.6L2180.1,1029.7L2183.2,1028.1L2189.4,1036.6L2188.7,1039.0L2194.1,1044.4L2198.0,1042.9L2198.0,1039.0L2201.1,1039.0L2202.6,1042.9L2198.8,1046.7L2201.9,1052.2L2196.4,1053.0L2195.7,1058.4L2189.4,1057.6L2183.2,1053.0L2173.9,1050.6L2167.7,1049.4L2166.9,1059.9L2155.3,1062.3L2146.7,1062.3L2145.2,1056.8L2139.8,1056.8L2128.9,1059.2L2119.6,1061.5L2107.9,1066.1L2109.5,1077.0L2114.1,1077.8L2114.6,1089.4L2096.3,1090.2L2094.7,1092.5L2083.9,1091.8L2083.5,1078.6L2086.2,1076.2L2085.4,1070.8L2088.5,1063.0L2081.5,1054.5L2103.3,1053.4L2101.7,1024.2L2101.2,1007.9L2121.1,1007.1L2124.2,1002.5L2125.0,981.5L2142.9,980.7L2146.7,976.9L2146.3,953.6L2111.8,955.1L2074.5,955.1L2068.3,950.5L2055.9,938.8L2045.0,938.5L2037.3,931.1L2033.4,934.2L2031.8,930.3L2036.5,928.7L2031.1,920.2L2026.4,913.2Z" fill="#fde725"/>
<path d="M2117.2,900.0L2118.0,908.5L2136.3,908.1L2136.6,917.1L2149.5,917.1L2149.5,908.5L2156.1,908.5L2156.5,917.1L2173.1,917.1L2180.9,912.1L2181.4,925.2L2190.2,925.6L2190.7,930.3L2199.5,927.2L2201.1,979.2L2196.4,980.0L2192.5,984.6L2181.7,990.8L2175.5,991.6L2173.9,995.5L2170.8,996.3L2162.3,1004.8L2161.5,1009.5L2164.6,1014.1L2159.9,1015.7L2152.2,1024.2L2156.8,1028.1L2166.1,1018.0L2170.8,1019.6L2180.1,1029.7L2183.2,1028.1L2189.4,1036.6L2188.7,1039.0L2194.1,1044.4L2198.0,1042.9L2198.0,1039.0L2201.1,1039.0L2202.6,1042.9L2198.8,1046.7L2201.9,1052.2L2196.4,1053.0L2195.7,1058.4L2189.4,1057.6L2183.2,1053.0L2173.9,1050.6L2167.7,1049.4L2166.9,1059.9L2155.3,1062.3L2146.7,1062.3L2145.2,1056.8L2139.8,1056.8L2128.9,1059.2L2119.6,1061.5L2107.9,1066.1L2109.5,1077.0L2114.1,1077.8L2114.6,1089.4L2096.3,1090.2L2094.7,1092.5L2083.9,1091.8L2083.5,1078.6L2086.2,1076.2L2085.4,1070.8L2088.5,1063.0L2081.5,1054.5L2103.3,1053.4L2101.7,1024.2L2101.2,1007.9L2121.1,1007.1L2124.2,1002.5L2125.0,981.5L2142.9,980.7L2146.7,976.9L2146.3,953.6L2111.8,955.1L2074.5,955.1L2068.3,950.5L2055.9,938.8L2045.0,938.5L2037.3,931.1L2033.4,934.2L2031.8,930.3L2036.5,928.7L2031.1,920.2L2026.4,913.2L2014.0,900.0" fill="none"/>
<path class="f" d="M2000.0,900.0L2014.0,900.0L2026.4,913.2L2031.1,920.2L2036.5,928.7L2031.8,930.3L2033.4,934.2L2037.3,931.1L2045.0,938.5L2055.9,938.8L2068.3,950.5L2074.5,955.1L2111.8,955.1L2146.3,953.6L2146.7,976.9L2142.9,980.7L2125.0,981.5L2124.2,1002.5L2121.1,1007.1L2101.2,1007.9L2101.7,1024.2L2103.3,1053.4L2081.5,1054.5L2088.5,1063.0L2085.4,1070.8L2086.2,1076.2L2080.7,1072.4L2062.1,1058.4L2023.3,1028.9L2000.0,1010.2Z" fill="#a0da39"/>
<path d="M2014.0,900.0L2026.4,913.2L2031.1,920.2L2036.5,928.7L2031.8,930.3L2033.4,934.2L2037.3,931.1L2045.0,938.5L2055.9,938.8L2068.3,950.5L2074.5,955.1L2111.8,955.1L2146.3,953.6L2146.7,976.9L2142.9,980.7L2125.0,981.5L2124.2,1002.5L2121.1,1007.1L2101.2,1007.9L2101.7,1024.2L2103.3,1053.4L2081.5,1054.5L2088.5,1063.0L2085.4,1070.8L2086.2,1076.2L2080.7,1072.4L2062.1,1058.4L2023.3,1028.9L2000.0,1010.2" fill="none"/>
<path d="M2068.3,950.5L2073.0,959.0L2080.7,966.8L2082.3,972.2L2089.3,978.4L2082.3,981.5L2096.3,999.4L2101.2,1007.9" fill="none"/>
<path class="f" d="M2000.0,1010.2L2023.3,1028.9L2062.1,1058.4L2080.7,1072.4L2086.2,1076.2L2083.5,1078.6L2077.6,1078.6L2068.3,1073.1L2062.1,1072.7L2052.8,1077.0L2045.0,1078.6L2045.8,1084.0L2038.8,1082.5L2031.1,1080.9L2015.5,1077.0L2010.9,1080.9L2000.0,1080.1Z" fill="#4ac16d"/>
<path d="M2000.0,1010.2L2023.3,1028.9L2062.1,1058.4L2080.7,1072.4L2086.2,1076.2L2083.5,1078.6L2077.6,1078.6L2068.3,1073.1L2062.1,1072.7L2052.8,1077.0L2045.0,1078.6L2045.8,1084.0L2038.8,1082.5L2031.1,1080.9L2015.5,1077.0L2010.9,1080.9L2000.0,1080.1" fill="none"/>
<path d="M2000.0,1019.6L2009.3,1021.1L2015.5,1024.2L2023.3,1028.9" fill="none"/>
<path class="f" d="M2000.0,1080.1L2010.9,1080.9L2015.5,1077.0L2031.1,1080.9L2038.8,1082.5L2040.7,1086.3L2040.7,1100.0L2000.0,1100.0Z" fill="#1fa187"/>
<path d="M2000.0,1080.1L2010.9,1080.9L2015.5,1077.0L2031.1,1080.9L2038.8,1082.5L2040.7,1086.3L2040.7,1100.0" fill="none"/>
<path d="M2103.7,900.0L2104.3,936.5L2149.5,935.7L2149.8,944.3L2155.3,945.0" fill="none"/>
<path d="M2146.7,949.7L2199.5,927.2" fill="none"/>
<path class="f" d="M2000.0,1100.0L2400.0,1100.0L2400.0,1300.0L2000.0,1300.0Z" fill="#ffffff"/>
<path class="f" d="M2086.2,1109.3L2092.4,1107.0L2093.2,1103.9L2100.9,1100.0L2105.6,1102.3L2184.0,1200.6L2201.9,1205.6L2229.8,1212.1L2232.1,1252.2L2233.7,1266.1L2231.4,1270.0L2233.7,1276.2L2230.6,1274.7L2229.0,1263.0L2225.9,1262.7L2216.6,1277.0L2216.6,1289.4L2212.7,1296.4L2208.1,1300.0L2200.3,1300.0L2191.0,1292.5L2184.8,1293.3L2175.5,1289.4L2170.8,1291.0L2164.6,1285.6L2158.4,1286.3L2157.6,1300.0L2144.4,1300.0L2135.1,1298.8L2127.3,1300.0L2128.1,1287.9L2121.1,1285.6L2114.9,1287.1L2111.8,1293.3L2107.1,1280.9L2102.5,1284.8L2054.3,1247.5L2051.2,1244.4L2052.8,1242.1L2041.9,1235.1L2037.3,1228.9L2031.1,1224.2L2031.1,1205.6L2008.5,1203.3L2007.8,1198.6L2000.0,1199.4L2000.0,1177.6L2008.5,1186.2L2026.4,1172.2L2031.1,1176.9L2032.6,1181.5L2038.8,1183.9L2037.3,1186.2L2051.2,1193.2L2057.5,1193.9L2052.8,1195.5L2053.6,1198.1L2063.7,1197.0L2079.2,1177.6L2092.9,1186.2Z" fill="#1fa187"/>
<path d="M2086.2,1109.3L2092.4,1107.0L2093.2,1103.9L2100.9,1100.0L2105.6,1102.3L2184.0,1200.6L2201.9,1205.6L2229.8,1212.1L2232.1,1252.2L2233.7,1266.1L2231.4,1270.0L2233.7,1276.2L2230.6,1274.7L2229.0,1263.0L2225.9,1262.7L2216.6,1277.0L2216.6,1289.4L2212.7,1296.4L2208.1,1300.0M2200.3,1300.0L2191.0,1292.5L2184.8,1293.3L2175.5,1289.4L2170.8,1291.0L2164.6,1285.6L2158.4,1286.3L2157.6,1300.0M2144.4,1300.0L2135.1,1298.8L2127.3,1300.0L2128.1,1287.9L2121.1,1285.6L2114.9,1287.1L2111.8,1293.3L2107.1,1280.9L2102.5,1284.8L2054.3,1247.5L2051.2,1244.4L2052.8,1242.1L2041.9,1235.1L2037.3,1228.9L2031.1,1224.2L2031.1,1205.6L2008.5,1203.3L2007.8,1198.6L2000.0,1199.4M2000.0,1177.6L2008.5,1186.2L2026.4,1172.2L2031.1,1176.9L2032.6,1181.5L2038.8,1183.9L2037.3,1186.2L2051.2,1193.2L2057.5,1193.9L2052.8,1195.5L2053.6,1198.1L2063.7,1197.0L2079.2,1177.6L2092.9,1186.2L2086.2,1109.3" fill="none"/>
<path class="f" d="M2000.0,1100.0L2040.7,1100.0L2039.6,1114.0L2041.6,1128.7L2037.3,1128.0L2034.9,1117.1L2031.1,1110.9L2028.7,1109.3L2024.8,1111.6L2015.5,1110.9L2000.0,1107.0Z" fill="#1fa187"/>
<path d="M2040.7,1100.0L2039.6,1114.0L2041.6,1128.7L2037.3,1128.0L2034.9,1117.1L2031.1,1110.9L2028.7,1109.3L2024.8,1111.6L2015.5,1110.9L2000.0,1107.0" fill="none"/>
<path class="f" d="M2000.0,1107.0L2015.5,1110.9L2024.8,1111.6L2010.1,1133.4L2000.0,1132.6Z" fill="#4ac16d"/>
<path d="M2000.0,1107.0L2015.5,1110.9L2024.8,1111.6L2010.1,1133.4L2000.0,1132.6" fill="none"/>
<path class="f" d="M2000.0,1132.6L2010.1,1133.4L2034.2,1141.1L2038.0,1146.6L2079.2,1177.6L2063.7,1197.0L2053.6,1198.1L2052.8,1195.5L2057.5,1193.9L2051.2,1193.2L2037.3,1186.2L2038.8,1183.9L2032.6,1181.5L2031.1,1176.9L2026.4,1172.2L2008.5,1186.2L2000.0,1177.6Z" fill="#a0da39"/>
<path d="M2000.0,1132.6L2010.1,1133.4L2034.2,1141.1L2038.0,1146.6L2079.2,1177.6L2063.7,1197.0L2053.6,1198.1L2052.8,1195.5L2057.5,1193.9L2051.2,1193.2L2037.3,1186.2L2038.8,1183.9L2032.6,1181.5L2031.1,1176.9L2026.4,1172.2L2008.5,1186.2L2000.0,1177.6" fill="none"/>
<path d="M2038.0,1146.6L2033.4,1159.0L2031.1,1166.8L2026.4,1169.1L2015.5,1168.3L2017.1,1170.7L2010.9,1171.4L2006.2,1166.8L2000.0,1162.9" fill="none"/>
<path class="f" d="M2000.0,1199.4L2007.8,1198.6L2008.5,1203.3L2031.1,1205.6L2031.1,1224.2L2037.3,1228.9L2041.9,1235.1L2052.8,1242.1L2051.2,1244.4L2054.3,1247.5L2102.5,1284.8L2090.1,1300.0L2079.2,1300.0L2043.5,1280.1L2040.4,1267.7L2032.6,1283.2L2015.5,1300.0L2000.0,1300.0Z" fill="#4ac16d"/>
<path d="M2000.0,1199.4L2007.8,1198.6L2008.5,1203.3L2031.1,1205.6L2031.1,1224.2L2037.3,1228.9L2041.9,1235.1L2052.8,1242.1L2051.2,1244.4L2054.3,1247.5L2102.5,1284.8L2090.1,1300.0M2079.2,1300.0L2043.5,1280.1L2040.4,1267.7L2032.6,1283.2L2015.5,1300.0" fill="none"/>
<path d="M2000.0,1249.8L2007.8,1251.4L2014.0,1256.8L2019.4,1264.6L2021.7,1272.4L2032.6,1283.2" fill="none"/>
<path class="f" d="M2015.5,1300.0L2032.6,1283.2L2040.4,1267.7L2043.5,1280.1L2079.2,1300.0Z" fill="#1fa187"/>
<path d="M2015.5,1300.0L2032.6,1283.2L2040.4,1267.7L2043.5,1280.1L2079.2,1300.0" fill="none"/>
<path class="f" d="M2090.1,1300.0L2102.5,1284.8L2107.1,1280.9L2111.8,1293.3L2114.9,1287.1L2121.1,1285.6L2128.1,1287.9L2124.2,1300.0Z" fill="#4ac16d"/>
<path d="M2090.1,1300.0L2102.5,1284.8L2107.1,1280.9L2111.8,1293.3L2114.9,1287.1L2121.1,1285.6L2128.1,1287.9L2124.2,1300.0" fill="none"/>
<path class="f" d="M1600.0,1300.0L2000.0,1300.0L2000.0,1500.0L1600.0,1500.0Z" fill="#ffffff"/>
<path class="f" d="M1764.6,1300.0L2000.0,1300.0L2000.0,1384.6L1988.2,1390.8L1986.6,1413.4L1969.6,1407.1L1949.4,1401.7L1941.6,1396.3L1937.7,1388.5L1923.0,1381.5L1915.2,1378.4L1916.8,1376.1L1902.8,1369.1L1898.1,1360.6L1895.0,1346.6L1873.3,1341.9L1862.4,1352.8L1857.8,1362.1L1856.2,1371.4L1848.4,1382.3L1843.8,1385.4L1839.1,1384.6L1826.7,1377.6L1818.9,1376.1L1812.7,1369.9L1810.4,1363.7L1801.9,1364.4L1798.8,1380.7L1766.1,1359.8L1766.9,1349.7L1764.6,1331.1L1765.4,1312.4Z" fill="#1fa187"/>
<path d="M2000.0,1384.6L1988.2,1390.8L1986.6,1413.4L1969.6,1407.1L1949.4,1401.7L1941.6,1396.3L1937.7,1388.5L1923.0,1381.5L1915.2,1378.4L1916.8,1376.1L1902.8,1369.1L1898.1,1360.6L1895.0,1346.6L1873.3,1341.9L1862.4,1352.8L1857.8,1362.1L1856.2,1371.4L1848.4,1382.3L1843.8,1385.4L1839.1,1384.6L1826.7,1377.6L1818.9,1376.1L1812.7,1369.9L1810.4,1363.7L1801.9,1364.4L1798.8,1380.7L1766.1,1359.8L1766.9,1349.7L1764.6,1331.1L1765.4,1312.4L1764.6,1300.0" fill="none"/>
<path class="f" d="M1699.4,1300.0L1764.6,1300.0L1765.4,1312.4L1764.6,1331.1L1766.9,1349.7L1765.4,1359.3L1750.6,1349.7L1721.1,1323.3Z" fill="#277f8e"/>
<path d="M1764.6,1300.0L1765.4,1312.4L1764.6,1331.1L1766.9,1349.7L1765.4,1359.3L1750.6,1349.7L1721.1,1323.3L1699.4,1300.0" fill="none"/>
<path class="f" d="M1772.4,1300.0L1818.9,1300.0L1815.1,1309.6L1773.1,1310.6Z" fill="#4ac16d"/>
<path d="M1818.9,1300.0L1815.1,1309.6L1773.1,1310.6L1772.4,1300.0" fill="none"/>
<path class="f" d="M1957.1,1300.0L1988.2,1300.0L1983.5,1306.2L1986.6,1309.3L1982.0,1315.5L1972.7,1328.0L1947.8,1312.4Z" fill="#4ac16d"/>
<path d="M1988.2,1300.0L1983.5,1306.2L1986.6,1309.3L1982.0,1315.5L1972.7,1328.0L1947.8,1312.4L1957.1,1300.0" fill="none"/>
<path class="f" d="M1884.9,1307.0L1888.8,1300.0L1919.9,1300.0L1918.3,1304.7L1923.0,1307.8L1926.1,1306.2L1935.4,1310.9L1947.8,1312.4L1972.7,1328.0L1982.0,1341.9L1977.3,1349.7L1972.7,1359.0L1964.9,1373.0L1964.1,1368.3L1966.5,1362.1L1958.7,1364.4L1957.1,1360.6L1959.5,1354.3L1955.6,1348.9L1949.4,1354.3L1937.0,1352.8L1926.1,1355.1L1919.9,1354.3L1913.7,1347.4L1910.6,1349.7L1898.1,1352.0L1895.0,1346.6L1907.5,1336.5L1899.7,1334.2L1891.9,1309.3Z" fill="#277f8e"/>
<path d="M1884.9,1307.0L1888.8,1300.0M1919.9,1300.0L1918.3,1304.7L1923.0,1307.8L1926.1,1306.2L1935.4,1310.9L1947.8,1312.4L1972.7,1328.0L1982.0,1341.9L1977.3,1349.7L1972.7,1359.0L1964.9,1373.0L1964.1,1368.3L1966.5,1362.1L1958.7,1364.4L1957.1,1360.6L1959.5,1354.3L1955.6,1348.9L1949.4,1354.3L1937.0,1352.8L1926.1,1355.1L1919.9,1354.3L1913.7,1347.4L1910.6,1349.7L1898.1,1352.0L1895.0,1346.6L1907.5,1336.5L1899.7,1334.2L1891.9,1309.3L1884.9,1307.0" fill="none"/>
<path d="M1891.9,1310.1L1898.9,1312.4L1884.2,1337.3L1879.5,1335.7Z" fill="#fde725"/>
<path d="M1873.3,1341.9L1879.5,1335.7L1907.5,1336.5L1895.0,1346.6L1898.1,1360.6L1902.8,1369.1L1916.8,1376.1L1915.2,1378.4L1921.4,1383.9L1923.8,1396.3L1919.9,1399.4L1918.3,1407.1L1910.6,1407.1L1905.9,1410.2L1902.0,1418.0L1896.6,1419.6L1901.2,1425.8L1906.7,1426.6L1905.1,1430.4L1899.7,1433.5L1879.5,1423.4L1873.3,1405.6L1854.7,1405.6L1842.2,1406.4L1836.0,1407.1L1829.8,1409.9L1815.1,1392.4L1798.8,1380.7L1801.9,1364.4L1810.4,1363.7L1812.7,1369.9L1818.9,1376.1L1826.7,1377.6L1839.1,1384.6L1843.8,1385.4L1848.4,1382.3L1856.2,1371.4L1857.8,1362.1L1862.4,1352.8Z" fill="#365c8d"/>
<path d="M1836.0,1407.1L1842.2,1406.4L1854.7,1405.6L1870.2,1404.8L1873.3,1405.6L1879.5,1422.7L1851.6,1414.9L1832.9,1409.5Z" fill="#46327e"/>
<path d="M1896.6,1352.0L1905.1,1351.2L1912.1,1349.7L1912.1,1354.3L1909.8,1357.1L1905.9,1355.6L1905.1,1352.8L1897.4,1353.6Z" fill="#440154"/>
<path d="M1815.1,1309.6L1806.5,1338.8L1801.9,1364.4" fill="none"/>
<path d="M1817.4,1334.2L1823.6,1345.0L1836.0,1345.8L1848.4,1345.0L1856.2,1338.8L1870.2,1337.3" fill="none"/>
<path d="M1848.4,1382.3L1850.8,1399.4L1854.7,1405.6" fill="none"/>
<path d="M1867.1,1400.9L1885.7,1410.2L1891.9,1399.4L1910.6,1396.3L1919.9,1399.4" fill="none"/>
<path d="M1854.7,1405.6L1864.0,1413.4L1876.4,1414.9" fill="none"/>
<path d="M1937.7,1362.1L1933.9,1371.4L1916.8,1376.1" fill="none"/>
<path d="M1988.2,1300.0L2000.0,1315.5" fill="none"/>
<path class="f" d="M2000.0,1300.0L2400.0,1300.0L2400.0,1500.0L2000.0,1500.0Z" fill="#ffffff"/>
<path class="f" d="M2000.0,1300.0L2015.5,1300.0L2003.1,1316.3L2000.0,1314.8Z" fill="#4ac16d"/>
<path d="M2015.5,1300.0L2003.1,1316.3L2000.0,1314.8" fill="none"/>
<path class="f" d="M2015.5,1300.0L2077.6,1300.0L2086.2,1306.2L2052.8,1352.8L2045.0,1373.0L2045.8,1376.1L2021.7,1374.5L2018.6,1385.4L2014.8,1388.5L2009.3,1381.5L2007.8,1379.2L2000.0,1384.6L2000.0,1314.8L2003.1,1316.3Z" fill="#1fa187"/>
<path d="M2077.6,1300.0L2086.2,1306.2L2052.8,1352.8L2045.0,1373.0L2045.8,1376.1L2021.7,1374.5L2018.6,1385.4L2014.8,1388.5L2009.3,1381.5L2007.8,1379.2L2000.0,1384.6M2000.0,1314.8L2003.1,1316.3L2015.5,1300.0" fill="none"/>
<path d="M2000.0,1359.0L2001.6,1374.5L2006.2,1380.7" fill="none"/>
<path class="f" d="M2077.6,1300.0L2124.2,1300.0L2119.6,1315.5L2121.1,1318.6L2128.9,1318.6L2135.1,1322.5L2139.8,1323.0L2127.3,1332.6L2123.4,1332.6L2122.7,1346.6L2121.1,1359.0L2115.7,1376.1L2114.9,1391.6L2110.2,1407.1L2104.0,1426.6L2108.7,1433.5L2110.2,1453.7L2108.7,1461.5L2100.9,1463.0L2097.0,1469.3L2095.0,1475.5L2093.9,1455.3L2093.2,1435.9L2091.6,1414.1L2069.9,1402.5L2052.8,1390.1L2045.8,1376.1L2045.0,1373.0L2052.8,1352.8L2086.2,1306.2Z" fill="#4ac16d"/>
<path d="M2124.2,1300.0L2119.6,1315.5L2121.1,1318.6L2128.9,1318.6L2135.1,1322.5L2139.8,1323.0L2127.3,1332.6L2123.4,1332.6L2122.7,1346.6L2121.1,1359.0L2115.7,1376.1L2114.9,1391.6L2110.2,1407.1L2104.0,1426.6L2108.7,1433.5L2110.2,1453.7L2108.7,1461.5L2100.9,1463.0L2097.0,1469.3L2095.0,1475.5L2093.9,1455.3L2093.2,1435.9L2091.6,1414.1L2069.9,1402.5L2052.8,1390.1L2045.8,1376.1L2045.0,1373.0L2052.8,1352.8L2086.2,1306.2L2077.6,1300.0" fill="none"/>
<path d="M2140.5,1323.3L2142.1,1331.1L2141.3,1360.6L2138.7,1360.9L2140.5,1374.5L2141.3,1387.0L2138.2,1399.4L2133.5,1408.7L2128.9,1414.9L2128.9,1426.6L2127.3,1432.0L2127.3,1434.3L2118.0,1446.0L2113.4,1456.8L2109.5,1464.6L2109.5,1492.5L2094.4,1481.4L2095.0,1475.5L2097.0,1469.3L2100.9,1463.0L2108.7,1461.5L2110.2,1453.7L2108.7,1433.5L2104.0,1426.6L2110.2,1407.1L2114.9,1391.6L2115.7,1376.1L2121.1,1359.0L2122.7,1346.6L2123.4,1332.6L2127.3,1332.6L2139.8,1323.3Z" fill="#1fa187"/>
<path d="M2140.5,1323.3L2159.2,1328.7L2159.9,1337.3L2158.4,1339.6L2166.1,1352.0L2169.3,1346.6L2180.1,1337.3L2184.8,1336.2L2191.8,1338.0L2191.0,1352.8L2189.4,1357.5L2184.8,1362.1L2175.5,1380.7L2171.6,1384.6L2171.6,1390.1L2174.7,1393.2L2173.1,1400.9L2173.9,1410.2L2168.5,1414.1L2167.7,1421.1L2169.3,1422.7L2163.0,1428.9L2162.3,1436.6L2163.8,1447.5L2165.8,1449.8L2165.4,1453.7L2161.5,1456.8L2156.8,1452.2L2149.1,1447.5L2144.4,1448.3L2142.9,1451.4L2141.3,1449.1L2138.2,1448.3L2135.1,1442.9L2136.6,1430.4L2128.9,1426.6L2128.9,1414.9L2133.5,1408.7L2138.2,1399.4L2141.3,1387.0L2140.5,1374.5L2138.7,1360.9L2141.3,1360.6L2142.1,1331.1Z" fill="#4ac16d"/>
<path class="f" d="M2121.1,1300.0L2133.5,1300.0L2132.0,1303.1L2126.6,1307.8L2127.3,1311.6L2124.2,1315.5L2125.8,1318.6L2121.1,1318.6L2119.6,1315.5L2122.7,1304.7Z" fill="#1fa187"/>
<path d="M2133.5,1300.0L2132.0,1303.1L2126.6,1307.8L2127.3,1311.6L2124.2,1315.5L2125.8,1318.6L2121.1,1318.6L2119.6,1315.5L2122.7,1304.7L2121.1,1300.0" fill="none"/>
<path class="f" d="M2139.8,1300.0L2158.4,1300.0L2157.6,1302.8L2145.2,1301.9L2142.9,1303.9Z" fill="#1fa187"/>
<path d="M2158.4,1300.0L2157.6,1302.8L2145.2,1301.9L2142.9,1303.9L2139.8,1300.0" fill="none"/>
<path d="M2139.8,1323.0L2141.3,1319.4L2146.0,1319.1L2145.2,1324.1Z" fill="#1fa187"/>
<path d="M2015.5,1387.0L2019.4,1386.6L2020.2,1393.2L2024.8,1395.5L2025.6,1391.6L2032.6,1390.8L2033.4,1397.8L2038.8,1399.4L2041.1,1396.3L2040.4,1386.2L2048.9,1385.7L2052.8,1391.6L2052.0,1399.4L2054.3,1403.3L2059.0,1404.0L2062.9,1408.7L2063.7,1416.5L2058.2,1419.9L2048.9,1415.7L2044.3,1407.1L2041.9,1405.6L2041.6,1412.6L2029.5,1412.6L2028.7,1402.5L2024.8,1403.3L2016.3,1413.7L2012.4,1413.0L2011.6,1404.8L2005.4,1402.5L2009.3,1397.8L2014.8,1393.2Z" fill="#440154"/>
<path d="M2086.2,1306.2L2089.3,1310.1L2085.4,1313.2L2088.5,1314.8L2093.2,1318.6L2127.3,1332.6" fill="none"/>
<path d="M2123.4,1336.5L2111.8,1341.1L2107.1,1351.2L2100.9,1359.0L2088.5,1370.7L2081.5,1376.9L2083.9,1379.2L2071.4,1391.6L2069.1,1394.7L2071.4,1398.6L2070.7,1402.5" fill="none"/>
<path class="f" d="M1000.0,728.1L1052.0,727.3L1052.8,718.0L1052.8,707.1L1052.8,690.1L1031.1,695.5L1017.1,694.7L1014.8,691.6L1015.5,687.0L1012.4,684.6L1007.8,674.5L1003.9,669.1L1000.0,669.9Z" fill="#ffffff"/>
<path d="M1000.0,728.1L1052.0,727.3L1052.8,718.0L1052.8,707.1L1052.8,690.1L1031.1,695.5L1017.1,694.7L1014.8,691.6L1015.5,687.0L1012.4,684.6L1007.8,674.5L1003.9,669.1L1000.0,669.9" fill="none"/>
<path d="M1052.8,707.1L1062.1,707.9L1074.5,704.8L1093.2,704.0L1114.9,703.7L1124.2,701.7L1134.3,700.9L1146.0,701.7L1153.0,702.5L1161.2,698.6L1161.2,721.1L1146.0,725.8L1136.6,727.3L1118.0,724.2L1100.9,727.3L1088.5,733.5L1083.9,738.2L1076.1,732.0L1066.8,729.7L1062.9,722.7L1062.1,718.0L1052.8,718.0Z" fill="#277f8e"/>
<path d="M1052.8,690.1L1052.8,707.1L1062.1,707.9L1074.5,704.8L1093.2,704.0L1114.9,703.7L1124.2,701.7L1134.3,700.9L1134.3,677.6L1107.1,677.6L1077.6,679.2L1071.4,681.5L1052.8,679.2Z" fill="#4ac16d"/>
<path d="M1107.1,677.6L1107.1,703.7" fill="none"/>
<path d="M1134.3,651.2L1141.3,650.5L1142.1,648.1L1150.6,647.8L1151.4,652.8L1160.7,652.8L1161.2,698.6L1153.0,699.1L1152.2,703.3L1146.0,701.7L1134.3,700.9Z" fill="#fde725"/>
<path d="M1142.9,702.2L1150.6,701.7L1153.0,707.9L1142.9,708.7Z" fill="#440154"/>
<path d="M1161.2,662.1L1187.1,661.3L1205.7,660.9L1206.2,702.5L1197.2,702.8L1197.2,710.6L1172.4,710.6L1161.5,707.1Z" fill="#a0da39"/>
<path d="M1161.5,707.1L1172.4,710.6L1197.2,710.6L1197.2,702.8L1206.2,702.5L1214.3,706.4L1220.5,703.3L1227.5,704.0L1226.7,711.8L1225.2,724.2L1223.6,736.6L1220.5,749.1L1216.6,750.6L1217.4,770.0L1201.9,772.4L1187.9,771.6L1178.6,777.8L1170.8,777.0L1159.9,772.4L1155.3,761.5L1158.4,739.8L1162.3,732.0L1161.2,721.1Z" fill="#277f8e"/>
<path d="M1197.2,710.6L1198.0,736.6L1193.3,750.6L1193.3,769.3" fill="none"/>
<path d="M1205.7,675.3L1214.3,675.3L1215.1,660.6L1257.8,659.8L1258.5,665.2L1253.1,666.0L1253.9,674.5L1257.8,670.7L1259.3,680.7L1258.5,697.8L1252.3,702.5L1258.5,714.9L1257.8,727.3L1254.7,730.4L1226.7,711.8L1227.5,704.0L1220.5,703.3L1214.3,706.4L1206.2,702.5Z" fill="#1fa187"/>
<path d="M1226.7,711.8L1254.7,730.4L1251.6,732.0L1256.2,735.1L1254.7,753.7L1246.9,763.0L1240.7,765.4L1248.4,770.8L1223.6,773.1L1217.4,770.0L1216.6,750.6L1220.5,749.1L1223.6,736.6L1225.2,724.2Z" fill="#1fa187"/>
<path d="M1083.9,738.2L1088.5,733.5L1100.9,727.3L1118.0,724.2L1136.6,727.3L1146.0,725.8L1161.2,721.1L1162.3,732.0L1158.4,739.8L1155.3,761.5L1159.9,772.4L1127.3,759.2L1118.0,762.3L1111.8,755.3L1111.0,751.4L1107.1,750.6L1093.2,753.0Z" fill="#4ac16d"/>
<path d="M1252.3,702.5L1258.5,697.8L1262.4,697.8L1277.2,696.3L1276.4,708.7L1278.0,726.6L1264.0,728.1L1262.4,725.8L1257.8,727.3L1258.5,714.9Z" fill="#277f8e"/>
<path d="M1277.2,696.3L1295.8,692.4L1304.3,691.6L1310.6,699.4L1313.7,707.1L1315.2,727.3L1287.3,728.1L1278.0,726.6L1276.4,708.7Z" fill="#1fa187"/>
<path d="M1253.1,666.0L1258.5,665.2L1299.7,674.5L1301.2,683.9L1304.3,691.6L1295.8,692.4L1277.2,696.3L1262.4,697.8L1262.4,693.2L1259.3,693.2L1259.3,680.7L1257.8,670.7L1253.9,674.5Z" fill="#4ac16d"/>
<path d="M1299.7,674.5L1304.3,657.5L1348.6,657.5L1350.2,684.6L1358.7,683.9L1368.0,690.1L1323.0,692.4L1304.3,691.6L1301.2,683.9Z" fill="#a0da39"/>
<path d="M1304.3,691.6L1323.0,692.4L1368.0,690.1L1370.3,707.9L1340.1,709.5L1315.2,711.0L1313.7,707.1L1310.6,699.4Z" fill="#1fa187"/>
<path d="M1315.2,711.0L1340.1,709.5L1340.8,740.5L1329.2,738.2L1324.5,739.8L1316.8,737.4L1315.2,727.3Z" fill="#365c8d"/>
<path d="M1340.1,709.5L1370.3,707.9L1375.8,735.1L1378.9,739.8L1385.1,753.7L1368.0,753.7L1352.5,755.3L1349.4,745.2L1340.8,740.5Z" fill="#46327e"/>
<path d="M1340.8,735.9L1375.8,735.1" fill="none"/>
<path class="f" d="M1368.0,690.1L1358.7,683.9L1368.0,682.3L1367.2,666.8L1378.9,674.5L1382.0,687.0L1385.1,690.1L1380.4,693.2L1391.3,696.3L1400.0,700.9L1400.0,749.1L1385.1,753.7L1378.9,739.8L1375.8,735.1L1370.3,707.9Z" fill="#277f8e"/>
<path d="M1368.0,690.1L1358.7,683.9L1368.0,682.3L1367.2,666.8L1378.9,674.5L1382.0,687.0L1385.1,690.1L1380.4,693.2L1391.3,696.3L1400.0,700.9M1400.0,749.1L1385.1,753.7L1378.9,739.8L1375.8,735.1L1370.3,707.9L1368.0,690.1" fill="none"/>
<path class="f" d="M1378.9,674.5L1380.4,662.1L1394.4,651.2L1394.4,643.5L1400.0,643.5L1400.0,700.9L1391.3,696.3L1380.4,693.2L1385.1,690.1L1382.0,687.0Z" fill="#1fa187"/>
<path d="M1378.9,674.5L1380.4,662.1L1394.4,651.2L1394.4,643.5L1400.0,643.5M1400.0,700.9L1391.3,696.3L1380.4,693.2L1385.1,690.1L1382.0,687.0L1378.9,674.5" fill="none"/>
<path d="M1254.7,730.4L1257.8,727.3L1262.4,725.8L1264.0,728.1L1278.0,726.6L1287.3,728.1L1315.2,727.3L1316.8,737.4L1324.5,739.8L1329.2,738.2L1340.8,740.5L1349.4,745.2L1352.5,755.3L1368.0,753.7L1364.9,761.5L1357.1,769.3L1360.2,773.9L1355.6,775.5L1333.9,776.2L1332.3,770.8L1312.1,772.4L1309.0,768.5L1301.2,767.7L1291.9,759.9L1285.7,764.6L1284.2,770.8L1273.3,769.3L1251.6,775.5L1248.4,770.8L1240.7,765.4L1246.9,763.0L1254.7,753.7L1256.2,735.1L1251.6,732.0Z" fill="#365c8d"/>
<path d="M1278.0,726.6L1279.5,739.8L1281.1,753.7L1273.3,769.3" fill="none"/>
<path d="M1315.2,727.3L1316.8,737.4L1309.0,742.9L1307.5,749.1L1312.1,772.4" fill="none"/>
<path d="M1368.0,756.8L1372.7,754.5L1385.1,755.3L1386.6,761.5L1382.0,766.9L1372.7,762.3Z" fill="#d3d3d3"/>
<path class="f" d="M1368.0,753.7L1385.1,753.7L1400.0,749.1L1400.0,800.0L1380.4,800.0L1378.9,778.6L1372.7,772.4L1360.2,773.9L1357.1,769.3L1364.9,761.5Z" fill="#46327e"/>
<path d="M1368.0,753.7L1385.1,753.7L1400.0,749.1M1380.4,800.0L1378.9,778.6L1372.7,772.4L1360.2,773.9L1357.1,769.3L1364.9,761.5L1368.0,753.7" fill="none"/>
<path d="M1368.0,756.8L1372.7,754.5L1385.1,755.3L1386.6,761.5L1382.0,766.9L1372.7,762.3Z" fill="#d3d3d3"/>
<path class="f" d="M1333.9,776.2L1355.6,775.5L1360.2,773.9L1372.7,772.4L1378.9,778.6L1380.4,800.0L1338.5,800.0L1337.7,786.3Z" fill="#440154"/>
<path d="M1333.9,776.2L1355.6,775.5L1360.2,773.9L1372.7,772.4L1378.9,778.6L1380.4,800.0M1338.5,800.0L1337.7,786.3L1333.9,776.2" fill="none"/>
<path class="f" d="M1417.4,494.7L1444.6,493.2L1443.8,484.6L1441.5,479.2L1443.0,475.3L1448.4,469.9L1454.7,463.7L1459.3,469.9L1467.1,474.5L1478.0,478.4L1488.8,483.9L1493.5,489.3L1501.2,490.1L1512.1,491.6L1523.0,487.0L1533.9,483.1L1540.8,480.7L1541.6,502.5L1416.6,502.5Z" fill="#1fa187"/>
<path d="M1417.4,494.7L1444.6,493.2L1443.8,484.6L1441.5,479.2L1443.0,475.3L1448.4,469.9L1454.7,463.7L1459.3,469.9L1467.1,474.5L1478.0,478.4L1488.8,483.9L1493.5,489.3L1501.2,490.1L1512.1,491.6L1523.0,487.0L1533.9,483.1L1540.8,480.7L1541.6,502.5M1416.6,502.5L1417.4,494.7" fill="none"/>
<path d="M1377.0,495.5L1417.4,494.7" fill="none"/>
<path class="f" d="M1400.0,650.0L1800.0,650.0L1800.0,850.0L1400.0,850.0Z" fill="#1fa187"/>
<path class="f" d="M1544.4,650.0L1553.0,656.2L1549.1,660.9L1558.4,665.5L1564.6,671.7L1568.5,676.4L1564.6,668.6L1570.8,658.5L1580.1,655.4L1589.4,657.8L1586.3,660.9L1598.8,661.6L1609.6,667.9L1620.5,675.6L1629.8,683.4L1632.9,688.8L1639.9,690.4L1640.7,686.5L1660.9,686.5L1664.0,681.8L1667.1,685.7L1662.4,693.5L1659.3,698.1L1660.9,703.6L1708.2,702.0L1708.2,681.8L1715.2,681.1L1719.1,685.7L1716.0,691.1L1716.8,698.1L1713.7,702.0L1741.6,701.2L1741.6,705.1L1745.5,705.1L1745.5,701.2L1763.4,700.5L1764.1,718.3L1800.0,717.5L1800.0,650.0Z" fill="#ffffff"/>
<path d="M1544.4,650.0L1553.0,656.2L1549.1,660.9L1558.4,665.5L1564.6,671.7L1568.5,676.4L1564.6,668.6L1570.8,658.5L1580.1,655.4L1589.4,657.8L1586.3,660.9L1598.8,661.6L1609.6,667.9L1620.5,675.6L1629.8,683.4L1632.9,688.8L1639.9,690.4L1640.7,686.5L1660.9,686.5L1664.0,681.8L1667.1,685.7L1662.4,693.5L1659.3,698.1L1660.9,703.6L1708.2,702.0L1708.2,681.8L1715.2,681.1L1719.1,685.7L1716.0,691.1L1716.8,698.1L1713.7,702.0L1741.6,701.2L1741.6,705.1L1745.5,705.1L1745.5,701.2L1763.4,700.5L1764.1,718.3L1800.0,717.5" fill="none"/>
<path d="M1412.4,695.8L1423.3,685.7L1428.0,684.9L1429.5,681.1L1437.3,671.7L1444.3,665.5L1449.7,669.4L1451.2,675.6L1450.5,695.0L1445.0,698.1L1438.8,704.3L1433.4,709.8L1415.5,696.6Z" fill="#277f8e"/>
<path d="M1408.5,701.2L1412.4,695.8L1415.5,696.6L1433.4,709.8L1434.9,716.8L1426.4,726.1L1420.2,722.2L1414.8,715.2Z" fill="#365c8d"/>
<path class="f" d="M1400.0,698.1L1408.5,701.2L1414.8,715.2L1420.2,722.2L1426.4,726.1L1424.1,730.7L1420.2,731.5L1418.6,738.5L1409.3,739.3L1400.0,744.7Z" fill="#277f8e"/>
<path d="M1400.0,698.1L1408.5,701.2L1414.8,715.2L1420.2,722.2L1426.4,726.1L1424.1,730.7L1420.2,731.5L1418.6,738.5L1409.3,739.3L1400.0,744.7" fill="none"/>
<path d="M1629.8,683.4L1632.9,688.8L1639.9,690.4L1640.7,686.5L1660.9,686.5L1664.0,681.8L1667.1,685.7L1662.4,693.5L1659.3,698.1L1660.9,703.6L1671.7,703.6L1708.2,702.0L1708.2,709.0L1709.0,713.7L1671.7,713.7L1671.0,743.2L1671.7,761.8L1648.4,768.0L1646.1,758.7L1643.8,757.1L1624.4,757.1L1624.4,741.6L1625.2,713.7L1637.6,709.8L1636.0,699.7Z" fill="#277f8e"/>
<path d="M1708.2,681.8L1715.2,681.1L1719.1,685.7L1716.0,691.1L1716.8,698.1L1713.7,702.0L1708.2,702.0Z" fill="#277f8e"/>
<path d="M1763.4,719.1L1781.2,718.3L1782.0,737.0L1777.3,739.3L1783.5,731.5L1788.2,732.3L1790.5,737.0L1790.5,744.7L1774.2,745.5L1772.7,741.6L1766.5,741.6L1764.9,745.5L1758.7,740.1L1755.6,730.7L1763.4,729.2Z" fill="#277f8e"/>
<path class="f" d="M1423.3,814.6L1455.1,812.3L1468.3,816.1L1480.7,820.0L1487.0,813.0L1493.2,814.6L1494.7,818.5L1487.0,823.9L1485.4,831.7L1488.5,837.9L1483.9,850.0L1449.7,850.0L1449.7,844.1L1400.0,844.1L1400.0,827.0L1415.5,828.6L1423.3,827.0Z" fill="#277f8e"/>
<path d="M1423.3,814.6L1455.1,812.3L1468.3,816.1L1480.7,820.0L1487.0,813.0L1493.2,814.6L1494.7,818.5L1487.0,823.9L1485.4,831.7L1488.5,837.9L1483.9,850.0M1449.7,850.0L1449.7,844.1L1400.0,844.1M1400.0,827.0L1415.5,828.6L1423.3,827.0L1423.3,814.6" fill="none"/>
<path d="M1449.7,826.2L1455.1,812.3" fill="none"/>
<path d="M1423.3,827.0L1449.7,826.2L1449.7,844.1" fill="none"/>
<path class="f" d="M1400.0,813.0L1423.3,814.6L1423.3,827.0L1415.5,828.6L1400.0,827.0Z" fill="#365c8d"/>
<path d="M1400.0,813.0L1423.3,814.6L1423.3,827.0L1415.5,828.6L1400.0,827.0" fill="none"/>
<path class="f" d="M1400.0,844.1L1449.7,844.1L1449.7,850.0L1400.0,850.0Z" fill="#365c8d"/>
<path d="M1400.0,844.1L1449.7,844.1L1449.7,850.0" fill="none"/>
<path d="M1454.3,738.5L1456.7,739.3L1477.6,734.6L1479.2,743.2L1461.3,747.0L1465.2,758.7L1473.0,772.7L1480.7,782.0L1465.2,783.5L1459.8,761.8Z" fill="#277f8e"/>
<path d="M1472.2,747.5L1477.6,747.5L1477.6,752.5L1472.2,752.5Z" fill="#365c8d"/>
<path class="f" d="M1449.7,660.9L1451.2,655.4L1464.4,653.9L1464.4,650.0L1504.0,650.0L1500.9,657.0L1497.0,656.2L1491.6,660.9L1490.8,667.1L1484.6,663.2L1478.4,656.2L1473.0,660.1L1451.2,661.6Z" fill="#4ac16d"/>
<path d="M1449.7,660.9L1451.2,655.4L1464.4,653.9L1464.4,650.0M1504.0,650.0L1500.9,657.0L1497.0,656.2L1491.6,660.9L1490.8,667.1L1484.6,663.2L1478.4,656.2L1473.0,660.1L1451.2,661.6L1449.7,660.9" fill="none"/>
<path d="M1424.1,730.7L1433.4,709.8L1438.8,704.3L1445.0,698.1L1450.5,695.0L1454.3,698.1L1452.8,715.2L1449.7,730.7L1455.1,738.5L1451.2,736.2L1437.3,733.9L1426.4,733.1L1420.2,731.5Z" fill="#4ac16d"/>
<path d="M1544.4,711.3L1547.5,708.2L1559.9,704.3L1589.4,702.8L1590.2,730.7L1589.4,743.9L1580.1,743.2L1578.6,745.5L1572.4,743.2L1568.5,730.7L1564.6,711.3L1560.7,712.9L1563.0,727.6L1562.3,732.3L1558.4,730.7L1554.5,727.6L1550.6,728.4L1549.1,721.4Z" fill="#4ac16d"/>
<path d="M1564.6,668.6L1570.8,658.5L1580.1,655.4L1589.4,657.8L1586.3,660.9L1598.8,661.6L1609.6,667.9L1620.5,675.6L1629.8,683.4L1636.0,699.7L1637.6,709.8L1625.2,709.0L1606.5,706.7L1600.3,702.8L1589.4,702.8L1559.9,704.3L1558.4,699.7L1562.3,687.3L1568.5,676.4Z" fill="#4ac16d"/>
<path d="M1648.4,768.0L1671.7,761.8L1671.7,775.8L1662.4,783.5L1664.0,796.0L1626.7,799.8L1625.2,796.0L1620.5,789.8L1623.6,785.1L1646.9,778.9Z" fill="#4ac16d"/>
<path class="f" d="M1507.1,828.6L1514.9,827.8L1525.8,817.7L1530.4,806.8L1545.2,806.8L1542.9,817.7L1537.4,828.6L1538.2,839.4L1533.5,845.7L1530.4,850.0L1511.8,850.0L1510.2,836.3Z" fill="#4ac16d"/>
<path d="M1507.1,828.6L1514.9,827.8L1525.8,817.7L1530.4,806.8L1545.2,806.8L1542.9,817.7L1537.4,828.6L1538.2,839.4L1533.5,845.7L1530.4,850.0M1511.8,850.0L1510.2,836.3L1507.1,828.6" fill="none"/>
<path class="f" d="M1545.2,806.8L1556.8,805.3L1580.9,806.1L1577.0,816.1L1576.2,836.3L1573.9,850.0L1530.4,850.0L1533.5,845.7L1538.2,839.4L1537.4,828.6L1542.9,817.7Z" fill="#a0da39"/>
<path d="M1545.2,806.8L1556.8,805.3L1580.9,806.1L1577.0,816.1L1576.2,836.3L1573.9,850.0M1530.4,850.0L1533.5,845.7L1538.2,839.4L1537.4,828.6L1542.9,817.7L1545.2,806.8" fill="none"/>
<path class="f" d="M1577.0,816.1L1587.9,814.6L1591.8,818.5L1600.3,820.8L1603.4,830.1L1605.0,836.3L1614.3,838.7L1615.8,850.0L1573.9,850.0L1576.2,836.3Z" fill="#4ac16d"/>
<path d="M1577.0,816.1L1587.9,814.6L1591.8,818.5L1600.3,820.8L1603.4,830.1L1605.0,836.3L1614.3,838.7L1615.8,850.0M1573.9,850.0L1576.2,836.3L1577.0,816.1" fill="none"/>
<path class="f" d="M1615.8,838.7L1630.6,837.1L1631.4,850.0L1615.8,850.0Z" fill="#a0da39"/>
<path d="M1615.8,838.7L1630.6,837.1L1631.4,850.0M1615.8,850.0L1615.8,838.7" fill="none"/>
<path class="f" d="M1500.9,657.0L1504.0,650.0L1544.4,650.0L1553.0,656.2L1549.1,660.9L1558.4,665.5L1564.6,671.7L1568.5,676.4L1562.3,687.3L1558.4,699.7L1547.5,704.3L1538.2,705.1L1528.9,698.9L1524.2,691.9L1521.1,685.7L1516.5,679.5L1518.0,674.1L1510.2,675.6L1511.0,665.5L1505.6,663.2Z" fill="#a0da39"/>
<path d="M1500.9,657.0L1504.0,650.0M1544.4,650.0L1553.0,656.2L1549.1,660.9L1558.4,665.5L1564.6,671.7L1568.5,676.4L1562.3,687.3L1558.4,699.7L1547.5,704.3L1538.2,705.1L1528.9,698.9L1524.2,691.9L1521.1,685.7L1516.5,679.5L1518.0,674.1L1510.2,675.6L1511.0,665.5L1505.6,663.2L1500.9,657.0" fill="none"/>
<path d="M1606.5,763.4L1624.4,757.1L1643.8,757.1L1646.1,758.7L1648.4,768.0L1646.9,778.9L1623.6,785.1L1620.5,789.8L1617.4,794.4L1609.6,789.8L1601.9,792.9L1595.7,780.4L1608.1,778.9Z" fill="#a0da39"/>
<path d="M1664.0,796.0L1662.4,783.5L1671.7,775.8L1674.8,776.6L1676.4,780.4L1684.2,779.7L1688.8,791.3L1693.5,796.7L1698.1,799.1L1699.7,793.6L1716.0,793.6L1716.8,805.3L1684.2,814.6L1682.6,819.3L1667.1,812.3L1665.5,805.3Z" fill="#a0da39"/>
<path d="M1626.7,799.8L1664.0,796.0L1665.5,805.3L1667.1,812.3L1653.1,808.4L1651.6,814.6L1656.2,823.9L1654.7,826.2L1651.6,827.0L1651.6,836.3L1630.6,837.1L1629.8,809.2L1625.2,808.4Z" fill="#a0da39"/>
<path d="M1709.0,703.6L1722.2,702.8L1719.9,706.7L1718.3,713.7L1719.1,743.2L1719.9,761.8L1732.3,762.6L1731.5,774.2L1729.2,775.8L1736.2,779.7L1730.7,789.8L1726.1,795.2L1733.9,796.0L1746.3,800.6L1749.4,806.8L1744.7,814.6L1740.8,813.0L1743.2,802.2L1732.3,799.8L1716.8,805.3L1716.0,793.6L1709.8,792.9L1709.0,749.4L1705.9,750.9L1707.5,747.8L1705.9,743.9L1709.0,741.6L1709.0,713.7Z" fill="#a0da39"/>
<path class="f" d="M1781.2,718.3L1800.0,717.5L1800.0,761.8L1788.2,757.1L1772.7,769.6L1763.4,778.9L1757.1,782.0L1754.8,778.1L1740.1,778.9L1743.2,768.0L1746.3,763.4L1754.8,761.8L1755.6,750.9L1761.8,749.4L1762.6,745.5L1764.9,745.5L1766.5,741.6L1772.7,741.6L1774.2,745.5L1790.5,744.7L1790.5,737.0L1788.2,732.3L1783.5,731.5L1777.3,739.3L1782.0,737.0Z" fill="#a0da39"/>
<path d="M1781.2,718.3L1800.0,717.5M1800.0,761.8L1788.2,757.1L1772.7,769.6L1763.4,778.9L1757.1,782.0L1754.8,778.1L1740.1,778.9L1743.2,768.0L1746.3,763.4L1754.8,761.8L1755.6,750.9L1761.8,749.4L1762.6,745.5L1764.9,745.5L1766.5,741.6L1772.7,741.6L1774.2,745.5L1790.5,744.7L1790.5,737.0L1788.2,732.3L1783.5,731.5L1777.3,739.3L1782.0,737.0L1781.2,718.3" fill="none"/>
<path d="M1551.4,728.4L1554.5,727.6L1558.4,730.7L1562.3,732.3L1563.0,727.6L1560.7,712.9L1564.6,711.3L1568.5,730.7L1572.4,743.2L1578.6,745.5L1580.1,743.2L1589.4,743.9L1589.4,730.7L1605.0,731.5L1605.7,741.6L1624.4,741.6L1624.4,757.1L1606.5,763.4L1608.1,778.9L1595.7,780.4L1591.0,773.4L1568.5,774.2L1561.5,774.2L1555.3,768.0L1553.7,761.8L1549.8,755.6L1553.0,750.9L1550.6,746.3Z" fill="#365c8d"/>
<path d="M1491.6,660.9L1497.0,656.2L1500.9,658.5L1505.6,663.2L1511.0,665.5L1510.2,675.6L1490.8,667.1Z" fill="#365c8d"/>
<path d="M1589.4,731.5L1605.0,731.5L1605.7,741.6L1605.0,757.1L1590.2,757.9Z" fill="#46327e"/>
<path class="f" d="M1400.0,740.1L1409.3,739.3L1418.6,738.5L1420.2,731.5L1426.4,733.1L1437.3,733.9L1451.2,736.2L1455.1,738.5L1459.8,761.8L1465.2,783.5L1423.3,784.3L1410.9,785.1L1410.9,799.8L1400.0,800.6Z" fill="#46327e"/>
<path d="M1400.0,740.1L1409.3,739.3L1418.6,738.5L1420.2,731.5L1426.4,733.1L1437.3,733.9L1451.2,736.2L1455.1,738.5L1459.8,761.8L1465.2,783.5L1423.3,784.3L1410.9,785.1L1410.9,799.8L1400.0,800.6" fill="none"/>
<path d="M1420.2,731.5L1423.3,743.2L1428.0,749.4L1424.8,758.7L1431.1,768.0L1428.0,777.3L1423.3,784.3" fill="none"/>
<path class="f" d="M1487.0,823.9L1494.7,818.5L1499.4,820.0L1507.1,828.6L1510.2,836.3L1511.8,850.0L1483.9,850.0L1488.5,837.9L1485.4,831.7Z" fill="#46327e"/>
<path d="M1487.0,823.9L1494.7,818.5L1499.4,820.0L1507.1,828.6L1510.2,836.3L1511.8,850.0M1483.9,850.0L1488.5,837.9L1485.4,831.7L1487.0,823.9" fill="none"/>
<path class="f" d="M1400.0,800.6L1410.9,799.8L1410.9,812.3L1400.0,813.0Z" fill="#440154"/>
<path d="M1400.0,800.6L1410.9,799.8L1410.9,812.3L1400.0,813.0" fill="none"/>
<path d="M1608.9,753.3L1615.1,751.7L1615.1,758.7L1611.2,761.8L1609.6,758.7Z" fill="#fde725"/>
<path class="f" d="M1730.7,789.8L1736.2,779.7L1740.1,778.9L1754.8,778.1L1757.1,782.0L1763.4,778.9L1772.7,769.6L1788.2,757.1L1800.0,761.8L1800.0,850.0L1631.4,850.0L1630.6,837.1L1651.6,836.3L1651.6,827.0L1654.7,826.2L1656.2,823.9L1651.6,814.6L1653.1,808.4L1667.1,812.3L1682.6,819.3L1684.2,814.6L1716.8,805.3L1732.3,799.8L1743.2,802.2L1740.8,813.0L1744.7,814.6L1749.4,806.8L1746.3,800.6L1733.9,796.0L1726.1,795.2Z" fill="#fde725"/>
<path d="M1730.7,789.8L1736.2,779.7L1740.1,778.9L1754.8,778.1L1757.1,782.0L1763.4,778.9L1772.7,769.6L1788.2,757.1L1800.0,761.8M1631.4,850.0L1630.6,837.1L1651.6,836.3L1651.6,827.0L1654.7,826.2L1656.2,823.9L1651.6,814.6L1653.1,808.4L1667.1,812.3L1682.6,819.3L1684.2,814.6L1716.8,805.3L1732.3,799.8L1743.2,802.2L1740.8,813.0L1744.7,814.6L1749.4,806.8L1746.3,800.6L1733.9,796.0L1726.1,795.2L1730.7,789.8" fill="none"/>
<path d="M1682.6,819.3L1684.2,823.9L1678.0,823.9L1678.0,817.7" fill="none"/>
<path d="M1684.2,814.6L1684.2,836.3L1667.1,837.9L1673.3,844.1L1690.4,837.9L1699.7,844.1L1701.2,850.0" fill="none"/>
<path d="M1716.8,805.3L1719.9,820.8L1715.2,825.5L1719.9,836.3L1699.7,844.1" fill="none"/>
<path d="M1743.2,802.2L1740.1,820.8L1738.5,850.0" fill="none"/>
<path d="M1438.0,656.2L1449.7,660.9" fill="none"/>
<path d="M1438.0,656.2L1442.7,660.9L1454.3,667.9L1465.2,675.6L1474.5,686.5L1483.9,698.1L1487.0,704.3L1502.5,718.3L1496.3,727.6L1483.9,733.9L1477.6,734.6" fill="none"/>
<path d="M1449.7,669.4L1451.2,661.6" fill="none"/>
<path d="M1518.0,674.1L1516.5,679.5L1521.1,685.7L1524.2,691.9L1525.8,696.6L1519.6,705.9L1518.0,713.7L1522.7,721.4L1526.6,723.8L1514.9,732.3L1511.8,727.6L1500.9,724.5" fill="none"/>
<path d="M1538.2,705.1L1544.4,711.3L1549.1,721.4L1551.4,728.4L1552.2,743.2L1532.0,741.6L1524.2,746.3L1508.7,743.2L1493.2,747.0L1479.2,746.3L1479.2,743.2" fill="none"/>
<path d="M1479.2,746.3L1479.2,774.2L1497.8,771.1L1497.8,761.8L1505.6,758.7L1511.8,761.8L1511.8,774.2L1519.6,782.0L1521.1,772.7L1546.0,763.4L1549.8,755.6" fill="none"/>
<path d="M1505.6,758.7L1505.6,747.0" fill="none"/>
<path d="M1480.7,782.0L1511.8,774.2" fill="none"/>
<path d="M1474.5,712.1L1477.6,707.5L1482.3,710.6L1487.0,704.3" fill="none"/>
<path d="M1474.5,712.1L1477.6,723.0L1479.2,734.6" fill="none"/>
<path d="M1558.4,805.3L1559.9,788.2L1567.7,782.0L1568.5,774.2" fill="none"/>
<path d="M1590.2,702.8L1600.3,706.7L1625.2,709.0" fill="none"/>
<path d="M1590.2,757.9L1591.0,773.4" fill="none"/>
<path d="M1519.6,782.0L1558.4,788.2" fill="none"/>
<path d="M1671.7,713.7L1671.7,703.6" fill="none"/>
<path d="M1722.2,702.8L1719.9,706.7L1718.3,713.7" fill="none"/>
<path class="f" d="M1508.7,849.7L1532.0,846.6L1569.3,848.1L1570.0,871.4L1580.9,872.2L1581.7,880.7L1592.5,885.4L1600.3,884.6L1600.3,900.9L1511.8,900.9L1508.7,880.7Z" fill="#fde725"/>
<path d="M1508.7,849.7L1532.0,846.6L1569.3,848.1" fill="none"/>
<path d="M1532.0,846.6L1538.2,838.8L1537.4,824.8L1542.9,821.7L1544.4,809.3L1546.7,806.2L1577.0,806.2L1577.0,815.5L1572.4,846.6L1569.3,848.1L1552.2,849.7L1539.8,848.1Z" fill="#a0da39"/>
<path d="M1577.0,815.5L1583.2,819.4L1589.4,814.0L1591.0,818.6L1603.4,819.4L1605.0,828.0L1609.6,830.3L1614.3,833.4L1615.1,840.4L1602.6,841.1L1601.9,845.0L1615.8,846.6L1611.2,848.1L1610.4,874.5L1609.6,884.6L1600.3,885.4L1592.5,884.6L1581.7,880.7L1580.9,872.2L1570.0,871.4L1569.3,848.1L1572.4,846.6Z" fill="#4ac16d"/>
<path d="M1611.2,848.1L1615.8,846.6L1631.4,846.6L1632.9,868.3L1639.1,871.4L1646.9,880.7L1639.1,884.6L1632.9,892.4L1626.7,885.4L1609.6,884.6L1610.4,874.5Z" fill="#a0da39"/>
<path d="M1508.7,880.7L1514.9,884.6L1518.8,880.7L1532.0,885.4L1535.1,877.6L1540.5,868.3L1561.5,863.7L1564.6,868.3L1564.6,887.0L1558.4,887.0L1558.4,891.6L1549.1,893.2L1532.0,885.4" fill="none"/>
<path d="M1564.6,887.0L1564.6,908.7L1559.9,907.1L1561.5,911.8L1566.1,913.4L1564.6,916.5L1555.3,917.2" fill="none"/>
<path d="M1569.3,914.1L1611.2,917.2" fill="none"/>
<path d="M1595.7,890.1L1608.1,904.0L1612.7,910.2" fill="none"/>
<path class="f" d="M1200.0,890.0L1233.4,890.0L1225.6,897.0L1219.4,907.5L1207.8,899.3L1200.0,894.7Z" fill="#277f8e"/>
<path d="M1233.4,890.0L1225.6,897.0L1219.4,907.5L1207.8,899.3L1200.0,894.7" fill="none"/>
<path class="f" d="M1233.4,890.0L1250.5,890.0L1238.8,901.6L1225.6,911.0L1219.4,907.5L1225.6,897.0Z" fill="#46327e"/>
<path d="M1250.5,890.0L1238.8,901.6L1225.6,911.0L1219.4,907.5L1225.6,897.0L1233.4,890.0" fill="none"/>
<path class="f" d="M1250.5,890.0L1266.8,890.0L1274.5,899.3L1245.0,918.0L1240.4,913.3L1244.3,908.6L1238.8,901.6Z" fill="#365c8d"/>
<path d="M1266.8,890.0L1274.5,899.3L1245.0,918.0L1240.4,913.3L1244.3,908.6L1238.8,901.6L1250.5,890.0" fill="none"/>
<path d="M1225.6,911.0L1238.8,901.6L1244.3,908.6L1240.4,913.3L1245.0,918.0L1237.3,924.9Z" fill="#440154"/>
<path class="f" d="M1961.5,1121.1L1970.8,1124.3L1980.1,1126.6L1991.0,1124.3L1994.1,1128.9L2000.3,1130.5L2000.3,1134.3L1961.5,1134.3Z" fill="#a0da39"/>
<path d="M1961.5,1121.1L1970.8,1124.3L1980.1,1126.6L1991.0,1124.3L1994.1,1128.9L2000.3,1130.5M1961.5,1134.3L1961.5,1121.1" fill="none"/>
<path class="f" d="M1893.2,1100.2L1914.1,1100.2L1914.1,1092.4L1935.1,1090.1L1937.4,1080.0L1962.3,1080.0L1962.3,1100.2L1961.5,1121.1L1932.0,1121.9L1921.1,1118.8L1893.2,1118.8Z" fill="#4ac16d"/>
<path d="M1893.2,1100.2L1914.1,1100.2L1914.1,1092.4L1935.1,1090.1L1937.4,1080.0M1962.3,1100.2L1961.5,1121.1L1932.0,1121.9L1921.1,1118.8L1893.2,1118.8" fill="none"/>
<path class="f" d="M1953.0,1179.4L1999.5,1179.4L1999.5,1199.6L1953.0,1199.6Z" fill="#4ac16d"/>
<path class="f" d="M1893.2,1202.7L1915.7,1202.7L1915.7,1233.0L1911.8,1238.4L1901.7,1239.9L1893.2,1239.9Z" fill="#fde725"/>
<path d="M1893.2,1202.7L1915.7,1202.7L1915.7,1233.0L1911.8,1238.4L1901.7,1239.9L1893.2,1239.9" fill="none"/>
<path class="f" d="M1956.8,1204.2L1991.0,1204.2L1978.6,1233.0L1956.8,1233.0Z" fill="#277f8e"/>
<path class="f" d="M1991.0,1204.2L2000.3,1204.2L2000.3,1233.0L1978.6,1233.0Z" fill="#4ac16d"/>
<path class="f" d="M1949.8,1253.9L1956.8,1243.0L1970.8,1233.7L1978.6,1233.0L1994.1,1233.0L1980.1,1244.6L1964.6,1264.8Z" fill="#1fa187"/>
<path d="M1949.8,1253.9L1956.8,1243.0L1970.8,1233.7L1978.6,1233.0M1994.1,1233.0L1980.1,1244.6L1964.6,1264.8L1949.8,1253.9" fill="none"/>
<path class="f" d="M1994.1,1233.0L2000.3,1233.0L2000.3,1250.8L1980.1,1264.8L1964.6,1264.8L1980.1,1244.6Z" fill="#4ac16d"/>
<path d="M1980.1,1264.8L1964.6,1264.8L1980.1,1244.6L1994.1,1233.0" fill="none"/>
<path class="k" d="M611.2,818.0L620.2,818.6L631.1,824.2L641.9,828.9L657.5,835.1L673.0,838.2L707.1,857.5L733.5,865.5L758.4,879.2L777.0,885.7L786.3,882.6L823.6,890.4L862.4,895.7L873.3,901.9L885.7,911.2L913.7,936.6L924.5,928.3L929.2,917.4L937.0,910.6L966.5,901.9L977.3,897.2L997.5,895.7L1016.1,899.7L1041.0,895.7L1048.8,888.8L1059.6,887.3L1089.1,888.5L1115.5,888.5L1124.8,885.7L1157.5,883.2L1182.3,886.3L1208.7,898.8L1207.8,900.0L1218.9,908.1L1225.2,913.7L1237.3,925.9L1247.7,937.6L1255.4,950.0L1263.7,960.9L1271.4,971.7L1276.1,978.4L1280.7,987.0L1285.6,998.4L1291.9,1011.6L1297.8,1024.2L1302.8,1036.6L1304.3,1040.1L1311.8,1056.8L1318.9,1072.4L1325.5,1086.3L1327.2,1090.1L1331.5,1100.0L1336.6,1112.4L1340.5,1121.7L1343.6,1131.1L1345.2,1146.6L1344.4,1162.1L1341.6,1173.0L1330.4,1177.6L1321.1,1188.5L1311.8,1200.9L1307.1,1211.0L1314.9,1227.3L1325.8,1251.4L1341.3,1258.4L1353.0,1250.6L1378.6,1256.8L1392.5,1269.3L1423.6,1284.0L1448.4,1294.1L1460.9,1288.7L1495.0,1280.9L1518.3,1259.5L1553.3,1259.2L1558.7,1253.7L1554.0,1235.1L1563.4,1220.3L1578.9,1219.6L1600.0,1224.2L1614.0,1232.0L1631.1,1244.4L1645.0,1253.7L1659.0,1259.9L1671.4,1268.5L1683.9,1280.1L1694.7,1292.5L1700.9,1300.0L1721.1,1323.3L1750.6,1349.7L1766.1,1359.8L1798.8,1380.7L1815.1,1392.4L1829.8,1409.9L1851.6,1414.9L1879.5,1423.4L1899.7,1435.1L1921.4,1447.5L1947.8,1473.1L1961.8,1480.9L1979.7,1485.6L1991.3,1500.0L2007.6,1519.5" fill="none"/>
</g>
<g id="cities">
<circle cx="1178.0" cy="449.7" r="5.5" fill="#000"/>
<circle cx="1592.5" cy="744.3" r="5.5" fill="#000"/>
<circle cx="1403.5" cy="816.5" r="5.5" fill="#000"/>
<circle cx="1489.5" cy="879.0" r="5.5" fill="#000"/>
<circle cx="2000.5" cy="850.5" r="5.5" fill="#000"/>
<circle cx="1397.5" cy="1134.5" r="5.5" fill="#000"/>
<circle cx="1550.2" cy="1212.3" r="5.5" fill="#000"/>
<circle cx="1837.5" cy="1126.2" r="5.5" fill="#000"/>
<circle cx="1811.5" cy="1202.3" r="5.5" fill="#000"/>
<circle cx="1887.5" cy="1236.3" r="5.5" fill="#000"/>
<circle cx="1754.5" cy="1344.6" r="5.5" fill="#000"/>
<rect class="lbox" x="1184.6" y="418.2" width="172.2" height="28.9" rx="4" ry="4"/>
<rect class="lbox" x="1599.1" y="711.8" width="129.6" height="28.9" rx="4" ry="4"/>
<rect class="lbox" x="1410.1" y="784.0" width="139.4" height="28.9" rx="4" ry="4"/>
<rect class="lbox" x="1496.1" y="847.3" width="180.3" height="28.9" rx="4" ry="4"/>
<rect class="lbox" x="2007.1" y="818.0" width="109.7" height="28.9" rx="4" ry="4"/>
<rect class="lbox" x="1404.1" y="1102.0" width="117.3" height="28.9" rx="4" ry="4"/>
<rect class="lbox" x="1556.8" y="1180.8" width="153.8" height="28.9" rx="4" ry="4"/>
<rect class="lbox" x="1844.1" y="1093.7" width="118.6" height="28.9" rx="4" ry="4"/>
<rect class="lbox" x="1818.1" y="1170.6" width="181.6" height="28.9" rx="4" ry="4"/>
<rect class="lbox" x="1894.1" y="1203.8" width="137.1" height="28.9" rx="4" ry="4"/>
<rect class="lbox" x="1761.1" y="1312.1" width="234.5" height="28.9" rx="4" ry="4"/>
<text class="city" x="1189.1" y="438.8">Santa Clarita</text>
<text class="city" x="1603.6" y="732.4">Pasadena</text>
<text class="city" x="1414.6" y="804.6">Hollywood</text>
<text class="city" x="1500.6" y="867.9">Downtown LA</text>
<text class="city" x="2011.6" y="838.6">Pomona</text>
<text class="city" x="1408.6" y="1122.6">Torrance</text>
<text class="city" x="1561.3" y="1201.4">Long Beach</text>
<text class="city" x="1848.6" y="1114.3">Anaheim</text>
<text class="city" x="1822.6" y="1191.2">Garden Grove</text>
<text class="city" x="1898.6" y="1224.4">Santa Ana</text>
<text class="city" x="1765.6" y="1332.7">Huntington Beach</text>
</g>
<g id="colorbar">
<rect x="2848" y="240" width="44" height="140" fill="#fde725"/>
<rect x="2848" y="380" width="44" height="140" fill="#a0da39"/>
<rect x="2848" y="520" width="44" height="140" fill="#4ac16d"/>
<rect x="2848" y="660" width="44" height="140" fill="#1fa187"/>
<rect x="2848" y="800" width="44" height="140" fill="#277f8e"/>
<rect x="2848" y="940" width="44" height="140" fill="#365c8d"/>
<rect x="2848" y="1080" width="44" height="140" fill="#46327e"/>
<rect x="2848" y="1220" width="44" height="140" fill="#440154"/>
<rect x="2848" y="240" width="44" height="1120" fill="none" stroke="#000" stroke-width="2.2"/>
<g stroke="#000" stroke-width="2.2">
<line x1="2892" y1="240" x2="2902" y2="240"/>
<line x1="2892" y1="380" x2="2902" y2="380"/>
<line x1="2892" y1="520" x2="2902" y2="520"/>
<line x1="2892" y1="660" x2="2902" y2="660"/>
<line x1="2892" y1="800" x2="2902" y2="800"/>
<line x1="2892" y1="940" x2="2902" y2="940"/>
<line x1="2892" y1="1080" x2="2902" y2="1080"/>
<line x1="2892" y1="1220" x2="2902" y2="1220"/>
<line x1="2892" y1="1360" x2="2902" y2="1360"/>
</g>
<text class="tick" x="2911.5" y="250.5">3.5</text>
<text class="tick" x="2911.5" y="390.5">3.2</text>
<text class="tick" x="2911.5" y="530.5">3.0</text>
<text class="tick" x="2911.5" y="670.5">2.8</text>
<text class="tick" x="2911.5" y="810.5">2.5</text>
<text class="tick" x="2911.5" y="950.5">2.2</text>
<text class="tick" x="2911.5" y="1090.5">2.0</text>
<text class="tick" x="2911.5" y="1230.5">1.8</text>
<text class="tick" x="2911.5" y="1370.5">1.5</text>
</g>
<text class="title" x="1600" y="75" text-anchor="middle">Household Average Size by Zip Code (ZCTA5) — Los Angeles Metro</text>
<text class="foot" x="2944" y="1498" text-anchor="end">© ZipCrawl</text>
<text class="foot" x="2944" y="1546" text-anchor="end">Data: U.S. Census Bureau, 2023 ACS</text>
</svg>
</body>
</html>
